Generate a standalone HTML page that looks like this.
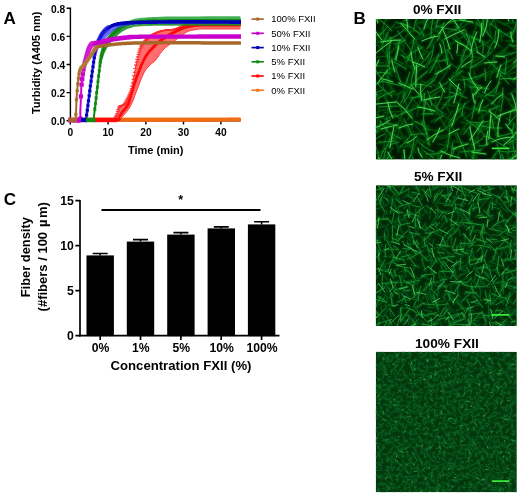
<!DOCTYPE html>
<html><head><meta charset="utf-8"><title>Figure</title>
<style>
html,body{margin:0;padding:0;background:#fff}
svg{display:block}
text{font-family:"Liberation Sans",Arial,Helvetica,sans-serif;fill:#000}
.b{font-weight:bold}
</style></head><body>
<svg width="520" height="496" viewBox="0 0 520 496">
<defs><filter id="bl" x="-5%" y="-5%" width="110%" height="110%"><feGaussianBlur stdDeviation="0.55"/></filter><filter id="bl2" x="-5%" y="-5%" width="110%" height="110%"><feGaussianBlur stdDeviation="1.3"/></filter>
<clipPath id="cA"><rect x="68" y="0" width="173" height="123"/></clipPath></defs>
<rect width="520" height="496" fill="#fff"/>
<path d="M70.4,7.6V121.4" stroke="#000" stroke-width="1.4" fill="none"/>
<path d="M69.6,120.7H240.6" stroke="#000" stroke-width="1.5" fill="none"/>
<path d="M66.6,8.3H70.3M66.6,36.4H70.3M66.6,64.5H70.3M66.6,92.6H70.3M66.6,120.7H70.3" stroke="#000" stroke-width="1.4"/>
<path d="M70.3,120.7V124.6M108.1,120.7V124.6M145.9,120.7V124.6M183.5,120.7V124.6M220.9,120.7V124.6" stroke="#000" stroke-width="1.4"/>
<text x="65.2" y="12.5" text-anchor="end" class="b" font-size="10.2">0.8</text>
<text x="65.2" y="40.6" text-anchor="end" class="b" font-size="10.2">0.6</text>
<text x="65.2" y="68.7" text-anchor="end" class="b" font-size="10.2">0.4</text>
<text x="65.2" y="96.8" text-anchor="end" class="b" font-size="10.2">0.2</text>
<text x="65.2" y="124.9" text-anchor="end" class="b" font-size="10.2">0.0</text>
<text x="70.3" y="135.7" text-anchor="middle" class="b" font-size="10.2">0</text>
<text x="108.1" y="135.7" text-anchor="middle" class="b" font-size="10.2">10</text>
<text x="145.9" y="135.7" text-anchor="middle" class="b" font-size="10.2">20</text>
<text x="183.5" y="135.7" text-anchor="middle" class="b" font-size="10.2">30</text>
<text x="220.9" y="135.7" text-anchor="middle" class="b" font-size="10.2">40</text>
<text x="155.7" y="153.5" text-anchor="middle" class="b" font-size="11">Time (min)</text>
<text transform="translate(39.9,62.8) rotate(-90)" text-anchor="middle" class="b" font-size="11">Turbidity (A405 nm)</text>
<text x="3.4" y="24.2" class="b" font-size="17">A</text>
<g clip-path="url(#cA)">
<path d="M70.2,119.9 L200.0,119.9 L222.0,119.7 L232.0,119.3 L240.2,119.3" fill="none" stroke="#f26c14" stroke-width="2.6"/>
<path d="M70.2,119.9h0M70.8,119.9h0M71.5,119.9h0M72.1,119.9h0M72.7,119.9h0M73.4,119.9h0M74.0,119.9h0M74.6,119.9h0M75.3,119.9h0M75.9,119.9h0M76.5,119.9h0M77.2,119.9h0M77.8,119.9h0M78.4,119.9h0M79.0,119.9h0M79.7,119.9h0M80.3,119.9h0M80.9,119.9h0M81.6,119.9h0M82.2,119.9h0M82.8,119.9h0M83.5,119.9h0M84.1,119.9h0M84.7,119.9h0M85.4,119.9h0M86.0,119.9h0M86.6,119.9h0M87.3,119.9h0M87.9,119.9h0M88.5,119.9h0M89.2,119.9h0M89.8,119.9h0M90.4,119.9h0M91.1,119.9h0M91.7,119.9h0M92.3,119.9h0M93.0,119.9h0M93.6,119.9h0M94.2,119.9h0M94.8,119.9h0M95.5,119.9h0M96.1,119.9h0M96.7,119.9h0M97.4,119.9h0M98.0,119.9h0M98.6,119.9h0M99.3,119.9h0M99.9,119.9h0M100.5,119.9h0M101.2,119.9h0M101.8,119.9h0M102.4,119.9h0M103.1,119.9h0M103.7,119.9h0M104.3,119.9h0M105.0,119.9h0M105.6,119.9h0M106.2,119.9h0M106.9,119.9h0M107.5,119.9h0M108.1,119.9h0M108.8,119.9h0M109.4,119.9h0M110.0,119.9h0M110.6,119.9h0M111.3,119.9h0M111.9,119.9h0M112.5,119.9h0M113.2,119.9h0M113.8,119.9h0M114.4,119.9h0M115.1,119.9h0M115.7,119.9h0M116.3,119.9h0M117.0,119.9h0M117.6,119.9h0M118.2,119.9h0M118.9,119.9h0M119.5,119.9h0M120.1,119.9h0M120.8,119.9h0M121.4,119.9h0M122.0,119.9h0M122.7,119.9h0M123.3,119.9h0M123.9,119.9h0M124.6,119.9h0M125.2,119.9h0M125.8,119.9h0M126.4,119.9h0M127.1,119.9h0M127.7,119.9h0M128.3,119.9h0M129.0,119.9h0M129.6,119.9h0M130.2,119.9h0M130.9,119.9h0M131.5,119.9h0M132.1,119.9h0M132.8,119.9h0M133.4,119.9h0M134.0,119.9h0M134.7,119.9h0M135.3,119.9h0M135.9,119.9h0M136.6,119.9h0M137.2,119.9h0M137.8,119.9h0M138.5,119.9h0M139.1,119.9h0M139.7,119.9h0M140.4,119.9h0M141.0,119.9h0M141.6,119.9h0M142.2,119.9h0M142.9,119.9h0M143.5,119.9h0M144.1,119.9h0M144.8,119.9h0M145.4,119.9h0M146.0,119.9h0M146.7,119.9h0M147.3,119.9h0M147.9,119.9h0M148.6,119.9h0M149.2,119.9h0M149.8,119.9h0M150.5,119.9h0M151.1,119.9h0M151.7,119.9h0M152.4,119.9h0M153.0,119.9h0M153.6,119.9h0M154.3,119.9h0M154.9,119.9h0M155.5,119.9h0M156.2,119.9h0M156.8,119.9h0M157.4,119.9h0M158.0,119.9h0M158.7,119.9h0M159.3,119.9h0M159.9,119.9h0M160.6,119.9h0M161.2,119.9h0M161.8,119.9h0M162.5,119.9h0M163.1,119.9h0M163.7,119.9h0M164.4,119.9h0M165.0,119.9h0M165.6,119.9h0M166.3,119.9h0M166.9,119.9h0M167.5,119.9h0M168.2,119.9h0M168.8,119.9h0M169.4,119.9h0M170.1,119.9h0M170.7,119.9h0M171.3,119.9h0M172.0,119.9h0M172.6,119.9h0M173.2,119.9h0M173.8,119.9h0M174.5,119.9h0M175.1,119.9h0M175.7,119.9h0M176.4,119.9h0M177.0,119.9h0M177.6,119.9h0M178.3,119.9h0M178.9,119.9h0M179.5,119.9h0M180.2,119.9h0M180.8,119.9h0M181.4,119.9h0M182.1,119.9h0M182.7,119.9h0M183.3,119.9h0M184.0,119.9h0M184.6,119.9h0M185.2,119.9h0M185.9,119.9h0M186.5,119.9h0M187.1,119.9h0M187.8,119.9h0M188.4,119.9h0M189.0,119.9h0M189.6,119.9h0M190.3,119.9h0M190.9,119.9h0M191.5,119.9h0M192.2,119.9h0M192.8,119.9h0M193.4,119.9h0M194.1,119.9h0M194.7,119.9h0M195.3,119.9h0M196.0,119.9h0M196.6,119.9h0M197.2,119.9h0M197.9,119.9h0M198.5,119.9h0M199.1,119.9h0M199.8,119.9h0M200.4,119.9h0M201.0,119.9h0M201.7,119.9h0M202.3,119.9h0M202.9,119.9h0M203.6,119.9h0M204.2,119.9h0M204.8,119.9h0M205.4,119.9h0M206.1,119.9h0M206.7,119.9h0M207.3,119.9h0M208.0,119.9h0M208.6,119.9h0M209.2,119.9h0M209.9,119.9h0M210.5,119.9h0M211.1,119.9h0M211.8,119.9h0M212.4,119.9h0M213.0,119.9h0M213.7,119.9h0M214.3,119.9h0M214.9,119.9h0M215.6,119.9h0M216.2,119.9h0M216.8,119.8h0M217.5,119.8h0M218.1,119.8h0M218.7,119.8h0M219.4,119.8h0M220.0,119.8h0M220.6,119.7h0M221.2,119.7h0M221.9,119.7h0M222.5,119.7h0M223.1,119.7h0M223.8,119.7h0M224.4,119.6h0M225.0,119.6h0M225.7,119.6h0M226.3,119.6h0M226.9,119.5h0M227.6,119.5h0M228.2,119.5h0M228.8,119.4h0M229.5,119.4h0M230.1,119.4h0M230.7,119.3h0M231.4,119.3h0M232.0,119.3h0M232.6,119.3h0M233.3,119.3h0M233.9,119.3h0M234.5,119.3h0M235.2,119.3h0M235.8,119.3h0M236.4,119.3h0M237.0,119.3h0M237.7,119.3h0M238.3,119.3h0M238.9,119.3h0M239.6,119.3h0M240.2,119.3h0" fill="none" stroke="#f26c14" stroke-width="3.2" stroke-linecap="round"/>
<path d="M70.2,119.7h0M72.1,119.7h0M74.0,119.7h0M75.9,119.7h0M77.8,119.7h0M79.7,119.7h0M81.6,119.7h0M83.5,119.7h0M85.4,119.7h0M87.3,119.7h0M89.2,119.7h0M91.0,119.7h0M92.9,119.7h0M94.8,119.7h0M96.7,119.7h0M98.6,119.7h0M100.5,119.7h0M102.4,119.7h0M104.3,119.7h0M106.2,119.7h0M108.1,119.7h0M110.0,119.7h0M111.9,119.7h0M113.8,119.7h0M115.7,119.7h0M117.6,119.7h0M119.5,119.7h0M121.4,119.7h0M123.3,119.7h0M125.2,119.7h0M127.1,119.7h0M128.9,119.7h0M130.8,119.7h0M132.7,119.7h0M134.6,119.7h0M136.5,119.7h0M138.4,119.7h0M140.3,119.7h0M142.2,119.7h0M144.1,119.7h0M146.0,119.7h0M147.9,119.7h0M149.8,119.7h0M151.7,119.7h0M153.6,119.7h0M155.5,119.7h0M157.4,119.7h0M159.3,119.7h0M161.2,119.7h0M163.1,119.7h0M164.9,119.7h0M166.8,119.7h0M168.7,119.7h0M170.6,119.7h0M172.5,119.7h0M174.4,119.7h0M176.3,119.7h0M178.2,119.7h0M180.1,119.7h0M182.0,119.7h0M183.9,119.7h0M185.8,119.7h0M187.7,119.7h0M189.6,119.7h0M191.5,119.7h0M193.4,119.7h0M195.3,119.7h0M197.2,119.7h0M199.1,119.7h0M201.0,119.7h0M202.9,119.7h0M204.7,119.7h0M206.6,119.7h0M208.5,119.7h0M210.4,119.7h0M212.3,119.7h0M214.2,119.7h0M216.1,119.7h0M218.0,119.7h0M219.9,119.7h0M221.8,119.7h0M223.7,119.7h0M225.6,119.7h0M227.5,119.7h0M229.4,119.7h0M231.3,119.7h0M233.2,119.7h0M235.1,119.7h0M237.0,119.7h0M238.9,119.7h0" stroke="#f26c14" stroke-width="4.3" stroke-linecap="round" fill="none"/>
<path d="M114.0,120.5 L114.4,119.6 L115.1,118.3 L115.8,116.7 L116.5,115.0 L117.2,113.0 L117.9,110.7 L118.6,108.5 L119.5,106.8 L120.5,105.9 L121.6,105.5 L122.8,105.3 L123.8,104.7 L124.7,103.8 L125.4,102.9 L126.2,101.6 L127.0,100.0 L128.0,97.9 L129.1,95.5 L130.2,92.8 L131.2,89.9 L132.0,86.7 L132.7,83.2 L133.4,79.5 L134.0,76.0 L134.6,72.6 L135.2,69.3 L135.8,65.9 L136.5,62.4 L137.4,58.6 L138.4,54.6 L139.5,50.7 L140.7,47.5 L141.9,45.1 L143.2,43.1 L144.6,41.5 L146.0,40.0 L147.4,38.5 L148.9,37.2 L150.5,36.0 L152.4,34.8 L154.5,33.7 L156.8,32.6 L159.3,31.6 L162.0,30.8 L165.1,30.3 L168.4,30.0 L171.8,29.7 L175.0,29.2 L177.8,28.3 L180.5,27.1 L183.1,25.9 L185.6,25.0 L187.2,24.5 L188.1,24.1 L190.1,23.9 L195.0,23.8 L204.9,23.7 L218.3,23.7 L231.4,23.8 L240.4,23.8 L240.4,29.0 L233.6,29.0 L223.8,29.0 L213.7,29.0 L206.0,29.0 L201.8,29.1 L199.4,29.1 L197.9,29.3 L196.0,29.6 L193.6,30.0 L191.3,30.4 L189.0,31.1 L186.5,32.2 L183.6,34.0 L180.5,36.3 L177.5,38.6 L175.0,40.6 L173.1,42.0 L171.7,43.0 L170.4,44.0 L169.0,45.0 L167.5,46.1 L166.1,47.1 L164.6,48.4 L163.0,50.0 L161.2,52.3 L159.2,55.1 L157.3,57.9 L155.5,60.2 L154.0,61.7 L152.7,62.7 L151.4,63.7 L150.0,65.0 L148.5,66.5 L147.0,68.2 L145.5,70.2 L143.9,72.9 L142.2,76.6 L140.4,81.0 L138.7,85.7 L137.0,90.0 L135.5,93.9 L134.1,97.8 L132.7,101.4 L131.2,104.7 L129.5,107.7 L127.6,110.4 L125.7,112.9 L124.0,115.0 L122.3,116.8 L120.5,118.4 L119.1,119.6 L118.0,120.5Z" fill="#ff4a4a" fill-opacity="0.8"/>
<path d="M113.3,118.2h3.6M113.3,118.2h3.6M113.9,116.9h3.6M113.9,116.9h3.6M114.5,115.4h3.6M114.5,115.4h3.6M115.2,113.7h3.6M115.2,113.7h3.6M115.8,111.6h3.6M115.8,111.6h3.6M116.4,109.6h3.6M116.4,109.6h3.6M117.1,108.0h3.6M117.1,108.0h3.6M117.7,106.8h3.6M117.7,106.8h3.6M118.3,106.1h3.6M118.3,106.1h3.6M119.0,105.8h3.6M119.0,105.8h3.6M119.6,105.6h3.6M119.6,105.6h3.6M120.2,105.4h3.6M120.2,105.4h3.6M120.9,105.3h3.6M120.9,105.3h3.6M121.5,105.0h3.6M121.5,105.0h3.6M122.1,104.6h3.6M122.1,104.6h3.6M122.8,103.9h3.6M122.8,103.9h3.6M123.4,103.2h3.6M123.4,103.2h3.6M124.0,102.2h3.6M124.0,102.2h3.6M124.6,101.1h3.6M124.6,101.1h3.6M125.3,99.8h3.6M125.3,99.8h3.6M125.9,98.6h3.6M125.9,98.6h3.6M126.5,97.2h3.6M126.5,97.2h3.6M127.2,95.9h3.6M127.2,95.9h3.6M127.8,94.4h3.6M127.8,94.4h3.6M128.4,92.8h3.6M128.4,92.8h3.6M129.1,91.0h3.6M129.1,91.0h3.6M129.7,88.8h3.6M129.7,88.8h3.6M130.3,86.1h3.6M130.3,86.1h3.6M131.0,82.8h3.6M131.0,82.8h3.6M131.6,79.3h3.6M131.6,79.3h3.6M132.2,75.8h3.6M132.2,75.8h3.6M132.9,72.3h3.6M132.9,72.3h3.6M133.5,68.5h3.6M133.5,68.5h3.6M134.1,65.0h3.6M134.1,65.0h3.6M134.8,62.1h3.6M134.8,62.1h3.6M135.4,59.5h3.6M135.4,59.5h3.6M136.0,56.9h3.6M136.0,56.9h3.6M136.7,54.5h3.6M136.7,54.5h3.6M137.3,52.2h3.6M137.3,52.2h3.6M137.9,50.2h3.6M137.9,50.2h3.6M138.6,48.4h3.6M138.6,48.4h3.6M139.2,46.9h3.6M139.2,46.9h3.6M139.8,45.6h3.6M139.8,45.6h3.6M140.4,44.5h3.6M140.4,44.5h3.6M141.1,43.6h3.6M141.1,43.6h3.6M141.7,42.8h3.6M141.7,42.8h3.6M142.3,42.0h3.6M142.3,42.0h3.6M143.0,41.3h3.6M143.0,41.3h3.6M143.6,40.6h3.6M143.6,40.6h3.6M144.2,40.0h3.6M144.2,40.0h3.6M144.9,39.3h3.6M144.9,39.3h3.6M145.5,38.7h3.6M145.5,38.7h3.6M146.1,38.0h3.6M146.1,38.0h3.6M146.8,37.5h3.6M146.8,37.5h3.6M147.4,37.0h3.6M147.4,37.0h3.6M148.0,36.5h3.6M148.0,36.5h3.6M148.7,36.0h3.6M148.7,36.0h3.6M149.3,35.6h3.6M149.3,35.6h3.6M149.9,35.2h3.6M149.9,35.2h3.6M150.6,34.8h3.6M150.6,34.8h3.6M151.2,34.5h3.6M151.2,34.5h3.6M151.8,34.1h3.6M151.8,34.1h3.6M152.5,33.8h3.6M152.5,33.8h3.6M153.1,33.5h3.6M153.1,33.5h3.6M153.7,33.2h3.6M153.7,33.2h3.6M154.4,32.9h3.6M154.4,32.9h3.6M155.0,32.6h3.6M155.0,32.6h3.6M155.6,32.3h3.6M155.6,32.3h3.6M156.2,32.1h3.6M156.2,32.1h3.6M156.9,31.8h3.6M156.9,31.8h3.6M157.5,31.6h3.6M157.5,31.6h3.6M158.1,31.4h3.6M158.1,31.4h3.6M158.8,31.2h3.6M158.8,31.2h3.6M159.4,31.0h3.6M159.4,31.0h3.6M160.0,30.8h3.6M160.0,30.8h3.6M160.7,30.7h3.6M160.7,30.7h3.6M161.3,30.6h3.6M161.3,30.6h3.6M161.9,30.5h3.6M161.9,30.5h3.6M162.6,30.4h3.6M162.6,30.4h3.6M163.2,30.3h3.6M163.2,30.3h3.6M163.8,30.2h3.6M163.8,30.2h3.6M164.5,30.2h3.6M164.5,30.2h3.6M165.1,30.1h3.6M165.1,30.1h3.6M165.7,30.1h3.6M165.7,30.1h3.6M166.4,30.0h3.6M166.4,30.0h3.6M167.0,30.0h3.6M167.0,30.0h3.6M167.6,29.9h3.6M167.6,29.9h3.6M168.3,29.9h3.6M168.3,29.9h3.6M168.9,29.8h3.6M168.9,29.8h3.6M169.5,29.8h3.6M169.5,29.8h3.6M170.2,29.7h3.6M170.2,29.7h3.6M170.8,29.6h3.6M170.8,29.6h3.6M171.4,29.5h3.6M171.4,29.5h3.6M172.0,29.4h3.6M172.0,29.4h3.6M172.7,29.3h3.6M172.7,29.3h3.6M173.3,29.2h3.6M173.3,29.2h3.6M173.9,29.0h3.6M173.9,29.0h3.6M174.6,28.8h3.6M174.6,28.8h3.6M175.2,28.6h3.6M175.2,28.6h3.6M175.8,28.3h3.6M175.8,28.3h3.6M176.5,28.1h3.6M176.5,28.1h3.6M177.1,27.8h3.6M177.1,27.8h3.6M177.7,27.5h3.6M177.7,27.5h3.6M178.4,27.2h3.6M178.4,27.2h3.6M179.0,26.9h3.6M179.0,26.9h3.6M179.6,26.6h3.6M179.6,26.6h3.6M180.3,26.4h3.6M180.3,26.4h3.6M180.9,26.1h3.6M180.9,26.1h3.6M181.5,25.8h3.6M181.5,25.8h3.6M182.2,25.5h3.6M182.2,25.5h3.6M182.8,25.3h3.6M182.8,25.3h3.6M183.4,25.1h3.6M183.4,25.1h3.6M184.1,24.9h3.6M184.1,24.9h3.6M184.7,24.7h3.6M184.7,24.7h3.6M185.3,24.5h3.6M185.3,24.5h3.6M186.0,24.2h3.6M186.0,24.2h3.6M186.6,24.1h3.6M186.6,24.1h3.6M187.2,24.0h3.6M187.2,24.0h3.6M187.8,24.0h3.6M187.8,24.0h3.6M188.5,23.9h3.6M188.5,23.9h3.6M189.1,23.9h3.6M189.1,23.9h3.6M189.7,23.9h3.6M189.7,23.9h3.6M190.4,23.9h3.6M190.4,23.9h3.6M191.0,23.9h3.6M191.0,23.9h3.6M191.6,23.8h3.6M191.6,23.8h3.6M192.3,23.8h3.6M192.3,23.8h3.6M192.9,23.8h3.6M192.9,23.8h3.6M193.5,23.8h3.6M193.5,23.8h3.6M194.2,23.8h3.6M194.2,23.8h3.6M194.8,23.8h3.6M194.8,23.8h3.6M195.4,23.8h3.6M195.4,23.8h3.6M196.1,23.8h3.6M196.1,23.8h3.6M196.7,23.8h3.6M196.7,23.8h3.6M197.3,23.7h3.6M197.3,23.7h3.6M198.0,23.7h3.6M198.0,23.7h3.6M198.6,23.7h3.6M198.6,23.7h3.6M199.2,23.7h3.6M199.2,23.7h3.6M199.9,23.7h3.6M199.9,23.7h3.6M200.5,23.7h3.6M200.5,23.7h3.6M201.1,23.7h3.6M201.1,23.7h3.6M201.8,23.7h3.6M201.8,23.7h3.6M202.4,23.7h3.6M202.4,23.7h3.6M203.0,23.7h3.6M203.0,23.7h3.6M203.6,23.7h3.6M203.6,23.7h3.6M204.3,23.7h3.6M204.3,23.7h3.6M204.9,23.7h3.6M204.9,23.7h3.6M205.5,23.7h3.6M205.5,23.7h3.6M206.2,23.7h3.6M206.2,23.7h3.6M206.8,23.7h3.6M206.8,23.7h3.6M207.4,23.7h3.6M207.4,23.7h3.6M208.1,23.7h3.6M208.1,23.7h3.6M208.7,23.7h3.6M208.7,23.7h3.6M209.3,23.7h3.6M209.3,23.7h3.6M210.0,23.7h3.6M210.0,23.7h3.6M210.6,23.7h3.6M210.6,23.7h3.6M211.2,23.7h3.6M211.2,23.7h3.6M211.9,23.7h3.6M211.9,23.7h3.6M212.5,23.7h3.6M212.5,23.7h3.6M213.1,23.7h3.6M213.1,23.7h3.6M213.8,23.7h3.6M213.8,23.7h3.6M214.4,23.7h3.6M214.4,23.7h3.6M215.0,23.7h3.6M215.0,23.7h3.6M215.7,23.7h3.6M215.7,23.7h3.6M216.3,23.7h3.6M216.3,23.7h3.6M216.9,23.7h3.6M216.9,23.7h3.6M217.6,23.7h3.6M217.6,23.7h3.6M218.2,23.7h3.6M218.2,23.7h3.6M218.8,23.7h3.6M218.8,23.7h3.6M219.4,23.7h3.6M219.4,23.7h3.6M220.1,23.7h3.6M220.1,23.7h3.6M220.7,23.7h3.6M220.7,23.7h3.6M221.3,23.7h3.6M221.3,23.7h3.6M222.0,23.7h3.6M222.0,23.7h3.6M222.6,23.7h3.6M222.6,23.7h3.6M223.2,23.7h3.6M223.2,23.7h3.6M223.9,23.7h3.6M223.9,23.7h3.6M224.5,23.8h3.6M224.5,23.8h3.6M225.1,23.8h3.6M225.1,23.8h3.6M225.8,23.8h3.6M225.8,23.8h3.6M226.4,23.8h3.6M226.4,23.8h3.6M227.0,23.8h3.6M227.0,23.8h3.6M227.7,23.8h3.6M227.7,23.8h3.6M228.3,23.8h3.6M228.3,23.8h3.6M228.9,23.8h3.6M228.9,23.8h3.6M229.6,23.8h3.6M229.6,23.8h3.6M230.2,23.8h3.6M230.2,23.8h3.6M230.8,23.8h3.6M230.8,23.8h3.6M231.5,23.8h3.6M231.5,23.8h3.6M232.1,23.8h3.6M232.1,23.8h3.6M232.7,23.8h3.6M232.7,23.8h3.6M233.4,23.8h3.6M233.4,23.8h3.6M234.0,23.8h3.6M234.0,23.8h3.6M234.6,23.8h3.6M234.6,23.8h3.6M235.2,23.8h3.6M235.2,23.8h3.6M235.9,23.8h3.6M235.9,23.8h3.6M236.5,23.8h3.6M236.5,23.8h3.6M237.1,23.8h3.6M237.1,23.8h3.6M237.8,23.8h3.6M237.8,23.8h3.6M238.4,23.8h3.6M238.4,23.8h3.6" fill="none" stroke="#ff2a2a" stroke-width="0.7"/>
<path d="M114.0,120.5 L114.3,119.9 L114.6,119.2 L115.1,118.3 L115.5,117.2 L116.0,116.1 L116.5,115.0 L117.0,113.7 L117.4,112.2 L117.9,110.7 L118.4,109.2 L118.9,107.8 L119.5,106.8 L120.2,106.1 L120.9,105.7 L121.6,105.5 L122.4,105.4 L123.1,105.1 L123.8,104.7 L124.4,104.1 L124.9,103.5 L125.4,102.9 L125.9,102.1 L126.4,101.1 L127.0,100.0 L127.7,98.7 L128.4,97.2 L129.1,95.5 L129.9,93.7 L130.6,91.9 L131.2,89.9 L131.8,87.8 L132.2,85.5 L132.7,83.2 L133.1,80.8 L133.6,78.3 L134.0,76.0 L134.4,73.7 L134.8,71.5 L135.2,69.3 L135.6,67.0 L136.0,64.7 L136.5,62.4 L137.1,59.9 L137.7,57.3 L138.4,54.6 L139.2,52.0 L139.9,49.6 L140.7,47.5 L141.5,45.8 L142.3,44.4 L143.2,43.1 L144.1,42.1 L145.0,41.0 L146.0,40.0 L147.0,39.0 L147.9,38.1 L148.9,37.2 L150.0,36.4 L151.1,35.6 L152.4,34.8 L153.8,34.0 L155.2,33.3 L156.8,32.6 L158.4,31.9 L160.2,31.3 L162.0,30.8 L164.0,30.4 L166.2,30.2 L168.4,30.0 L170.7,29.8 L172.9,29.6 L175.0,29.2 L176.9,28.6 L178.8,27.9 L180.5,27.1 L182.2,26.3 L183.9,25.6 L185.6,25.0 L186.8,24.6 L187.5,24.3 L188.1,24.1 L189.2,24.0 L191.4,23.9 L195.0,23.8 L201.0,23.7 L209.1,23.7 L218.3,23.7 L227.3,23.8 L235.0,23.8 L240.4,23.8" fill="none" stroke="#ff3030" stroke-width="1.0" stroke-linejoin="round"/>
<path d="M118.0,120.5 L118.6,120.0 L119.5,119.3 L120.5,118.4 L121.7,117.4 L122.9,116.3 L124.0,115.0 L125.1,113.6 L126.4,112.1 L127.6,110.4 L128.9,108.6 L130.1,106.7 L131.2,104.7 L132.2,102.5 L133.2,100.2 L134.1,97.8 L135.0,95.2 L136.0,92.6 L137.0,90.0 L138.1,87.2 L139.2,84.1 L140.4,81.0 L141.6,78.0 L142.8,75.2 L143.9,72.9 L145.0,71.0 L146.0,69.5 L147.0,68.2 L148.0,67.1 L149.0,66.0 L150.0,65.0 L150.9,64.1 L151.8,63.4 L152.7,62.7 L153.5,62.1 L154.5,61.3 L155.5,60.2 L156.7,58.8 L157.9,57.0 L159.2,55.1 L160.5,53.2 L161.8,51.5 L163.0,50.0 L164.1,48.9 L165.1,47.9 L166.1,47.1 L167.1,46.4 L168.0,45.7 L169.0,45.0 L169.9,44.3 L170.8,43.6 L171.7,43.0 L172.6,42.3 L173.7,41.6 L175.0,40.6 L176.6,39.4 L178.5,37.9 L180.5,36.3 L182.6,34.7 L184.6,33.3 L186.5,32.2 L188.2,31.4 L189.8,30.8 L191.3,30.4 L192.9,30.1 L194.4,29.9 L196.0,29.6 L197.4,29.4 L198.4,29.2 L199.4,29.1 L200.8,29.1 L202.9,29.0 L206.0,29.0 L210.7,29.0 L216.9,29.0 L223.8,29.0 L230.6,29.0 L236.4,29.0 L240.4,29.0" fill="none" stroke="#ff3030" stroke-width="0.9" stroke-linejoin="round"/>
<path d="M70.2,120.0 L75.5,120.0 L83.3,120.1 L92.4,120.2 L101.4,120.2 L109.4,120.2 L115.0,120.0 L118.0,119.7 L119.4,119.3 L119.5,118.9 L119.2,118.3 L118.8,117.7 L119.0,117.0 L119.7,116.2 L120.3,115.2 L120.9,114.2 L121.6,113.1 L122.3,112.1 L123.0,111.0 L123.8,110.0 L124.6,109.2 L125.5,108.3 L126.4,107.3 L127.2,106.1 L128.0,104.7 L128.7,103.0 L129.4,101.1 L130.0,99.0 L130.6,96.8 L131.3,94.4 L132.0,92.0 L132.8,89.4 L133.6,86.7 L134.5,83.9 L135.4,81.0 L136.4,78.0 L137.5,75.0 L138.7,71.9 L140.0,68.6 L141.4,65.2 L142.9,61.9 L144.4,58.8 L146.0,56.0 L147.6,53.5 L149.4,51.3 L151.2,49.2 L153.0,47.4 L154.8,45.6 L156.5,44.0 L158.1,42.5 L159.7,41.2 L161.2,40.1 L162.8,39.0 L164.3,38.0 L165.8,37.0 L167.3,36.0 L168.9,35.1 L170.4,34.2 L171.9,33.4 L173.4,32.6 L175.0,31.8 L176.6,31.0 L178.2,30.2 L179.8,29.5 L181.4,28.8 L183.0,28.2 L184.6,27.6 L186.2,27.1 L187.9,26.7 L189.5,26.4 L191.1,26.1 L192.7,25.8 L194.2,25.6 L195.2,25.4 L195.8,25.3 L196.3,25.2 L197.2,25.2 L198.9,25.1 L202.0,25.1 L207.1,25.1 L214.0,25.0 L221.7,25.0 L229.3,25.0 L235.9,25.0 L240.4,25.0" fill="none" stroke="#ff0a0a" stroke-width="1.6" stroke-linejoin="round"/>
<path d="M70.2,120.0h0M70.8,120.0h0M71.5,120.0h0M72.1,120.0h0M72.7,120.0h0M73.4,120.0h0M74.0,120.0h0M74.6,120.0h0M75.3,120.0h0M75.9,120.0h0M76.5,120.0h0M77.2,120.1h0M77.8,120.1h0M78.4,120.1h0M79.0,120.1h0M79.7,120.1h0M80.3,120.1h0M80.9,120.1h0M81.6,120.1h0M82.2,120.1h0M82.8,120.1h0M83.5,120.1h0M84.1,120.1h0M84.7,120.1h0M85.4,120.1h0M86.0,120.1h0M86.6,120.1h0M87.3,120.1h0M87.9,120.2h0M88.5,120.2h0M89.2,120.2h0M89.8,120.2h0M90.4,120.2h0M91.1,120.2h0M91.7,120.2h0M92.3,120.2h0M93.0,120.2h0M93.6,120.2h0M94.2,120.2h0M94.8,120.2h0M95.5,120.2h0M96.1,120.2h0M96.7,120.2h0M97.4,120.2h0M98.0,120.2h0M98.6,120.2h0M99.3,120.2h0M99.9,120.2h0M100.5,120.2h0M101.2,120.2h0M101.8,120.2h0M102.4,120.2h0M103.1,120.2h0M103.7,120.2h0M104.3,120.2h0M105.0,120.2h0M105.6,120.2h0M106.2,120.2h0M106.9,120.2h0M107.5,120.2h0M108.1,120.2h0M108.8,120.2h0M109.4,120.2h0M110.0,120.2h0M110.6,120.1h0M111.3,120.1h0M111.9,120.1h0M112.5,120.1h0M113.2,120.1h0M113.8,120.1h0M114.4,120.0h0M115.1,120.0h0M115.7,119.9h0M116.3,119.9h0M117.0,119.8h0M117.6,119.8h0M118.2,119.7h0M118.9,119.5h0M119.5,119.2h0M120.1,115.5h0M120.8,114.5h0M121.4,113.5h0M122.0,112.4h0M122.7,111.5h0M123.3,110.6h0M123.9,109.9h0M124.6,109.2h0M125.2,108.6h0M125.8,107.9h0M126.4,107.2h0M127.1,106.3h0M127.7,105.3h0M128.3,103.9h0M129.0,102.2h0M129.6,100.3h0M130.2,98.1h0M130.9,95.8h0M131.5,93.6h0M132.1,91.6h0M132.8,89.5h0M133.4,87.4h0M134.0,85.3h0M134.7,83.3h0M135.3,81.3h0M135.9,79.3h0M136.6,77.5h0M137.2,75.8h0M137.8,74.2h0M138.5,72.5h0M139.1,70.9h0M139.7,69.3h0M140.4,67.8h0M141.0,66.3h0M141.6,64.8h0M142.2,63.3h0M142.9,61.9h0M143.5,60.6h0M144.1,59.4h0M144.8,58.2h0M145.4,57.0h0M146.0,55.9h0M146.7,55.0h0M147.3,54.0h0M147.9,53.2h0M148.6,52.3h0M149.2,51.5h0M149.8,50.8h0M150.5,50.1h0M151.1,49.4h0M151.7,48.7h0M152.4,48.0h0M153.0,47.4h0M153.6,46.8h0M154.3,46.2h0M154.9,45.5h0M155.5,44.9h0M156.2,44.3h0M156.8,43.7h0M157.4,43.1h0M158.0,42.6h0M158.7,42.1h0M159.3,41.5h0M159.9,41.0h0M160.6,40.6h0M161.2,40.1h0M161.8,39.6h0M162.5,39.2h0M163.1,38.8h0M163.7,38.4h0M164.4,37.9h0M165.0,37.5h0M165.6,37.1h0M166.3,36.7h0M166.9,36.3h0M167.5,35.9h0M168.2,35.5h0M168.8,35.1h0M169.4,34.8h0M170.1,34.4h0M170.7,34.1h0M171.3,33.7h0M172.0,33.4h0M172.6,33.0h0M173.2,32.7h0M173.8,32.4h0M174.5,32.1h0M175.1,31.7h0M175.7,31.4h0M176.4,31.1h0M177.0,30.8h0M177.6,30.5h0M178.3,30.2h0M178.9,29.9h0M179.5,29.6h0M180.2,29.3h0M180.8,29.0h0M181.4,28.8h0M182.1,28.5h0M182.7,28.3h0M183.3,28.0h0M184.0,27.8h0M184.6,27.6h0M185.2,27.4h0M185.9,27.2h0M186.5,27.1h0M187.1,26.9h0M187.8,26.7h0M188.4,26.6h0M189.0,26.5h0M189.6,26.3h0M190.3,26.2h0M190.9,26.1h0M191.5,26.0h0M192.2,25.9h0M192.8,25.8h0M193.4,25.7h0M194.1,25.6h0M194.7,25.5h0M195.3,25.4h0M196.0,25.3h0M196.6,25.2h0M197.2,25.2h0M197.9,25.2h0M198.5,25.2h0M199.1,25.1h0M199.8,25.1h0M200.4,25.1h0M201.0,25.1h0M201.7,25.1h0M202.3,25.1h0M202.9,25.1h0M203.6,25.1h0M204.2,25.1h0M204.8,25.1h0M205.4,25.1h0M206.1,25.1h0M206.7,25.1h0M207.3,25.1h0M208.0,25.1h0M208.6,25.1h0M209.2,25.0h0M209.9,25.0h0M210.5,25.0h0M211.1,25.0h0M211.8,25.0h0M212.4,25.0h0M213.0,25.0h0M213.7,25.0h0M214.3,25.0h0M214.9,25.0h0M215.6,25.0h0M216.2,25.0h0M216.8,25.0h0M217.5,25.0h0M218.1,25.0h0M218.7,25.0h0M219.4,25.0h0M220.0,25.0h0M220.6,25.0h0M221.2,25.0h0M221.9,25.0h0M222.5,25.0h0M223.1,25.0h0M223.8,25.0h0M224.4,25.0h0M225.0,25.0h0M225.7,25.0h0M226.3,25.0h0M226.9,25.0h0M227.6,25.0h0M228.2,25.0h0M228.8,25.0h0M229.5,25.0h0M230.1,25.0h0M230.7,25.0h0M231.4,25.0h0M232.0,25.0h0M232.6,25.0h0M233.3,25.0h0M233.9,25.0h0M234.5,25.0h0M235.2,25.0h0M235.8,25.0h0M236.4,25.0h0M237.0,25.0h0M237.7,25.0h0M238.3,25.0h0M238.9,25.0h0M239.6,25.0h0M240.2,25.0h0" fill="none" stroke="#ff0a0a" stroke-width="3.0" stroke-linecap="round"/>
<path d="M93,120H117" stroke="#ff0a0a" stroke-width="4.4"/>
<path d="M99.8,64.0 L100.2,61.8 L100.7,58.6 L101.3,55.1 L102.0,52.0 L102.8,49.3 L103.6,46.6 L104.5,44.2 L105.5,42.0 L106.5,40.2 L107.7,38.7 L108.8,37.4 L110.0,36.0 L111.2,34.6 L112.5,33.1 L113.7,31.8 L115.0,30.5 L116.2,29.4 L117.3,28.4 L118.5,27.5 L120.0,26.5 L121.8,25.5 L123.9,24.4 L126.0,23.5 L128.0,22.6 L129.7,21.9 L131.3,21.2 L133.0,20.7 L135.0,20.2 L137.4,19.8 L140.1,19.4 L142.9,19.2 L146.0,18.9 L149.3,18.7 L152.8,18.5 L156.4,18.3 L160.0,18.2 L162.5,18.1 L164.3,18.0 L167.7,18.0 L175.0,17.9 L189.3,17.8 L208.6,17.7 L227.5,17.7 L240.4,17.6 L240.4,24.9 L227.9,24.9 L209.8,24.8 L190.7,24.8 L175.0,24.8 L163.7,24.9 L154.6,24.9 L147.1,25.1 L141.0,25.3 L136.7,25.6 L134.2,25.9 L132.4,26.4 L130.4,27.0 L127.9,27.9 L125.5,28.9 L123.2,30.1 L121.0,31.5 L118.8,33.2 L116.7,35.2 L114.8,37.2 L113.0,39.0 L111.5,40.6 L110.3,42.0 L109.1,43.4 L108.0,45.0 L106.8,46.8 L105.7,48.7 L104.6,50.7 L103.6,53.0 L102.6,55.8 L101.6,59.0 L100.8,62.0 L100.2,64.0Z" fill="#3fae4f" fill-opacity="0.7"/>
<path d="M100.2,64.0 L100.6,62.8 L101.0,61.0 L101.6,59.0 L102.3,56.9 L102.9,54.8 L103.6,53.0 L104.3,51.5 L105.0,50.0 L105.7,48.7 L106.5,47.4 L107.2,46.2 L108.0,45.0 L108.8,43.9 L109.5,42.9 L110.3,42.0 L111.1,41.0 L112.0,40.1 L113.0,39.0 L114.1,37.8 L115.4,36.5 L116.7,35.2 L118.1,33.8 L119.6,32.6 L121.0,31.5 L122.5,30.5 L124.0,29.7 L125.5,28.9 L127.1,28.2 L128.7,27.6 L130.4,27.0 L131.8,26.5 L133.0,26.2 L134.2,25.9 L135.7,25.7 L137.9,25.5 L141.0,25.3 L144.9,25.1 L149.4,25.0 L154.6,24.9 L160.5,24.9 L167.2,24.8 L175.0,24.8 L184.8,24.8 L196.9,24.8 L209.8,24.8 L222.3,24.9 L232.9,24.9 L240.4,24.9" fill="none" stroke="#1c8a1c" stroke-width="1.9" stroke-linejoin="round" stroke-opacity="0.8"/>
<path d="M99.8,64.0 L100.0,62.7 L100.3,60.8 L100.7,58.6 L101.1,56.3 L101.5,54.0 L102.0,52.0 L102.5,50.2 L103.0,48.4 L103.6,46.6 L104.2,45.0 L104.8,43.4 L105.5,42.0 L106.2,40.8 L106.9,39.7 L107.7,38.7 L108.4,37.8 L109.2,36.9 L110.0,36.0 L110.8,35.0 L111.6,34.1 L112.5,33.1 L113.3,32.2 L114.2,31.3 L115.0,30.5 L115.8,29.7 L116.6,29.1 L117.3,28.4 L118.1,27.8 L119.0,27.1 L120.0,26.5 L121.2,25.8 L122.5,25.1 L123.9,24.4 L125.3,23.8 L126.7,23.2 L128.0,22.6 L129.2,22.1 L130.3,21.6 L131.3,21.2 L132.4,20.9 L133.6,20.5 L135.0,20.2 L136.6,19.9 L138.3,19.7 L140.1,19.4 L142.0,19.2 L143.9,19.1 L146.0,18.9 L148.1,18.7 L150.4,18.6 L152.8,18.5 L155.1,18.4 L157.6,18.3 L160.0,18.2 L161.9,18.1 L163.1,18.1 L164.3,18.0 L166.2,18.0 L169.6,17.9 L175.0,17.9 L183.7,17.8 L195.5,17.8 L208.6,17.7 L221.6,17.7 L232.7,17.6 L240.4,17.6" fill="none" stroke="#44b055" stroke-width="2.8" stroke-linejoin="round"/>
<path d="M70.2,120.0 L72.9,120.0 L76.9,120.1 L81.5,120.2 L86.2,120.3 L90.2,120.2 L93.0,120.0 L94.4,120.1 L94.8,120.7 L94.5,121.2 L94.1,121.0 L93.8,119.4 L94.0,116.0 L94.8,109.8 L95.8,101.1 L96.9,91.1 L98.1,80.9 L99.1,71.8 L100.0,65.0 L100.6,60.6 L101.1,57.7 L101.4,55.9 L101.7,54.6 L102.1,53.5 L102.5,52.0 L103.0,50.2 L103.6,48.6 L104.2,47.0 L104.8,45.6 L105.4,44.3 L106.0,43.0 L106.6,41.9 L107.3,40.9 L107.9,40.0 L108.6,39.2 L109.3,38.4 L110.0,37.5 L110.8,36.6 L111.6,35.7 L112.4,34.8 L113.3,33.9 L114.2,33.1 L115.0,32.3 L115.8,31.6 L116.6,30.9 L117.3,30.3 L118.1,29.7 L119.0,29.1 L120.0,28.5 L121.2,27.8 L122.5,27.1 L123.9,26.4 L125.3,25.7 L126.7,25.1 L128.0,24.5 L129.2,24.0 L130.3,23.6 L131.3,23.3 L132.4,23.0 L133.6,22.7 L135.0,22.4 L136.6,22.1 L138.3,21.9 L140.1,21.7 L142.0,21.5 L143.9,21.3 L146.0,21.2 L147.4,21.1 L148.0,21.0 L148.7,20.9 L150.3,20.8 L153.8,20.8 L160.0,20.7 L170.5,20.6 L184.9,20.6 L201.1,20.6 L217.1,20.5 L230.9,20.5 L240.4,20.5" fill="none" stroke="#128a12" stroke-width="2.0" stroke-linejoin="round"/>
<path d="M70.2,120.0h0M70.8,120.0h0M71.5,120.0h0M72.1,120.0h0M72.7,120.0h0M73.4,120.1h0M74.0,120.1h0M74.6,120.1h0M75.3,120.1h0M75.9,120.1h0M76.5,120.1h0M77.2,120.2h0M77.8,120.2h0M78.4,120.2h0M79.0,120.2h0M79.7,120.2h0M80.3,120.2h0M80.9,120.2h0M81.6,120.3h0M82.2,120.3h0M82.8,120.3h0M83.5,120.3h0M84.1,120.3h0M84.7,120.3h0M85.4,120.3h0M86.0,120.3h0M86.6,120.3h0M87.3,120.3h0M87.9,120.3h0M88.5,120.3h0M89.2,120.3h0M89.8,120.2h0M90.4,120.2h0M91.1,120.2h0M91.7,120.1h0M92.3,120.1h0M93.0,120.0h0M93.6,120.0h0M94.2,120.1h0M94.8,108.9h0M95.5,103.5h0M96.1,98.0h0M96.7,92.5h0M97.4,87.0h0M98.0,81.5h0M98.6,76.1h0M99.3,70.8h0M99.9,65.7h0M100.5,61.1h0M101.2,57.1h0M101.8,54.4h0M102.4,52.2h0M103.1,50.1h0M103.7,48.2h0M104.3,46.6h0M105.0,45.1h0M105.6,43.8h0M106.2,42.6h0M106.9,41.5h0M107.5,40.6h0M108.1,39.7h0M108.8,39.0h0M109.4,38.2h0M110.0,37.5h0M110.6,36.7h0M111.3,36.0h0M111.9,35.3h0M112.5,34.7h0M113.2,34.0h0M113.8,33.4h0M114.4,32.8h0M115.1,32.2h0M115.7,31.7h0M116.3,31.1h0M117.0,30.6h0M117.6,30.1h0M118.2,29.6h0M118.9,29.2h0M119.5,28.8h0M120.1,28.4h0M120.8,28.1h0M121.4,27.7h0M122.0,27.4h0M122.7,27.0h0M123.3,26.7h0M123.9,26.4h0M124.6,26.1h0M125.2,25.8h0M125.8,25.5h0M126.4,25.2h0M127.1,24.9h0M127.7,24.6h0M128.3,24.4h0M129.0,24.1h0M129.6,23.9h0M130.2,23.6h0M130.9,23.4h0M131.5,23.2h0M132.1,23.0h0M132.8,22.9h0M133.4,22.7h0M134.0,22.6h0M134.7,22.5h0M135.3,22.3h0M135.9,22.2h0M136.6,22.1h0M137.2,22.0h0M137.8,22.0h0M138.5,21.9h0M139.1,21.8h0M139.7,21.7h0M140.4,21.7h0M141.0,21.6h0M141.6,21.5h0M142.2,21.5h0M142.9,21.4h0M143.5,21.4h0M144.1,21.3h0M144.8,21.3h0M145.4,21.2h0M146.0,21.2h0M146.7,21.1h0M147.3,21.1h0M147.9,21.0h0M148.6,20.9h0M149.2,20.9h0M149.8,20.8h0M150.5,20.8h0M151.1,20.8h0M151.7,20.8h0M152.4,20.8h0M153.0,20.8h0M153.6,20.8h0M154.3,20.8h0M154.9,20.7h0M155.5,20.7h0M156.2,20.7h0M156.8,20.7h0M157.4,20.7h0M158.0,20.7h0M158.7,20.7h0M159.3,20.7h0M159.9,20.7h0M160.6,20.7h0M161.2,20.7h0M161.8,20.7h0M162.5,20.7h0M163.1,20.7h0M163.7,20.7h0M164.4,20.7h0M165.0,20.7h0M165.6,20.7h0M166.3,20.7h0M166.9,20.7h0M167.5,20.7h0M168.2,20.7h0M168.8,20.7h0M169.4,20.7h0M170.1,20.6h0M170.7,20.6h0M171.3,20.6h0M172.0,20.6h0M172.6,20.6h0M173.2,20.6h0M173.8,20.6h0M174.5,20.6h0M175.1,20.6h0M175.7,20.6h0M176.4,20.6h0M177.0,20.6h0M177.6,20.6h0M178.3,20.6h0M178.9,20.6h0M179.5,20.6h0M180.2,20.6h0M180.8,20.6h0M181.4,20.6h0M182.1,20.6h0M182.7,20.6h0M183.3,20.6h0M184.0,20.6h0M184.6,20.6h0M185.2,20.6h0M185.9,20.6h0M186.5,20.6h0M187.1,20.6h0M187.8,20.6h0M188.4,20.6h0M189.0,20.6h0M189.6,20.6h0M190.3,20.6h0M190.9,20.6h0M191.5,20.6h0M192.2,20.6h0M192.8,20.6h0M193.4,20.6h0M194.1,20.6h0M194.7,20.6h0M195.3,20.6h0M196.0,20.6h0M196.6,20.6h0M197.2,20.6h0M197.9,20.6h0M198.5,20.6h0M199.1,20.6h0M199.8,20.6h0M200.4,20.6h0M201.0,20.6h0M201.7,20.6h0M202.3,20.6h0M202.9,20.6h0M203.6,20.6h0M204.2,20.6h0M204.8,20.6h0M205.4,20.6h0M206.1,20.6h0M206.7,20.6h0M207.3,20.6h0M208.0,20.6h0M208.6,20.6h0M209.2,20.6h0M209.9,20.6h0M210.5,20.6h0M211.1,20.6h0M211.8,20.5h0M212.4,20.5h0M213.0,20.5h0M213.7,20.5h0M214.3,20.5h0M214.9,20.5h0M215.6,20.5h0M216.2,20.5h0M216.8,20.5h0M217.5,20.5h0M218.1,20.5h0M218.7,20.5h0M219.4,20.5h0M220.0,20.5h0M220.6,20.5h0M221.2,20.5h0M221.9,20.5h0M222.5,20.5h0M223.1,20.5h0M223.8,20.5h0M224.4,20.5h0M225.0,20.5h0M225.7,20.5h0M226.3,20.5h0M226.9,20.5h0M227.6,20.5h0M228.2,20.5h0M228.8,20.5h0M229.5,20.5h0M230.1,20.5h0M230.7,20.5h0M231.4,20.5h0M232.0,20.5h0M232.6,20.5h0M233.3,20.5h0M233.9,20.5h0M234.5,20.5h0M235.2,20.5h0M235.8,20.5h0M236.4,20.5h0M237.0,20.5h0M237.7,20.5h0M238.3,20.5h0M238.9,20.5h0M239.6,20.5h0M240.2,20.5h0" fill="none" stroke="#128a12" stroke-width="3.1" stroke-linecap="round"/>
<path d="M93.1,107.5h3.4M93.1,110.3h3.4M93.8,102.1h3.4M93.8,104.9h3.4M94.4,96.6h3.4M94.4,99.4h3.4M95.0,91.1h3.4M95.0,93.9h3.4M95.7,85.6h3.4M95.7,88.4h3.4M96.3,80.1h3.4M96.3,82.9h3.4M96.9,74.7h3.4M96.9,77.5h3.4M97.6,69.4h3.4M97.6,72.2h3.4M98.2,64.3h3.4M98.2,67.1h3.4M98.8,59.7h3.4M98.8,62.5h3.4M99.5,55.7h3.4M99.5,58.5h3.4M100.1,53.0h3.4M100.1,55.8h3.4M100.7,50.8h3.4M100.7,53.6h3.4M101.4,48.7h3.4M101.4,51.5h3.4M102.0,46.8h3.4M102.0,49.6h3.4M102.6,45.2h3.4M102.6,48.0h3.4M103.3,43.7h3.4M103.3,46.5h3.4M103.9,42.4h3.4M103.9,45.2h3.4M104.5,41.2h3.4M104.5,44.0h3.4M105.2,40.1h3.4M105.2,42.9h3.4M105.8,39.2h3.4M105.8,42.0h3.4M106.4,38.3h3.4M106.4,41.1h3.4M107.1,37.6h3.4M107.1,40.4h3.4M107.7,36.8h3.4M107.7,39.6h3.4M108.3,36.1h3.4M108.3,38.9h3.4M108.9,35.3h3.4M108.9,38.1h3.4M109.6,34.6h3.4M109.6,37.4h3.4M110.2,33.9h3.4M110.2,36.7h3.4M110.8,33.3h3.4M110.8,36.1h3.4M111.5,32.6h3.4M111.5,35.4h3.4M112.1,32.0h3.4M112.1,34.8h3.4M112.7,31.4h3.4M112.7,34.2h3.4M113.4,30.8h3.4M113.4,33.6h3.4M114.0,30.3h3.4M114.0,33.1h3.4M114.6,29.7h3.4M114.6,32.5h3.4M115.3,29.2h3.4M115.3,32.0h3.4M115.9,28.7h3.4M115.9,31.5h3.4M116.5,28.2h3.4M116.5,31.0h3.4M117.2,27.8h3.4M117.2,30.6h3.4M117.8,27.4h3.4M117.8,30.2h3.4" fill="none" stroke="#128a12" stroke-width="0.6"/>
<path d="M90.0,86.0 L90.5,82.1 L91.2,76.6 L91.9,70.5 L92.6,65.0 L93.2,60.3 L93.7,55.9 L94.3,51.7 L95.0,48.0 L95.8,44.7 L96.6,41.8 L97.6,39.3 L98.5,37.0 L99.4,35.2 L100.3,33.7 L101.4,32.4 L102.7,31.0 L104.4,29.4 L106.3,27.7 L108.4,26.2 L110.4,24.9 L112.1,24.0 L113.7,23.3 L115.5,22.8 L118.0,22.3 L120.7,21.9 L123.6,21.7 L127.6,21.5 L133.5,21.3 L141.5,21.2 L151.1,21.0 L162.3,21.0 L175.0,20.9 L191.2,20.9 L210.3,20.8 L228.1,20.8 L240.4,20.8 L240.4,23.6 L227.9,23.5 L209.9,23.5 L190.7,23.4 L175.0,23.4 L163.6,23.5 L154.2,23.6 L146.4,23.8 L140.0,24.0 L135.3,24.3 L132.4,24.6 L130.3,24.9 L128.0,25.4 L125.3,25.9 L122.7,26.4 L120.3,27.1 L118.0,28.0 L115.9,29.1 L114.0,30.4 L112.2,31.8 L110.4,33.4 L108.5,35.1 L106.5,37.0 L104.7,38.9 L103.0,41.0 L101.6,43.0 L100.3,45.0 L99.1,47.3 L98.0,50.0 L96.9,53.2 L95.9,56.8 L95.0,60.7 L94.0,65.0 L92.9,70.3 L91.9,76.4 L90.9,82.1 L90.2,86.0Z" fill="#3b3bff" fill-opacity="0.75"/>
<path d="M70.2,120.0 L72.0,120.0 L74.7,120.1 L77.7,120.2 L80.8,120.3 L83.5,120.2 L85.4,120.0 L86.3,120.1 L86.6,120.7 L86.5,121.2 L86.2,121.0 L86.2,119.4 L86.5,116.0 L87.3,109.8 L88.5,101.2 L89.7,91.3 L91.0,81.2 L92.2,72.1 L93.2,65.0 L93.9,60.1 L94.4,56.5 L94.8,53.9 L95.2,51.9 L95.5,50.0 L96.0,48.0 L96.5,46.0 L97.1,44.2 L97.6,42.6 L98.2,41.2 L98.9,39.9 L99.5,38.5 L100.2,37.2 L100.9,35.9 L101.6,34.7 L102.4,33.6 L103.2,32.5 L104.0,31.5 L104.9,30.6 L105.8,29.7 L106.8,28.9 L107.8,28.1 L108.9,27.4 L110.0,26.8 L111.1,26.2 L112.2,25.7 L113.4,25.2 L114.7,24.8 L116.2,24.4 L118.0,24.0 L119.8,23.7 L121.6,23.4 L123.7,23.2 L126.1,23.0 L129.3,22.8 L133.5,22.6 L138.6,22.4 L144.5,22.3 L151.1,22.2 L158.4,22.0 L166.4,22.0 L175.0,21.9 L185.3,21.9 L197.5,21.9 L210.3,22.0 L222.6,22.0 L233.0,22.1 L240.4,22.1" fill="none" stroke="#0000b8" stroke-width="2.0" stroke-linejoin="round"/>
<path d="M70.2,120.0h0M70.8,120.0h0M71.5,120.0h0M72.1,120.0h0M72.7,120.1h0M73.4,120.1h0M74.0,120.1h0M74.6,120.1h0M75.3,120.2h0M75.9,120.2h0M76.5,120.2h0M77.2,120.2h0M77.8,120.3h0M78.4,120.3h0M79.0,120.3h0M79.7,120.3h0M80.3,120.3h0M80.9,120.3h0M81.6,120.3h0M82.2,120.3h0M82.8,120.3h0M83.5,120.2h0M84.1,120.2h0M84.7,120.1h0M85.4,120.0h0M86.0,120.0h0M86.6,115.0h0M87.3,110.4h0M87.9,105.6h0M88.5,100.7h0M89.2,95.8h0M89.8,90.9h0M90.4,86.0h0M91.1,81.2h0M91.7,76.3h0M92.3,71.5h0M93.0,66.8h0M93.6,62.3h0M94.2,57.8h0M94.8,53.6h0M95.5,50.3h0M96.1,47.5h0M96.7,45.2h0M97.4,43.3h0M98.0,41.7h0M98.6,40.3h0M99.3,39.0h0M99.9,37.7h0M100.5,36.5h0M101.2,35.4h0M101.8,34.4h0M102.4,33.5h0M103.1,32.6h0M103.7,31.8h0M104.3,31.1h0M105.0,30.5h0M105.6,29.9h0M106.2,29.3h0M106.9,28.8h0M107.5,28.4h0M108.1,27.9h0M108.8,27.5h0M109.4,27.1h0M110.0,26.8h0M110.6,26.5h0M111.3,26.1h0M111.9,25.8h0M112.5,25.5h0M113.2,25.3h0M113.8,25.1h0M114.4,24.8h0M115.1,24.7h0M115.7,24.5h0M116.3,24.3h0M117.0,24.2h0M117.6,24.1h0M118.2,24.0h0M118.9,23.8h0M119.5,23.7h0M120.1,23.6h0M120.8,23.5h0M121.4,23.4h0M122.0,23.4h0M122.7,23.3h0M123.3,23.2h0M123.9,23.1h0M124.6,23.1h0M125.2,23.0h0M125.8,23.0h0M126.4,22.9h0M127.1,22.9h0M127.7,22.9h0M128.3,22.8h0M129.0,22.8h0M129.6,22.8h0M130.2,22.7h0M130.9,22.7h0M131.5,22.7h0M132.1,22.7h0M132.8,22.6h0M133.4,22.6h0M134.0,22.6h0M134.7,22.6h0M135.3,22.5h0M135.9,22.5h0M136.6,22.5h0M137.2,22.5h0M137.8,22.5h0M138.5,22.4h0M139.1,22.4h0M139.7,22.4h0M140.4,22.4h0M141.0,22.4h0M141.6,22.4h0M142.2,22.3h0M142.9,22.3h0M143.5,22.3h0M144.1,22.3h0M144.8,22.3h0M145.4,22.3h0M146.0,22.2h0M146.7,22.2h0M147.3,22.2h0M147.9,22.2h0M148.6,22.2h0M149.2,22.2h0M149.8,22.2h0M150.5,22.2h0M151.1,22.2h0M151.7,22.1h0M152.4,22.1h0M153.0,22.1h0M153.6,22.1h0M154.3,22.1h0M154.9,22.1h0M155.5,22.1h0M156.2,22.1h0M156.8,22.1h0M157.4,22.1h0M158.0,22.0h0M158.7,22.0h0M159.3,22.0h0M159.9,22.0h0M160.6,22.0h0M161.2,22.0h0M161.8,22.0h0M162.5,22.0h0M163.1,22.0h0M163.7,22.0h0M164.4,22.0h0M165.0,22.0h0M165.6,22.0h0M166.3,22.0h0M166.9,22.0h0M167.5,21.9h0M168.2,21.9h0M168.8,21.9h0M169.4,21.9h0M170.1,21.9h0M170.7,21.9h0M171.3,21.9h0M172.0,21.9h0M172.6,21.9h0M173.2,21.9h0M173.8,21.9h0M174.5,21.9h0M175.1,21.9h0M175.7,21.9h0M176.4,21.9h0M177.0,21.9h0M177.6,21.9h0M178.3,21.9h0M178.9,21.9h0M179.5,21.9h0M180.2,21.9h0M180.8,21.9h0M181.4,21.9h0M182.1,21.9h0M182.7,21.9h0M183.3,21.9h0M184.0,21.9h0M184.6,21.9h0M185.2,21.9h0M185.9,21.9h0M186.5,21.9h0M187.1,21.9h0M187.8,21.9h0M188.4,21.9h0M189.0,21.9h0M189.6,21.9h0M190.3,21.9h0M190.9,21.9h0M191.5,21.9h0M192.2,21.9h0M192.8,21.9h0M193.4,21.9h0M194.1,21.9h0M194.7,21.9h0M195.3,21.9h0M196.0,21.9h0M196.6,21.9h0M197.2,21.9h0M197.9,21.9h0M198.5,21.9h0M199.1,21.9h0M199.8,21.9h0M200.4,21.9h0M201.0,21.9h0M201.7,21.9h0M202.3,21.9h0M202.9,21.9h0M203.6,21.9h0M204.2,21.9h0M204.8,21.9h0M205.4,21.9h0M206.1,21.9h0M206.7,21.9h0M207.3,21.9h0M208.0,21.9h0M208.6,21.9h0M209.2,22.0h0M209.9,22.0h0M210.5,22.0h0M211.1,22.0h0M211.8,22.0h0M212.4,22.0h0M213.0,22.0h0M213.7,22.0h0M214.3,22.0h0M214.9,22.0h0M215.6,22.0h0M216.2,22.0h0M216.8,22.0h0M217.5,22.0h0M218.1,22.0h0M218.7,22.0h0M219.4,22.0h0M220.0,22.0h0M220.6,22.0h0M221.2,22.0h0M221.9,22.0h0M222.5,22.0h0M223.1,22.0h0M223.8,22.0h0M224.4,22.0h0M225.0,22.0h0M225.7,22.0h0M226.3,22.0h0M226.9,22.0h0M227.6,22.0h0M228.2,22.0h0M228.8,22.0h0M229.5,22.0h0M230.1,22.1h0M230.7,22.1h0M231.4,22.1h0M232.0,22.1h0M232.6,22.1h0M233.3,22.1h0M233.9,22.1h0M234.5,22.1h0M235.2,22.1h0M235.8,22.1h0M236.4,22.1h0M237.0,22.1h0M237.7,22.1h0M238.3,22.1h0M238.9,22.1h0M239.6,22.1h0M240.2,22.1h0" fill="none" stroke="#0000b8" stroke-width="3.6" stroke-linecap="round"/>
<path d="M84.9,113.2h3.4M84.9,116.8h3.4M85.6,108.6h3.4M85.6,112.2h3.4M86.2,103.8h3.4M86.2,107.4h3.4M86.8,98.9h3.4M86.8,102.5h3.4M87.5,94.0h3.4M87.5,97.6h3.4M88.1,89.1h3.4M88.1,92.7h3.4M88.7,84.2h3.4M88.7,87.8h3.4M89.4,79.4h3.4M89.4,83.0h3.4M90.0,74.5h3.4M90.0,78.1h3.4M90.6,69.7h3.4M90.6,73.3h3.4M91.3,65.0h3.4M91.3,68.6h3.4M91.9,60.5h3.4M91.9,64.1h3.4M92.5,56.0h3.4M92.5,59.6h3.4M93.1,51.8h3.4M93.1,55.4h3.4M93.8,48.5h3.4M93.8,52.1h3.4M94.4,45.7h3.4M94.4,49.3h3.4M95.0,43.4h3.4M95.0,47.0h3.4M95.7,41.5h3.4M95.7,45.1h3.4M96.3,39.9h3.4M96.3,43.5h3.4M96.9,38.5h3.4M96.9,42.1h3.4M97.6,37.2h3.4M97.6,40.8h3.4M98.2,35.9h3.4M98.2,39.5h3.4M98.8,34.7h3.4M98.8,38.3h3.4M99.5,33.6h3.4M99.5,37.2h3.4M100.1,32.6h3.4M100.1,36.2h3.4M100.7,31.7h3.4M100.7,35.3h3.4M101.4,30.8h3.4M101.4,34.4h3.4M102.0,30.0h3.4M102.0,33.6h3.4M102.6,29.3h3.4M102.6,32.9h3.4M103.3,28.7h3.4M103.3,32.3h3.4M103.9,28.1h3.4M103.9,31.7h3.4M104.5,27.5h3.4M104.5,31.1h3.4M105.2,27.0h3.4M105.2,30.6h3.4M105.8,26.6h3.4M105.8,30.2h3.4M106.4,26.1h3.4M106.4,29.7h3.4M107.1,25.7h3.4M107.1,29.3h3.4" fill="none" stroke="#2a2ae0" stroke-width="0.6"/>
<path d="M70.2,120.0 L71.3,120.1 L72.9,120.3 L74.8,120.5 L76.7,120.6 L78.3,120.5 L79.5,120.0 L80.1,119.2 L80.4,118.3 L80.4,117.1 L80.4,115.6 L80.3,113.9 L80.3,112.0 L80.4,109.6 L80.5,106.8 L80.7,103.7 L80.8,100.5 L80.9,97.6 L81.0,95.0 L81.1,92.9 L81.2,91.0 L81.2,89.4 L81.3,87.8 L81.4,86.2 L81.6,84.4 L81.8,82.4 L82.0,80.3 L82.3,78.1 L82.6,76.0 L82.9,74.1 L83.1,72.3 L83.3,70.9 L83.4,69.7 L83.6,68.7 L83.7,67.7 L84.0,66.5 L84.3,65.0 L84.8,63.0 L85.4,60.7 L86.1,58.1 L86.8,55.6 L87.4,53.4 L88.0,51.5 L88.5,50.1 L88.9,49.0 L89.3,48.1 L89.7,47.3 L90.1,46.7 L90.5,46.0 L90.9,45.4 L91.3,44.9 L91.7,44.4 L92.1,44.1 L92.6,43.8 L93.0,43.5 L93.5,43.3 L93.9,43.2 L94.4,43.1 L94.9,43.1 L95.4,43.1 L96.0,43.0 L96.5,42.9 L97.0,42.9 L97.5,42.9 L98.1,42.8 L98.9,42.7 L100.0,42.5 L101.4,42.1 L103.2,41.7 L105.1,41.1 L107.1,40.5 L109.0,40.0 L110.8,39.6 L112.4,39.3 L114.0,39.0 L115.6,38.8 L117.1,38.6 L118.6,38.5 L120.0,38.3 L121.3,38.1 L122.4,38.0 L123.5,37.8 L124.7,37.7 L126.2,37.5 L128.0,37.4 L129.4,37.3 L130.1,37.1 L131.0,37.0 L133.2,36.9 L137.5,36.8 L145.0,36.7 L157.5,36.6 L174.5,36.6 L193.8,36.6 L212.8,36.5 L229.1,36.5 L240.4,36.5" fill="none" stroke="#cc00cc" stroke-width="2.0" stroke-linejoin="round"/>
<path d="M70.2,120.0h0M70.8,120.0h0M71.5,120.1h0M72.1,120.2h0M72.7,120.3h0M73.4,120.3h0M74.0,120.4h0M74.6,120.5h0M75.3,120.5h0M75.9,120.6h0M76.5,120.6h0M77.2,120.6h0M77.8,120.5h0M78.4,120.4h0M79.0,120.2h0M79.7,119.8h0M80.3,118.7h0M80.9,96.3h0M81.6,84.7h0M82.2,79.0h0M82.8,74.2h0M83.5,69.4h0M84.1,65.9h0M84.7,63.2h0M85.4,60.8h0M86.0,58.4h0M86.6,56.1h0M87.3,53.9h0M87.9,51.8h0M88.5,50.0h0M89.2,48.4h0M89.8,47.2h0M90.4,46.1h0M91.1,45.2h0M91.7,44.5h0M92.3,43.9h0M93.0,43.5h0M93.6,43.3h0M94.2,43.1h0M94.8,43.1h0M95.5,43.1h0M96.1,43.0h0M96.7,42.9h0M97.4,42.9h0M98.0,42.9h0M98.6,42.8h0M99.3,42.7h0M99.9,42.5h0M100.5,42.4h0M101.2,42.2h0M101.8,42.0h0M102.4,41.9h0M103.1,41.7h0M103.7,41.5h0M104.3,41.3h0M105.0,41.1h0M105.6,41.0h0M106.2,40.8h0M106.9,40.6h0M107.5,40.4h0M108.1,40.3h0M108.8,40.1h0M109.4,39.9h0M110.0,39.8h0M110.6,39.6h0M111.3,39.5h0M111.9,39.4h0M112.5,39.3h0M113.2,39.2h0M113.8,39.1h0M114.4,39.0h0M115.1,38.9h0M115.7,38.8h0M116.3,38.7h0M117.0,38.7h0M117.6,38.6h0M118.2,38.5h0M118.9,38.4h0M119.5,38.4h0M120.1,38.3h0M120.8,38.2h0M121.4,38.1h0M122.0,38.0h0M122.7,37.9h0M123.3,37.8h0M123.9,37.8h0M124.6,37.7h0M125.2,37.6h0M125.8,37.6h0M126.4,37.5h0M127.1,37.5h0M127.7,37.4h0M128.3,37.4h0M129.0,37.3h0M129.6,37.2h0M130.2,37.1h0M130.9,37.0h0M131.5,37.0h0M132.1,36.9h0M132.8,36.9h0M133.4,36.9h0M134.0,36.9h0M134.7,36.8h0M135.3,36.8h0M135.9,36.8h0M136.6,36.8h0M137.2,36.8h0M137.8,36.8h0M138.5,36.8h0M139.1,36.8h0M139.7,36.8h0M140.4,36.7h0M141.0,36.7h0M141.6,36.7h0M142.2,36.7h0M142.9,36.7h0M143.5,36.7h0M144.1,36.7h0M144.8,36.7h0M145.4,36.7h0M146.0,36.7h0M146.7,36.7h0M147.3,36.7h0M147.9,36.7h0M148.6,36.7h0M149.2,36.7h0M149.8,36.7h0M150.5,36.7h0M151.1,36.7h0M151.7,36.7h0M152.4,36.7h0M153.0,36.7h0M153.6,36.7h0M154.3,36.6h0M154.9,36.6h0M155.5,36.6h0M156.2,36.6h0M156.8,36.6h0M157.4,36.6h0M158.0,36.6h0M158.7,36.6h0M159.3,36.6h0M159.9,36.6h0M160.6,36.6h0M161.2,36.6h0M161.8,36.6h0M162.5,36.6h0M163.1,36.6h0M163.7,36.6h0M164.4,36.6h0M165.0,36.6h0M165.6,36.6h0M166.3,36.6h0M166.9,36.6h0M167.5,36.6h0M168.2,36.6h0M168.8,36.6h0M169.4,36.6h0M170.1,36.6h0M170.7,36.6h0M171.3,36.6h0M172.0,36.6h0M172.6,36.6h0M173.2,36.6h0M173.8,36.6h0M174.5,36.6h0M175.1,36.6h0M175.7,36.6h0M176.4,36.6h0M177.0,36.6h0M177.6,36.6h0M178.3,36.6h0M178.9,36.6h0M179.5,36.6h0M180.2,36.6h0M180.8,36.6h0M181.4,36.6h0M182.1,36.6h0M182.7,36.6h0M183.3,36.6h0M184.0,36.6h0M184.6,36.6h0M185.2,36.6h0M185.9,36.6h0M186.5,36.6h0M187.1,36.6h0M187.8,36.6h0M188.4,36.6h0M189.0,36.6h0M189.6,36.6h0M190.3,36.6h0M190.9,36.6h0M191.5,36.6h0M192.2,36.6h0M192.8,36.6h0M193.4,36.6h0M194.1,36.6h0M194.7,36.6h0M195.3,36.6h0M196.0,36.6h0M196.6,36.6h0M197.2,36.6h0M197.9,36.6h0M198.5,36.6h0M199.1,36.5h0M199.8,36.5h0M200.4,36.5h0M201.0,36.5h0M201.7,36.5h0M202.3,36.5h0M202.9,36.5h0M203.6,36.5h0M204.2,36.5h0M204.8,36.5h0M205.4,36.5h0M206.1,36.5h0M206.7,36.5h0M207.3,36.5h0M208.0,36.5h0M208.6,36.5h0M209.2,36.5h0M209.9,36.5h0M210.5,36.5h0M211.1,36.5h0M211.8,36.5h0M212.4,36.5h0M213.0,36.5h0M213.7,36.5h0M214.3,36.5h0M214.9,36.5h0M215.6,36.5h0M216.2,36.5h0M216.8,36.5h0M217.5,36.5h0M218.1,36.5h0M218.7,36.5h0M219.4,36.5h0M220.0,36.5h0M220.6,36.5h0M221.2,36.5h0M221.9,36.5h0M222.5,36.5h0M223.1,36.5h0M223.8,36.5h0M224.4,36.5h0M225.0,36.5h0M225.7,36.5h0M226.3,36.5h0M226.9,36.5h0M227.6,36.5h0M228.2,36.5h0M228.8,36.5h0M229.5,36.5h0M230.1,36.5h0M230.7,36.5h0M231.4,36.5h0M232.0,36.5h0M232.6,36.5h0M233.3,36.5h0M233.9,36.5h0M234.5,36.5h0M235.2,36.5h0M235.8,36.5h0M236.4,36.5h0M237.0,36.5h0M237.7,36.5h0M238.3,36.5h0M238.9,36.5h0M239.6,36.5h0M240.2,36.5h0" fill="none" stroke="#cc00cc" stroke-width="4.3" stroke-linecap="square"/>
<path d="M79.2,94.3h3.4M79.2,98.3h3.4M79.9,82.7h3.4M79.9,86.7h3.4M80.5,77.0h3.4M80.5,81.0h3.4M81.1,72.2h3.4M81.1,76.2h3.4M81.8,67.4h3.4M81.8,71.4h3.4M82.4,63.9h3.4M82.4,67.9h3.4M83.0,61.2h3.4M83.0,65.2h3.4M83.7,58.8h3.4M83.7,62.8h3.4M84.3,56.4h3.4M84.3,60.4h3.4M84.9,54.1h3.4M84.9,58.1h3.4M85.6,51.9h3.4M85.6,55.9h3.4M86.2,49.8h3.4M86.2,53.8h3.4M86.8,48.0h3.4M86.8,52.0h3.4M87.5,46.4h3.4M87.5,50.4h3.4M88.1,45.2h3.4M88.1,49.2h3.4M88.7,44.1h3.4M88.7,48.1h3.4M89.4,43.2h3.4M89.4,47.2h3.4M90.0,42.5h3.4M90.0,46.5h3.4M90.6,41.9h3.4M90.6,45.9h3.4" fill="none" stroke="#d838d8" stroke-width="0.6"/>
<path d="M70.2,120.0 L70.8,120.0 L71.6,120.1 L72.6,120.2 L73.5,120.3 L74.4,120.2 L75.0,120.0 L75.4,119.7 L75.6,119.4 L75.7,119.0 L75.7,118.4 L75.7,117.4 L75.8,116.0 L75.9,114.0 L76.0,111.4 L76.2,108.4 L76.3,105.4 L76.4,102.5 L76.5,100.0 L76.6,97.9 L76.7,96.0 L76.9,94.2 L77.0,92.5 L77.1,90.8 L77.3,89.0 L77.5,87.1 L77.7,85.2 L77.9,83.3 L78.1,81.4 L78.3,79.7 L78.5,78.0 L78.7,76.5 L78.9,75.0 L79.1,73.6 L79.3,72.3 L79.6,71.1 L80.0,70.0 L80.5,69.0 L81.1,68.1 L81.8,67.3 L82.6,66.6 L83.3,65.8 L84.0,65.0 L84.7,64.1 L85.3,63.2 L86.0,62.3 L86.7,61.4 L87.3,60.5 L88.0,59.5 L88.7,58.5 L89.4,57.5 L90.1,56.4 L90.7,55.4 L91.4,54.4 L92.0,53.5 L92.6,52.6 L93.1,51.8 L93.6,51.0 L94.1,50.3 L94.6,49.6 L95.0,49.0 L95.4,48.5 L95.7,48.1 L96.0,47.8 L96.3,47.5 L96.6,47.2 L97.0,47.0 L97.4,46.8 L97.7,46.7 L98.0,46.6 L98.4,46.5 L99.1,46.4 L100.0,46.2 L101.3,46.0 L102.8,45.8 L104.6,45.5 L106.4,45.3 L108.3,45.0 L110.0,44.8 L111.7,44.6 L113.4,44.4 L115.1,44.2 L116.8,44.1 L118.4,43.9 L120.0,43.8 L121.3,43.7 L122.3,43.6 L123.2,43.5 L124.4,43.4 L125.9,43.4 L128.0,43.3 L130.6,43.2 L133.6,43.1 L137.0,43.0 L140.8,42.9 L145.1,42.9 L150.0,42.8 L155.5,42.8 L161.6,42.8 L168.2,42.7 L175.2,42.8 L182.5,42.8 L190.0,42.8 L198.4,42.8 L207.9,42.9 L217.7,42.9 L226.9,43.0 L234.8,43.1 L240.4,43.1" fill="none" stroke="#a8682a" stroke-width="2.0" stroke-linejoin="round"/>
<path d="M70.2,120.0h0M70.8,120.1h0M71.5,120.1h0M72.1,120.2h0M72.7,120.3h0M73.4,120.3h0M74.0,120.3h0M74.6,120.2h0M75.3,119.8h0M75.9,114.6h0M76.5,99.6h0M77.2,90.7h0M77.8,84.0h0M78.4,78.6h0M79.0,73.8h0M79.7,70.9h0M80.3,69.4h0M80.9,68.4h0M81.6,67.6h0M82.2,67.0h0M82.8,66.3h0M83.5,65.6h0M84.1,64.9h0M84.7,64.0h0M85.4,63.2h0M86.0,62.3h0M86.6,61.4h0M87.3,60.5h0M87.9,59.6h0M88.5,58.7h0M89.2,57.8h0M89.8,56.8h0M90.4,55.9h0M91.1,54.9h0M91.7,54.0h0M92.3,53.0h0M93.0,52.0h0M93.6,51.1h0M94.2,50.1h0M94.8,49.2h0M95.5,48.4h0M96.1,47.7h0M96.7,47.2h0M97.4,46.8h0M98.0,46.6h0M98.6,46.4h0M99.3,46.3h0M99.9,46.2h0M100.5,46.1h0M101.2,46.0h0M101.8,45.9h0M102.4,45.8h0M103.1,45.7h0M103.7,45.6h0M104.3,45.5h0M105.0,45.5h0M105.6,45.4h0M106.2,45.3h0M106.9,45.2h0M107.5,45.1h0M108.1,45.0h0M108.8,45.0h0M109.4,44.9h0M110.0,44.8h0M110.6,44.7h0M111.3,44.7h0M111.9,44.6h0M112.5,44.5h0M113.2,44.4h0M113.8,44.4h0M114.4,44.3h0M115.1,44.2h0M115.7,44.2h0M116.3,44.1h0M117.0,44.1h0M117.6,44.0h0M118.2,44.0h0M118.9,43.9h0M119.5,43.8h0M120.1,43.8h0M120.8,43.7h0M121.4,43.7h0M122.0,43.6h0M122.7,43.6h0M123.3,43.5h0M123.9,43.5h0M124.6,43.4h0M125.2,43.4h0M125.8,43.4h0M126.4,43.4h0M127.1,43.3h0M127.7,43.3h0M128.3,43.3h0M129.0,43.3h0M129.6,43.2h0M130.2,43.2h0M130.9,43.2h0M131.5,43.2h0M132.1,43.2h0M132.8,43.1h0M133.4,43.1h0M134.0,43.1h0M134.7,43.1h0M135.3,43.1h0M135.9,43.0h0M136.6,43.0h0M137.2,43.0h0M137.8,43.0h0M138.5,43.0h0M139.1,43.0h0M139.7,43.0h0M140.4,42.9h0M141.0,42.9h0M141.6,42.9h0M142.2,42.9h0M142.9,42.9h0M143.5,42.9h0M144.1,42.9h0M144.8,42.9h0M145.4,42.9h0M146.0,42.8h0M146.7,42.8h0M147.3,42.8h0M147.9,42.8h0M148.6,42.8h0M149.2,42.8h0M149.8,42.8h0M150.5,42.8h0M151.1,42.8h0M151.7,42.8h0M152.4,42.8h0M153.0,42.8h0M153.6,42.8h0M154.3,42.8h0M154.9,42.8h0M155.5,42.8h0M156.2,42.8h0M156.8,42.8h0M157.4,42.8h0M158.0,42.8h0M158.7,42.8h0M159.3,42.8h0M159.9,42.8h0M160.6,42.8h0M161.2,42.8h0M161.8,42.8h0M162.5,42.8h0M163.1,42.8h0M163.7,42.8h0M164.4,42.7h0M165.0,42.7h0M165.6,42.7h0M166.3,42.7h0M166.9,42.7h0M167.5,42.7h0M168.2,42.7h0M168.8,42.8h0M169.4,42.8h0M170.1,42.8h0M170.7,42.8h0M171.3,42.8h0M172.0,42.8h0M172.6,42.8h0M173.2,42.8h0M173.8,42.8h0M174.5,42.8h0M175.1,42.8h0M175.7,42.8h0M176.4,42.8h0M177.0,42.8h0M177.6,42.8h0M178.3,42.8h0M178.9,42.8h0M179.5,42.8h0M180.2,42.8h0M180.8,42.8h0M181.4,42.8h0M182.1,42.8h0M182.7,42.8h0M183.3,42.8h0M184.0,42.8h0M184.6,42.8h0M185.2,42.8h0M185.9,42.8h0M186.5,42.8h0M187.1,42.8h0M187.8,42.8h0M188.4,42.8h0M189.0,42.8h0M189.6,42.8h0M190.3,42.8h0M190.9,42.8h0M191.5,42.8h0M192.2,42.8h0M192.8,42.8h0M193.4,42.8h0M194.1,42.8h0M194.7,42.8h0M195.3,42.8h0M196.0,42.8h0M196.6,42.8h0M197.2,42.8h0M197.9,42.8h0M198.5,42.8h0M199.1,42.8h0M199.8,42.8h0M200.4,42.8h0M201.0,42.9h0M201.7,42.9h0M202.3,42.9h0M202.9,42.9h0M203.6,42.9h0M204.2,42.9h0M204.8,42.9h0M205.4,42.9h0M206.1,42.9h0M206.7,42.9h0M207.3,42.9h0M208.0,42.9h0M208.6,42.9h0M209.2,42.9h0M209.9,42.9h0M210.5,42.9h0M211.1,42.9h0M211.8,42.9h0M212.4,42.9h0M213.0,42.9h0M213.7,42.9h0M214.3,42.9h0M214.9,42.9h0M215.6,42.9h0M216.2,42.9h0M216.8,42.9h0M217.5,42.9h0M218.1,43.0h0M218.7,43.0h0M219.4,43.0h0M220.0,43.0h0M220.6,43.0h0M221.2,43.0h0M221.9,43.0h0M222.5,43.0h0M223.1,43.0h0M223.8,43.0h0M224.4,43.0h0M225.0,43.0h0M225.7,43.0h0M226.3,43.0h0M226.9,43.0h0M227.6,43.0h0M228.2,43.0h0M228.8,43.0h0M229.5,43.0h0M230.1,43.0h0M230.7,43.0h0M231.4,43.0h0M232.0,43.0h0M232.6,43.0h0M233.3,43.1h0M233.9,43.1h0M234.5,43.1h0M235.2,43.1h0M235.8,43.1h0M236.4,43.1h0M237.0,43.1h0M237.7,43.1h0M238.3,43.1h0M238.9,43.1h0M239.6,43.1h0M240.2,43.1h0" fill="none" stroke="#a8682a" stroke-width="3.5" stroke-linecap="round"/>
<path d="M74.2,113.0h3.4M74.2,116.2h3.4M74.8,98.0h3.4M74.8,101.2h3.4M75.5,89.1h3.4M75.5,92.3h3.4M76.1,82.4h3.4M76.1,85.6h3.4M76.7,77.0h3.4M76.7,80.2h3.4M77.3,72.2h3.4M77.3,75.4h3.4M78.0,69.3h3.4M78.0,72.5h3.4M78.6,67.8h3.4M78.6,71.0h3.4M79.2,66.8h3.4M79.2,70.0h3.4M79.9,66.0h3.4M79.9,69.2h3.4M80.5,65.4h3.4M80.5,68.6h3.4M81.1,64.7h3.4M81.1,67.9h3.4M81.8,64.0h3.4M81.8,67.2h3.4M82.4,63.3h3.4M82.4,66.5h3.4M83.0,62.4h3.4M83.0,65.6h3.4M83.7,61.6h3.4M83.7,64.8h3.4M84.3,60.7h3.4M84.3,63.9h3.4M84.9,59.8h3.4M84.9,63.0h3.4M85.6,58.9h3.4M85.6,62.1h3.4M86.2,58.0h3.4M86.2,61.2h3.4M86.8,57.1h3.4M86.8,60.3h3.4M87.5,56.2h3.4M87.5,59.4h3.4M88.1,55.2h3.4M88.1,58.4h3.4M88.7,54.3h3.4M88.7,57.5h3.4M89.4,53.3h3.4M89.4,56.5h3.4M90.0,52.4h3.4M90.0,55.6h3.4M90.6,51.4h3.4M90.6,54.6h3.4M91.3,50.4h3.4M91.3,53.6h3.4M91.9,49.5h3.4M91.9,52.7h3.4M92.5,48.5h3.4M92.5,51.7h3.4M93.1,47.6h3.4M93.1,50.8h3.4M93.8,46.8h3.4M93.8,50.0h3.4M94.4,46.1h3.4M94.4,49.3h3.4M95.0,45.6h3.4M95.0,48.8h3.4" fill="none" stroke="#b88040" stroke-width="0.6"/>
<path d="M85.5,120H93.5" stroke="#128a12" stroke-width="4.4"/>
<path d="M80.5,120H86" stroke="#0000b8" stroke-width="4.4"/>
<path d="M76.5,120H81" stroke="#cc00cc" stroke-width="4.4"/>
<path d="M68.6,120H77" stroke="#a8682a" stroke-width="4.4"/>
</g>
<path d="M251.5,19.1H263.8" stroke="#a8682a" stroke-width="1.7"/>
<rect x="256.2" y="17.6" width="3" height="3" fill="#a8682a"/>
<text x="271.3" y="22.3" font-size="9.5" fill="#1c1c1c">100% FXII</text>
<path d="M251.5,33.3H263.8" stroke="#cc00cc" stroke-width="1.7"/>
<rect x="256.2" y="31.8" width="3" height="3" fill="#cc00cc"/>
<text x="271.3" y="36.5" font-size="9.5" fill="#1c1c1c">50% FXII</text>
<path d="M251.5,47.6H263.8" stroke="#0000b8" stroke-width="1.7"/>
<rect x="256.2" y="46.1" width="3" height="3" fill="#0000b8"/>
<text x="271.3" y="50.8" font-size="9.5" fill="#1c1c1c">10% FXII</text>
<path d="M251.5,61.8H263.8" stroke="#128a12" stroke-width="1.7"/>
<rect x="256.2" y="60.3" width="3" height="3" fill="#128a12"/>
<text x="271.3" y="65.0" font-size="9.5" fill="#1c1c1c">5% FXII</text>
<path d="M251.5,76.0H263.8" stroke="#ff0a0a" stroke-width="1.7"/>
<rect x="256.2" y="74.5" width="3" height="3" fill="#ff0a0a"/>
<text x="271.3" y="79.2" font-size="9.5" fill="#1c1c1c">1% FXII</text>
<path d="M251.5,90.2H263.8" stroke="#f47a20" stroke-width="1.7"/>
<rect x="256.2" y="88.8" width="3" height="3" fill="#f47a20"/>
<text x="271.3" y="93.5" font-size="9.5" fill="#1c1c1c">0% FXII</text>
<path d="M80,200V336.40000000000003" stroke="#000" stroke-width="1.7" fill="none"/>
<path d="M79.2,335.6H279.5" stroke="#000" stroke-width="1.7" fill="none"/>
<path d="M75.4,200.7H80M75.4,245.6H80M75.4,290.6H80M75.4,335.6H80" stroke="#000" stroke-width="1.7"/>
<text x="73.8" y="205.1" text-anchor="end" class="b" font-size="12.2">15</text>
<text x="73.8" y="250.0" text-anchor="end" class="b" font-size="12.2">10</text>
<text x="73.8" y="295.0" text-anchor="end" class="b" font-size="12.2">5</text>
<text x="73.8" y="340.0" text-anchor="end" class="b" font-size="12.2">0</text>
<rect x="86.5" y="255.4" width="27.4" height="80.7" fill="#000"/>
<path d="M100.2,255.4V253.5M92.7,253.5h15" stroke="#000" stroke-width="1.6"/>
<path d="M100.2,335.6v4.4" stroke="#000" stroke-width="1.7"/>
<text x="100.6" y="351.6" text-anchor="middle" class="b" font-size="12.2">0%</text>
<rect x="126.8" y="241.6" width="27.4" height="94.5" fill="#000"/>
<path d="M140.5,241.6V239.6M133.0,239.6h15" stroke="#000" stroke-width="1.6"/>
<path d="M140.5,335.6v4.4" stroke="#000" stroke-width="1.7"/>
<text x="140.9" y="351.6" text-anchor="middle" class="b" font-size="12.2">1%</text>
<rect x="167.2" y="234.6" width="27.4" height="101.5" fill="#000"/>
<path d="M180.9,234.6V232.6M173.4,232.6h15" stroke="#000" stroke-width="1.6"/>
<path d="M180.9,335.6v4.4" stroke="#000" stroke-width="1.7"/>
<text x="181.3" y="351.6" text-anchor="middle" class="b" font-size="12.2">5%</text>
<rect x="207.6" y="228.4" width="27.4" height="107.7" fill="#000"/>
<path d="M221.2,228.4V226.9M213.8,226.9h15" stroke="#000" stroke-width="1.6"/>
<path d="M221.2,335.6v4.4" stroke="#000" stroke-width="1.7"/>
<text x="221.7" y="351.6" text-anchor="middle" class="b" font-size="12.2">10%</text>
<rect x="247.9" y="224.4" width="27.4" height="111.7" fill="#000"/>
<path d="M261.6,224.4V221.8M254.1,221.8h15" stroke="#000" stroke-width="1.6"/>
<path d="M261.6,335.6v4.4" stroke="#000" stroke-width="1.7"/>
<text x="262.0" y="351.6" text-anchor="middle" class="b" font-size="12.2">100%</text>
<path d="M101.5,210H260.5" stroke="#000" stroke-width="1.9"/>
<text x="180.6" y="203.6" text-anchor="middle" class="b" font-size="12.5">*</text>
<text x="181" y="370.3" text-anchor="middle" class="b" font-size="13.15">Concentration FXII (%)</text>
<text transform="translate(29.9,257.2) rotate(-90)" text-anchor="middle" class="b" font-size="12.9">Fiber density</text>
<text transform="translate(46.8,256.8) rotate(-90)" text-anchor="middle" class="b" font-size="13"><tspan>(#fibers / 100 </tspan><tspan dx="1.2">µ</tspan><tspan dx="1.5">m)</tspan></text>
<text x="3.7" y="205" class="b" font-size="17">C</text>
<text x="353.4" y="24.2" class="b" font-size="17">B</text>
<text x="412.9" y="14.2" class="b" font-size="13.6">0% FXII</text>
<text x="413.9" y="181.3" class="b" font-size="13.6">5% FXII</text>
<text x="415" y="348" class="b" font-size="13.7">100% FXII</text>
<svg x="375.8" y="19" width="141" height="140.6" viewBox="0 0 141 140.6" overflow="hidden"><rect width="141" height="140.6" fill="#011603"/><g filter="url(#bl2)"><path d="M47,31q-6,-10,-15,-17M53,108q-7,-4,-15,-5M82,122q-3,-9,-7,-17M101,48q-11,0,-21,-0M48,147q2,-5,2,-10M130,55q8,-6,13,-14M13,57q3,-6,7,-10M59,150q2,-7,3,-14M139,129q-10,-6,-20,-14M94,31q12,-3,21,-10M136,120q7,-4,15,-6M104,147q-2,-7,-6,-13M19,113q4,-10,8,-19M40,47q3,-8,10,-13M42,69q9,-5,16,-11M52,141q6,-6,14,-9M84,8q6,-9,12,-17M119,99q1,-12,8,-23M99,91q10,-2,18,-8M152,128q-12,-4,-23,-9M102,146q-5,-8,-13,-15M148,23q-9,-2,-18,-1M135,81q-5,-2,-9,-5M48,146q-3,-11,-1,-23M85,115q2,-6,6,-10M77,102q-11,-6,-22,-12M102,95q6,-4,11,-9M55,126q-7,-3,-13,-7M21,77q10,-8,20,-15M30,44q-4,-9,-2,-19M20,122q3,-9,6,-18M41,8q1,-13,-3,-25M72,13q12,-2,21,-9M55,43q9,-9,20,-14M54,29q5,-5,10,-11M37,80q6,-4,12,-5M82,55q2,-9,7,-17M30,125q-4,-11,-10,-21M96,34q-9,-8,-17,-18M121,59q8,-10,19,-15M72,27q10,-7,20,-12M10,114q1,-5,3,-9M125,4q9,1,18,-1M67,107q5,-8,10,-16M72,111q-8,-10,-11,-22M51,49q1,-7,2,-14M47,4q8,7,18,10M124,117q-5,-4,-8,-9M57,93q-9,-5,-20,-7M33,96q-2,-13,-8,-24M34,40q-8,-8,-16,-16M95,107q-7,-9,-13,-18M19,85q2,-4,4,-8M12,36q7,-7,15,-14M40,42q0,-13,-3,-26M-5,136q6,-2,13,-4M-11,75q7,-1,12,-5M107,39q-13,-2,-26,-3M23,133q0,-5,-3,-9M101,61q7,-7,17,-10M61,91q-2,-8,-1,-15M119,138q3,-7,9,-11M104,112q8,-2,14,-7M35,128q-5,-1,-10,-0M46,62q10,3,20,7M35,48q6,-7,13,-15M55,120q8,-3,16,-4M124,92q-8,-11,-20,-17M10,1q11,-3,21,-8M107,81q-5,-8,-10,-16M88,100q11,-7,17,-17M27,78q5,-9,13,-15M133,55q9,-2,18,-5M-10,63q10,-5,17,-13M118,31q-10,-5,-18,-12M139,13q-7,-8,-17,-11M51,119q-6,-5,-11,-12M41,97q2,-9,4,-18M85,41q1,-5,3,-10M42,65q-2,-7,-5,-14M15,44q-5,-12,-15,-19M142,107q-6,-4,-12,-8M74,65q5,-6,11,-11M103,100q9,-6,18,-13M115,54q9,-8,20,-13M16,79q-1,-13,-4,-25M13,29q-2,-5,-2,-10M100,71q6,-1,11,-3M60,135q8,-5,14,-11M64,112q-9,-1,-17,-2M107,109q-11,-4,-22,-6M156,9q-10,-7,-22,-13M129,6q-7,-3,-13,-9M113,49q4,-6,5,-13M108,58q10,-6,21,-8M101,61q-2,-4,-3,-9M75,107q6,-8,14,-13M57,11q6,-4,12,-7M136,112q8,-10,17,-18M38,122q1,-5,-1,-10M107,109q1,-7,-1,-14M3,139q8,1,15,-1M41,19q8,-9,16,-18M92,131q5,-4,8,-9M9,100q-5,-2,-9,-5M1,112q1,-13,2,-25M88,53q-11,-5,-19,-15M126,22q0,-6,-2,-12M18,9q8,-1,16,-4M9,51q9,-1,16,-5M49,96q10,-2,21,-1M8,94q11,-2,23,-1M36,136q2,-7,5,-13M73,87q0,-11,2,-21M125,28q-9,-7,-15,-18M75,95q-3,-5,-6,-10M28,84q1,-8,5,-15M98,142q2,-11,-1,-22M129,147q3,-7,4,-15M82,7q-3,-4,-4,-8M-10,117q9,-2,17,-6M96,44q11,-6,21,-12M34,24q12,-5,23,-11M69,18q7,-7,16,-11M54,127q0,-8,-3,-14M116,77q6,-1,10,-4M152,148q-10,-6,-20,-11M96,140q4,-5,8,-10M-2,44q5,-1,10,-0M141,98q-4,-10,-10,-18M82,138q1,-6,3,-11M115,15q-2,-9,-2,-19M98,79q-3,-8,-4,-16M139,64q-5,-8,-13,-12M114,59q5,-8,5,-18M8,130q0,-7,3,-14M103,125q-8,-7,-15,-16M125,18q8,-4,16,-7M10,16q4,-6,9,-11M82,131q-9,-5,-20,-6M133,75q8,-4,14,-12M116,102q10,-8,23,-10M123,15q-3,-7,-5,-15M12,119q7,-1,14,-1M63,120q7,-1,13,-5M152,86q-8,-3,-15,-8M121,36q6,-3,10,-7M3,24q-6,-11,-16,-18M16,88q-6,-6,-10,-14M22,149q5,-9,7,-19M23,22q-6,-2,-12,-5M10,137q4,-3,7,-8M102,123q0,-10,2,-19M117,75q3,-6,7,-12M37,55q8,-4,14,-10M29,147q8,-1,15,-4M12,67q0,-10,0,-21M44,60q6,-8,14,-13M42,54q-5,-4,-10,-8M101,78q10,-1,18,-5M121,35q8,-1,16,-1M-2,24q9,-2,18,-4M55,103q4,-3,9,-4M120,145q4,-3,7,-8M43,3q11,-4,20,-11M50,81q10,-9,22,-12M-5,125q5,-1,10,-1M30,51q0,-8,4,-16M28,65q-5,-4,-9,-9M-1,5q0,-8,2,-15M-6,40q10,-4,20,-2M113,25q-11,-5,-22,-10M53,28q2,-6,5,-12M32,101q2,-7,5,-13M109,9q-3,-7,-2,-15M56,62q4,-7,5,-15M10,114q0,-12,2,-25M84,6q4,-3,7,-7M8,20q-1,-8,0,-16M102,135q5,-8,13,-13M43,87q-4,-4,-7,-9M136,23q2,-12,7,-23M26,97q0,-5,-1,-9M42,5q6,-2,12,-5M29,12q10,-1,20,3M96,47q7,-1,14,-3M109,2q2,-5,4,-11M70,124q3,-5,6,-10M54,79q4,-3,8,-6M35,73q-3,-7,-4,-14M143,133q-6,-3,-13,-4M66,54q-2,-7,-5,-14M16,57q-3,-7,-6,-15M103,92q-13,-2,-23,-9M-11,20q5,-12,14,-21M62,143q1,-4,1,-9M36,110q1,-9,0,-18M102,32q-7,-2,-15,-1M34,116q-5,-12,-15,-21M72,46q-1,-8,0,-15M25,26q4,-8,11,-14M75,63q5,-2,10,-3M58,5q9,-8,21,-12M53,34q-9,-5,-17,-13M62,65q8,-9,12,-20M149,103q-5,-10,-14,-18M-5,71q-1,-6,2,-12M79,96q6,-8,14,-14M27,128q5,-2,11,-2M133,43q6,-5,13,-7M-4,95q6,-10,9,-21M2,152q-5,-12,-9,-24M6,12q3,-12,9,-23M73,71q1,-9,5,-18M118,40q5,-6,11,-10M0,26q-5,-1,-10,-3M78,151q7,-5,14,-10M12,76q10,-1,20,-4M100,64q-7,-5,-15,-7M131,136q4,-7,5,-14M97,134q1,-13,9,-24M101,74q-5,-6,-13,-10M145,88q-2,-10,-1,-21M55,48q5,-6,10,-12M83,85q2,-7,6,-14M-7,96q10,-5,21,-6M94,26q2,-7,4,-14M96,18q5,-8,5,-17M126,36q4,-4,6,-9M104,152q7,-8,16,-13M79,87q-6,-1,-12,-2M18,72q-6,-8,-8,-18M28,45q-8,-4,-16,-8M40,134q-6,-8,-11,-17M67,24q-5,-8,-6,-17M14,87q-6,-11,-7,-24M148,41q-5,-10,-15,-16M104,110q7,-5,16,-7M99,126q-11,-2,-22,-4M105,8q-6,-4,-12,-5" stroke="#0a6a14" stroke-opacity="0.25" stroke-width="3.4" fill="none" stroke-linecap="round"/><path d="M125,140q-1,-8,-4,-15M94,26q-5,-10,-14,-18M85,26q-4,-3,-8,-7M47,153q-7,-7,-11,-16M-8,127q7,-8,17,-12M56,93q-4,-10,-12,-17M107,34q1,-6,0,-12M115,142q2,-4,5,-8M60,9q3,-12,6,-24M55,19q0,-12,3,-23M3,123q8,0,16,-1M3,142q0,-8,-3,-15M115,6q2,-5,5,-10M59,42q7,1,14,-2M105,67q-7,-1,-13,-6M102,33q-2,-8,-5,-15M135,18q4,-7,6,-15M66,90q5,-8,12,-13M132,129q-10,-5,-18,-11M42,78q6,-11,17,-17M-5,86q3,-6,7,-10M54,74q9,-5,18,-11M36,116q-3,-8,-8,-16M62,21q4,-8,6,-17M106,15q3,-10,1,-21M32,42q5,-10,6,-21M112,34q2,-7,6,-12M56,68q-10,-4,-22,-2M23,107q-6,-2,-12,-3M8,146q3,-4,5,-9M86,75q-6,-4,-11,-10M54,54q6,-9,9,-19M85,43q5,-12,9,-24M138,148q-1,-6,-1,-13M14,50q-3,-11,-3,-21M133,65q-4,-4,-8,-9M-1,116q5,-6,6,-14M140,138q-3,-8,-3,-16M6,27q3,-7,6,-13M89,69q0,-5,-1,-10M58,133q-10,-4,-17,-12M19,40q3,-10,5,-19M129,56q1,-8,2,-16M131,152q-1,-9,-5,-17M25,63q-3,-7,-5,-14M16,12q-8,-10,-20,-16M38,11q1,-7,3,-13M12,127q5,-3,11,-4M14,44q-2,-12,1,-25M92,147q-9,-2,-17,-5M16,77q-9,-6,-17,-15M-5,18q6,-1,11,-4M137,49q6,-5,14,-7M72,45q-2,-12,-5,-24M75,138q3,-4,4,-9M51,30q5,-6,8,-14M109,116q-8,-8,-18,-15M25,120q-5,-3,-10,-6M125,92q3,-11,2,-23M144,58q2,-6,4,-13M30,50q-5,-4,-12,-7M35,116q7,-2,15,-1M28,94q5,-8,9,-15M55,64q6,-5,8,-12M81,11q-11,-1,-21,-4M94,103q10,2,21,-1M116,120q-4,-3,-9,-3M134,106q-1,-6,1,-13M91,79q-8,-4,-17,-6M18,121q-6,-10,-14,-19M119,24q0,-6,1,-12M91,138q-4,-12,-10,-24M115,18q-6,-8,-14,-14M31,38q7,-6,16,-10M137,117q-1,-6,1,-12M105,6q-2,-6,-7,-9M37,65q6,-7,14,-12M40,50q9,-8,16,-18M58,139q-5,-4,-10,-7M140,73q5,0,9,-2M95,49q11,-6,20,-15M97,141q0,-5,1,-9M134,26q12,1,23,6M121,118q12,-3,23,-6M126,109q-13,1,-26,-4M-12,72q10,-5,19,-10M53,126q-1,-12,-7,-23M77,40q-1,-5,-5,-9M35,31q-7,-9,-13,-19M34,79q7,-1,14,-2M59,103q3,-4,8,-6M124,60q8,-1,15,-0M72,148q4,-12,5,-24M25,84q3,-4,4,-10M134,93q7,-6,16,-8M0,110q-3,-7,-5,-14M137,3q-1,-6,0,-12M103,127q5,0,10,-2M143,32q0,-8,1,-16M50,135q11,1,20,-3M113,70q-9,-2,-19,-2M56,87q-1,-8,-4,-15M128,55q-9,-6,-16,-14M8,139q1,-10,6,-19M96,100q2,-9,4,-19M7,62q-7,-11,-14,-22M31,147q5,-12,7,-24M118,109q-2,-10,-4,-19M121,132q11,2,21,-0M80,54q5,-11,15,-19M100,76q2,-4,3,-9M120,74q3,-10,5,-20M27,147q5,-4,8,-11M71,131q3,-11,3,-23M69,79q8,-1,16,-5M28,69q4,-8,6,-16M-8,34q5,-3,7,-8M110,77q8,-5,14,-13M102,21q-9,-3,-18,-9M145,61q-8,-1,-16,-2M113,91q6,-2,11,-4M53,45q4,-8,5,-18M47,105q1,-12,3,-23M35,67q0,-10,5,-20M37,43q-6,-4,-12,-7M28,2q11,-4,20,-11M20,25q5,-2,10,-4M48,94q0,-10,1,-20M13,20q9,-3,16,-10M46,95q6,-1,11,0M97,126q5,-3,10,-7M67,94q-8,-5,-14,-14M61,88q5,-8,7,-18M53,111q-6,-5,-14,-9M28,83q5,-5,7,-12M110,62q0,-6,-1,-12M-7,77q6,-4,14,-6M72,4q9,-3,18,-4M88,115q3,-5,7,-8M86,97q0,-7,3,-13M73,104q5,-8,12,-15M74,50q-2,-6,-6,-10M1,80q8,-5,18,-8M97,42q0,-13,-5,-24M45,16q-8,-8,-19,-12M111,92q-8,0,-14,-4M0,145q5,-7,9,-16M123,38q12,-2,23,-7M137,116q-1,-5,-5,-8M51,115q-2,-7,-3,-14M85,133q10,-1,20,-2M27,67q-11,-2,-21,-5M134,18q-10,-6,-19,-13M34,8q-7,-2,-14,-5M92,19q-1,-4,-3,-9M67,112q4,-4,9,-8M10,100q4,-2,9,-4M48,17q-2,-5,-5,-9M94,56q1,-11,3,-22M133,124q7,-4,14,-8M13,47q-9,0,-18,-0M4,88q10,-1,20,-1M74,61q5,-5,12,-9M132,106q4,-5,9,-10M86,61q12,-1,22,-6M14,54q-7,-1,-14,-0M19,98q12,-5,24,-10M118,77q-6,0,-11,-4M3,18q5,-5,9,-11M24,128q7,-5,11,-12" stroke="#0f8a1c" stroke-opacity="0.28" stroke-width="2.8" fill="none" stroke-linecap="round"/><path d="M116,123q10,-5,22,-5M76,107q4,-11,7,-22M14,129q2,-11,4,-21M95,35q1,-12,6,-22M69,73q-3,-4,-5,-9M78,84q3,-10,5,-19M32,10q0,-8,-3,-15M111,126q-1,-7,1,-14M20,41q2,-7,3,-14M74,30q-3,-12,-8,-22M17,99q-4,-8,-5,-16M85,71q-6,-5,-12,-11M83,9q-4,-7,-9,-13M29,140q0,-5,-1,-9M138,44q8,-8,13,-19M122,97q10,-4,20,-7M-10,82q5,-4,11,-7M129,38q-4,-1,-9,-1M5,23q10,-2,20,-2M86,48q4,-3,9,-6M31,124q6,-2,10,-7M2,64q5,-7,10,-13M73,115q5,-3,10,-5M37,70q-7,-3,-14,-6M124,101q-5,-5,-11,-9M109,73q2,-6,6,-11M40,68q0,-11,1,-22M-12,102q10,-3,20,-5M94,121q7,-9,13,-19M96,32q-7,-6,-16,-10M-1,35q8,-7,17,-13M103,93q1,-6,4,-12M48,81q8,-2,16,-3M84,139q-10,-2,-19,-7M49,48q-6,-3,-12,-5M128,144q10,-4,17,-12M19,53q-2,-6,-3,-12M112,148q12,-2,22,-8M113,120q1,-12,2,-24M109,44q6,-1,12,-1M97,77q4,-5,9,-9M2,4q-1,-5,-2,-9M141,93q-1,-9,-5,-18M77,130q7,-3,15,-5M48,10q2,-8,7,-15M116,85q4,-6,11,-10M138,60q4,-2,8,-6M51,121q8,-6,16,-10M57,123q5,-7,7,-14M122,117q-1,-11,3,-22M59,92q-9,-3,-17,-4M39,50q-3,-8,-4,-17M23,109q7,-3,14,-4M6,21q-4,-5,-7,-10M39,20q-7,-8,-14,-16M121,58q2,-6,4,-12M99,84q-2,-4,-2,-9M109,38q-4,-3,-8,-5M133,2q-2,-6,-5,-13M60,55q8,-4,15,-9M5,149q-2,-5,-2,-10M136,112q-4,-3,-6,-7M119,29q4,-8,4,-18M97,3q-6,-1,-13,-2M10,-1q6,-3,13,-4M81,34q1,-4,1,-9M46,138q-3,-4,-4,-9M-4,130q0,-9,0,-18M1,85q9,-1,19,-2M137,23q-2,-5,-2,-10M66,34q0,-5,-2,-9M36,99q-6,-9,-15,-16M104,23q2,-9,2,-19M99,130q-3,-11,-5,-22M24,149q-8,-7,-12,-16M43,75q-4,-4,-7,-8M110,135q-7,-1,-14,-2M-6,110q11,-2,20,-9M107,17q5,-10,5,-20M5,110q8,-2,16,-4M69,20q9,-5,19,-9M63,15q5,-9,14,-15M102,70q-6,-7,-9,-16M47,40q-3,-6,-5,-12M128,126q8,-6,14,-14M56,155q6,-9,10,-19M46,22q8,-4,16,-5M-5,59q4,-9,8,-18M17,63q-5,-2,-10,-3M46,82q-2,-9,-1,-17" stroke="#18a028" stroke-opacity="0.38" stroke-width="2.6" fill="none" stroke-linecap="round"/></g><g filter="url(#bl)"><path d="M47,31q-6,-10,-15,-17M53,108q-7,-4,-15,-5M82,122q-3,-9,-7,-17M101,48q-11,0,-21,-0M48,147q2,-5,2,-10M130,55q8,-6,13,-14M13,57q3,-6,7,-10M59,150q2,-7,3,-14M139,129q-10,-6,-20,-14M94,31q12,-3,21,-10M136,120q7,-4,15,-6M104,147q-2,-7,-6,-13M19,113q4,-10,8,-19M40,47q3,-8,10,-13M42,69q9,-5,16,-11M52,141q6,-6,14,-9M84,8q6,-9,12,-17M119,99q1,-12,8,-23M99,91q10,-2,18,-8M152,128q-12,-4,-23,-9M102,146q-5,-8,-13,-15M148,23q-9,-2,-18,-1M135,81q-5,-2,-9,-5M48,146q-3,-11,-1,-23M85,115q2,-6,6,-10M77,102q-11,-6,-22,-12M102,95q6,-4,11,-9M55,126q-7,-3,-13,-7M21,77q10,-8,20,-15M30,44q-4,-9,-2,-19M20,122q3,-9,6,-18M41,8q1,-13,-3,-25M72,13q12,-2,21,-9M55,43q9,-9,20,-14M54,29q5,-5,10,-11M37,80q6,-4,12,-5M82,55q2,-9,7,-17M30,125q-4,-11,-10,-21M96,34q-9,-8,-17,-18M121,59q8,-10,19,-15M72,27q10,-7,20,-12M10,114q1,-5,3,-9M125,4q9,1,18,-1M67,107q5,-8,10,-16M72,111q-8,-10,-11,-22M51,49q1,-7,2,-14M47,4q8,7,18,10M124,117q-5,-4,-8,-9M57,93q-9,-5,-20,-7M33,96q-2,-13,-8,-24M34,40q-8,-8,-16,-16M95,107q-7,-9,-13,-18M19,85q2,-4,4,-8M12,36q7,-7,15,-14M40,42q0,-13,-3,-26M-5,136q6,-2,13,-4M-11,75q7,-1,12,-5M107,39q-13,-2,-26,-3M23,133q0,-5,-3,-9M101,61q7,-7,17,-10M61,91q-2,-8,-1,-15M119,138q3,-7,9,-11M104,112q8,-2,14,-7M35,128q-5,-1,-10,-0M46,62q10,3,20,7M35,48q6,-7,13,-15M55,120q8,-3,16,-4M124,92q-8,-11,-20,-17M10,1q11,-3,21,-8M107,81q-5,-8,-10,-16M88,100q11,-7,17,-17M27,78q5,-9,13,-15M133,55q9,-2,18,-5M-10,63q10,-5,17,-13M118,31q-10,-5,-18,-12M139,13q-7,-8,-17,-11M51,119q-6,-5,-11,-12M41,97q2,-9,4,-18M85,41q1,-5,3,-10M42,65q-2,-7,-5,-14M15,44q-5,-12,-15,-19M142,107q-6,-4,-12,-8M74,65q5,-6,11,-11M103,100q9,-6,18,-13M115,54q9,-8,20,-13M16,79q-1,-13,-4,-25M13,29q-2,-5,-2,-10M100,71q6,-1,11,-3M60,135q8,-5,14,-11M64,112q-9,-1,-17,-2M107,109q-11,-4,-22,-6M156,9q-10,-7,-22,-13M129,6q-7,-3,-13,-9M113,49q4,-6,5,-13M108,58q10,-6,21,-8M101,61q-2,-4,-3,-9M75,107q6,-8,14,-13M57,11q6,-4,12,-7M136,112q8,-10,17,-18M38,122q1,-5,-1,-10M107,109q1,-7,-1,-14M3,139q8,1,15,-1M41,19q8,-9,16,-18M92,131q5,-4,8,-9M9,100q-5,-2,-9,-5M1,112q1,-13,2,-25M88,53q-11,-5,-19,-15M126,22q0,-6,-2,-12M18,9q8,-1,16,-4M9,51q9,-1,16,-5M49,96q10,-2,21,-1M8,94q11,-2,23,-1M36,136q2,-7,5,-13M73,87q0,-11,2,-21M125,28q-9,-7,-15,-18M75,95q-3,-5,-6,-10M28,84q1,-8,5,-15M98,142q2,-11,-1,-22M129,147q3,-7,4,-15M82,7q-3,-4,-4,-8M-10,117q9,-2,17,-6M96,44q11,-6,21,-12M34,24q12,-5,23,-11M69,18q7,-7,16,-11M54,127q0,-8,-3,-14M116,77q6,-1,10,-4M152,148q-10,-6,-20,-11M96,140q4,-5,8,-10M-2,44q5,-1,10,-0M141,98q-4,-10,-10,-18M82,138q1,-6,3,-11M115,15q-2,-9,-2,-19M98,79q-3,-8,-4,-16M139,64q-5,-8,-13,-12M114,59q5,-8,5,-18M8,130q0,-7,3,-14M103,125q-8,-7,-15,-16M125,18q8,-4,16,-7M10,16q4,-6,9,-11M82,131q-9,-5,-20,-6M133,75q8,-4,14,-12M116,102q10,-8,23,-10M123,15q-3,-7,-5,-15M12,119q7,-1,14,-1M63,120q7,-1,13,-5M152,86q-8,-3,-15,-8M121,36q6,-3,10,-7M3,24q-6,-11,-16,-18M16,88q-6,-6,-10,-14M22,149q5,-9,7,-19M23,22q-6,-2,-12,-5M10,137q4,-3,7,-8M102,123q0,-10,2,-19M117,75q3,-6,7,-12M37,55q8,-4,14,-10M29,147q8,-1,15,-4M12,67q0,-10,0,-21M44,60q6,-8,14,-13M42,54q-5,-4,-10,-8M101,78q10,-1,18,-5M121,35q8,-1,16,-1M-2,24q9,-2,18,-4M55,103q4,-3,9,-4M120,145q4,-3,7,-8M43,3q11,-4,20,-11M50,81q10,-9,22,-12M-5,125q5,-1,10,-1M30,51q0,-8,4,-16M28,65q-5,-4,-9,-9M-1,5q0,-8,2,-15M-6,40q10,-4,20,-2M113,25q-11,-5,-22,-10M53,28q2,-6,5,-12M32,101q2,-7,5,-13M109,9q-3,-7,-2,-15M56,62q4,-7,5,-15M10,114q0,-12,2,-25M84,6q4,-3,7,-7M8,20q-1,-8,0,-16M102,135q5,-8,13,-13M43,87q-4,-4,-7,-9M136,23q2,-12,7,-23M26,97q0,-5,-1,-9M42,5q6,-2,12,-5M29,12q10,-1,20,3M96,47q7,-1,14,-3M109,2q2,-5,4,-11M70,124q3,-5,6,-10M54,79q4,-3,8,-6M35,73q-3,-7,-4,-14M143,133q-6,-3,-13,-4M66,54q-2,-7,-5,-14M16,57q-3,-7,-6,-15M103,92q-13,-2,-23,-9M-11,20q5,-12,14,-21M62,143q1,-4,1,-9M36,110q1,-9,0,-18M102,32q-7,-2,-15,-1M34,116q-5,-12,-15,-21M72,46q-1,-8,0,-15M25,26q4,-8,11,-14M75,63q5,-2,10,-3M58,5q9,-8,21,-12M53,34q-9,-5,-17,-13M62,65q8,-9,12,-20M149,103q-5,-10,-14,-18M-5,71q-1,-6,2,-12M79,96q6,-8,14,-14M27,128q5,-2,11,-2M133,43q6,-5,13,-7M-4,95q6,-10,9,-21M2,152q-5,-12,-9,-24M6,12q3,-12,9,-23M73,71q1,-9,5,-18M118,40q5,-6,11,-10M0,26q-5,-1,-10,-3M78,151q7,-5,14,-10M12,76q10,-1,20,-4M100,64q-7,-5,-15,-7M131,136q4,-7,5,-14M97,134q1,-13,9,-24M101,74q-5,-6,-13,-10M145,88q-2,-10,-1,-21M55,48q5,-6,10,-12M83,85q2,-7,6,-14M-7,96q10,-5,21,-6M94,26q2,-7,4,-14M96,18q5,-8,5,-17M126,36q4,-4,6,-9M104,152q7,-8,16,-13M79,87q-6,-1,-12,-2M18,72q-6,-8,-8,-18M28,45q-8,-4,-16,-8M40,134q-6,-8,-11,-17M67,24q-5,-8,-6,-17M14,87q-6,-11,-7,-24M148,41q-5,-10,-15,-16M104,110q7,-5,16,-7M99,126q-11,-2,-22,-4M105,8q-6,-4,-12,-5" stroke="#0f8a1e" stroke-opacity="0.42" stroke-width="1.1" fill="none" stroke-linecap="round"/><path d="M125,140q-1,-8,-4,-15M94,26q-5,-10,-14,-18M85,26q-4,-3,-8,-7M47,153q-7,-7,-11,-16M-8,127q7,-8,17,-12M56,93q-4,-10,-12,-17M107,34q1,-6,0,-12M115,142q2,-4,5,-8M60,9q3,-12,6,-24M55,19q0,-12,3,-23M3,123q8,0,16,-1M3,142q0,-8,-3,-15M115,6q2,-5,5,-10M59,42q7,1,14,-2M105,67q-7,-1,-13,-6M102,33q-2,-8,-5,-15M135,18q4,-7,6,-15M66,90q5,-8,12,-13M132,129q-10,-5,-18,-11M42,78q6,-11,17,-17M-5,86q3,-6,7,-10M54,74q9,-5,18,-11M36,116q-3,-8,-8,-16M62,21q4,-8,6,-17M106,15q3,-10,1,-21M32,42q5,-10,6,-21M112,34q2,-7,6,-12M56,68q-10,-4,-22,-2M23,107q-6,-2,-12,-3M8,146q3,-4,5,-9M86,75q-6,-4,-11,-10M54,54q6,-9,9,-19M85,43q5,-12,9,-24M138,148q-1,-6,-1,-13M14,50q-3,-11,-3,-21M133,65q-4,-4,-8,-9M-1,116q5,-6,6,-14M140,138q-3,-8,-3,-16M6,27q3,-7,6,-13M89,69q0,-5,-1,-10M58,133q-10,-4,-17,-12M19,40q3,-10,5,-19M129,56q1,-8,2,-16M131,152q-1,-9,-5,-17M25,63q-3,-7,-5,-14M16,12q-8,-10,-20,-16M38,11q1,-7,3,-13M12,127q5,-3,11,-4M14,44q-2,-12,1,-25M92,147q-9,-2,-17,-5M16,77q-9,-6,-17,-15M-5,18q6,-1,11,-4M137,49q6,-5,14,-7M72,45q-2,-12,-5,-24M75,138q3,-4,4,-9M51,30q5,-6,8,-14M109,116q-8,-8,-18,-15M25,120q-5,-3,-10,-6M125,92q3,-11,2,-23M144,58q2,-6,4,-13M30,50q-5,-4,-12,-7M35,116q7,-2,15,-1M28,94q5,-8,9,-15M55,64q6,-5,8,-12M81,11q-11,-1,-21,-4M94,103q10,2,21,-1M116,120q-4,-3,-9,-3M134,106q-1,-6,1,-13M91,79q-8,-4,-17,-6M18,121q-6,-10,-14,-19M119,24q0,-6,1,-12M91,138q-4,-12,-10,-24M115,18q-6,-8,-14,-14M31,38q7,-6,16,-10M137,117q-1,-6,1,-12M105,6q-2,-6,-7,-9M37,65q6,-7,14,-12M40,50q9,-8,16,-18M58,139q-5,-4,-10,-7M140,73q5,0,9,-2M95,49q11,-6,20,-15M97,141q0,-5,1,-9M134,26q12,1,23,6M121,118q12,-3,23,-6M126,109q-13,1,-26,-4M-12,72q10,-5,19,-10M53,126q-1,-12,-7,-23M77,40q-1,-5,-5,-9M35,31q-7,-9,-13,-19M34,79q7,-1,14,-2M59,103q3,-4,8,-6M124,60q8,-1,15,-0M72,148q4,-12,5,-24M25,84q3,-4,4,-10M134,93q7,-6,16,-8M0,110q-3,-7,-5,-14M137,3q-1,-6,0,-12M103,127q5,0,10,-2M143,32q0,-8,1,-16M50,135q11,1,20,-3M113,70q-9,-2,-19,-2M56,87q-1,-8,-4,-15M128,55q-9,-6,-16,-14M8,139q1,-10,6,-19M96,100q2,-9,4,-19M7,62q-7,-11,-14,-22M31,147q5,-12,7,-24M118,109q-2,-10,-4,-19M121,132q11,2,21,-0M80,54q5,-11,15,-19M100,76q2,-4,3,-9M120,74q3,-10,5,-20M27,147q5,-4,8,-11M71,131q3,-11,3,-23M69,79q8,-1,16,-5M28,69q4,-8,6,-16M-8,34q5,-3,7,-8M110,77q8,-5,14,-13M102,21q-9,-3,-18,-9M145,61q-8,-1,-16,-2M113,91q6,-2,11,-4M53,45q4,-8,5,-18M47,105q1,-12,3,-23M35,67q0,-10,5,-20M37,43q-6,-4,-12,-7M28,2q11,-4,20,-11M20,25q5,-2,10,-4M48,94q0,-10,1,-20M13,20q9,-3,16,-10M46,95q6,-1,11,0M97,126q5,-3,10,-7M67,94q-8,-5,-14,-14M61,88q5,-8,7,-18M53,111q-6,-5,-14,-9M28,83q5,-5,7,-12M110,62q0,-6,-1,-12M-7,77q6,-4,14,-6M72,4q9,-3,18,-4M88,115q3,-5,7,-8M86,97q0,-7,3,-13M73,104q5,-8,12,-15M74,50q-2,-6,-6,-10M1,80q8,-5,18,-8M97,42q0,-13,-5,-24M45,16q-8,-8,-19,-12M111,92q-8,0,-14,-4M0,145q5,-7,9,-16M123,38q12,-2,23,-7M137,116q-1,-5,-5,-8M51,115q-2,-7,-3,-14M85,133q10,-1,20,-2M27,67q-11,-2,-21,-5M134,18q-10,-6,-19,-13M34,8q-7,-2,-14,-5M92,19q-1,-4,-3,-9M67,112q4,-4,9,-8M10,100q4,-2,9,-4M48,17q-2,-5,-5,-9M94,56q1,-11,3,-22M133,124q7,-4,14,-8M13,47q-9,0,-18,-0M4,88q10,-1,20,-1M74,61q5,-5,12,-9M132,106q4,-5,9,-10M86,61q12,-1,22,-6M14,54q-7,-1,-14,-0M19,98q12,-5,24,-10M118,77q-6,0,-11,-4M3,18q5,-5,9,-11M24,128q7,-5,11,-12" stroke="#1eb030" stroke-opacity="0.65" stroke-width="1.0" fill="none" stroke-linecap="round"/><path d="M116,123q10,-5,22,-5M76,107q4,-11,7,-22M14,129q2,-11,4,-21M95,35q1,-12,6,-22M69,73q-3,-4,-5,-9M78,84q3,-10,5,-19M32,10q0,-8,-3,-15M111,126q-1,-7,1,-14M20,41q2,-7,3,-14M74,30q-3,-12,-8,-22M17,99q-4,-8,-5,-16M85,71q-6,-5,-12,-11M83,9q-4,-7,-9,-13M29,140q0,-5,-1,-9M138,44q8,-8,13,-19M122,97q10,-4,20,-7M-10,82q5,-4,11,-7M129,38q-4,-1,-9,-1M5,23q10,-2,20,-2M86,48q4,-3,9,-6M31,124q6,-2,10,-7M2,64q5,-7,10,-13M73,115q5,-3,10,-5M37,70q-7,-3,-14,-6M124,101q-5,-5,-11,-9M109,73q2,-6,6,-11M40,68q0,-11,1,-22M-12,102q10,-3,20,-5M94,121q7,-9,13,-19M96,32q-7,-6,-16,-10M-1,35q8,-7,17,-13M103,93q1,-6,4,-12M48,81q8,-2,16,-3M84,139q-10,-2,-19,-7M49,48q-6,-3,-12,-5M128,144q10,-4,17,-12M19,53q-2,-6,-3,-12M112,148q12,-2,22,-8M113,120q1,-12,2,-24M109,44q6,-1,12,-1M97,77q4,-5,9,-9M2,4q-1,-5,-2,-9M141,93q-1,-9,-5,-18M77,130q7,-3,15,-5M48,10q2,-8,7,-15M116,85q4,-6,11,-10M138,60q4,-2,8,-6M51,121q8,-6,16,-10M57,123q5,-7,7,-14M122,117q-1,-11,3,-22M59,92q-9,-3,-17,-4M39,50q-3,-8,-4,-17M23,109q7,-3,14,-4M6,21q-4,-5,-7,-10M39,20q-7,-8,-14,-16M121,58q2,-6,4,-12M99,84q-2,-4,-2,-9M109,38q-4,-3,-8,-5M133,2q-2,-6,-5,-13M60,55q8,-4,15,-9M5,149q-2,-5,-2,-10M136,112q-4,-3,-6,-7M119,29q4,-8,4,-18M97,3q-6,-1,-13,-2M10,-1q6,-3,13,-4M81,34q1,-4,1,-9M46,138q-3,-4,-4,-9M-4,130q0,-9,0,-18M1,85q9,-1,19,-2M137,23q-2,-5,-2,-10M66,34q0,-5,-2,-9M36,99q-6,-9,-15,-16M104,23q2,-9,2,-19M99,130q-3,-11,-5,-22M24,149q-8,-7,-12,-16M43,75q-4,-4,-7,-8M110,135q-7,-1,-14,-2M-6,110q11,-2,20,-9M107,17q5,-10,5,-20M5,110q8,-2,16,-4M69,20q9,-5,19,-9M63,15q5,-9,14,-15M102,70q-6,-7,-9,-16M47,40q-3,-6,-5,-12M128,126q8,-6,14,-14M56,155q6,-9,10,-19M46,22q8,-4,16,-5M-5,59q4,-9,8,-18M17,63q-5,-2,-10,-3M46,82q-2,-9,-1,-17" stroke="#4fe85c" stroke-opacity="0.92" stroke-width="0.95" fill="none" stroke-linecap="round"/></g><path d="M116,129.4H133.6" stroke="#35e83a" stroke-width="1.6"/></svg>
<svg x="375.8" y="185.2" width="141" height="140.8" viewBox="0 0 141 140.8" overflow="hidden"><rect width="141" height="140.8" fill="#022607"/><g filter="url(#bl2)"><path d="M69.2,100.8q-1.6,-5.2,-3.8,-10.1M29.2,89.4q0.2,-3.0,-0.7,-5.8M73.3,68.4q-2.9,-2.2,-5.0,-5.3M50.6,104.8q-1.0,-3.5,-0.9,-7.2M140.9,2.6q-1.8,-4.7,-2.5,-9.7M48.5,5.4q-1.0,-4.3,-0.6,-8.6M117.1,140.5q-2.0,-5.0,-4.6,-9.7M41.4,99.3q1.2,-2.9,2.4,-5.9M114.4,90.1q-4.5,-3.4,-9.5,-5.9M110.6,82.2q0.9,-1.8,1.5,-3.7M28.1,97.3q-3.0,-0.3,-6.0,-0.0M106.3,32.0q5.6,-1.0,11.3,-2.0M32.9,41.7q-1.3,-5.0,-4.0,-9.4M9.1,21.1q4.6,-3.3,7.9,-7.9M98.0,1.7q-3.1,-1.3,-6.4,-2.3M85.6,22.6q2.0,-2.7,4.5,-4.9M78.3,127.0q-3.4,-3.8,-6.3,-8.0M102.5,-1.3q2.0,-1.1,3.7,-2.6M124.4,88.5q-1.9,-0.9,-3.9,-1.5M97.4,113.2q0.2,-3.7,-0.0,-7.4M-3.1,100.2q2.2,-4.3,4.5,-8.6M81.0,91.4q-3.9,-2.9,-7.7,-6.0M56.6,88.3q-1.6,-3.9,-2.2,-8.1M97.6,84.4q0.9,-2.0,2.3,-3.8M63.9,0.3q-2.2,-1.2,-4.4,-2.3M117.7,53.7q-3.7,-3.6,-7.5,-7.0M114.6,12.5q-0.8,-2.8,-1.8,-5.6M41.4,47.3q-1.9,-2.8,-3.3,-5.9M43.7,0.0q-2.9,-3.2,-6.6,-5.3M142.5,118.3q2.2,-0.9,4.0,-2.6M20.1,147.7q-0.1,-3.5,-0.7,-7.0M15.1,-0.5q-3.0,-1.5,-5.3,-3.9M117.7,127.3q-2.8,-2.0,-4.8,-4.7M27.8,146.3q4.3,-4.1,8.8,-7.8M104.3,114.4q-0.1,-3.7,0.6,-7.2M54.2,41.7q3.0,-5.4,6.2,-10.5M39.5,17.1q2.9,-2.0,5.5,-4.4M68.0,115.2q0.5,-4.4,1.4,-8.6M39.8,33.8q-3.7,-1.9,-7.2,-4.2M15.6,42.4q5.1,-2.1,9.8,-4.8M117.0,101.7q2.4,-2.5,5.0,-4.9M0.4,104.2q0.8,-3.2,2.1,-6.1M89.7,68.9q-3.4,-4.9,-8.2,-8.5M39.8,32.0q0.8,-4.3,0.0,-8.6M112.2,0.1q-1.4,-2.2,-2.5,-4.5M17.0,75.4q4.9,-2.5,10.4,-3.1M12.4,52.3q0.2,-4.0,-0.3,-8.0M144.5,125.0q-2.1,-2.9,-4.7,-5.4M70.3,56.4q2.6,-2.3,4.7,-4.9M44.8,117.2q1.8,-3.1,3.4,-6.3M22.8,45.0q-3.0,-1.9,-5.5,-4.4M33.9,9.8q2.8,-0.1,5.5,-0.4M106.1,15.0q-2.3,-1.5,-4.9,-2.6M46.5,42.9q1.6,-2.5,3.4,-4.9M22.1,140.7q-2.3,-2.1,-4.3,-4.4M110.8,57.8q-2.0,-1.3,-4.4,-1.8M147.1,79.1q-1.5,-2.4,-3.2,-4.7M6.5,146.6q-5.0,-1.4,-10.0,-2.9M133.1,21.3q-0.4,-5.6,-1.7,-11.1M95.9,58.2q4.0,-2.8,8.7,-4.2M112.2,31.2q0.8,-3.5,1.3,-7.1M118.2,131.6q-2.1,-2.6,-4.7,-4.7M19.9,121.2q-3.8,-0.8,-7.4,-2.1M62.9,126.4q-1.3,-4.3,-1.0,-8.7M91.6,77.4q2.7,-1.9,4.8,-4.5M41.3,92.3q-2.5,-2.4,-5.1,-4.5M102.8,101.3q-4.8,-3.9,-8.8,-8.7M58.7,122.0q0.0,-2.4,-0.4,-4.8M120.7,16.1q0.4,-3.1,1.5,-6.1M87.3,61.4q-0.7,-3.3,-2.6,-6.1M143.4,107.2q-1.9,-4.2,-5.2,-7.3M25.3,8.1q1.5,-4.9,2.2,-9.9M2.6,75.0q0.6,-3.3,1.4,-6.5M40.5,98.0q-4.8,-0.8,-9.7,-0.2M8.2,131.3q-3.5,-1.0,-6.9,-2.4M50.1,64.6q6.1,-1.8,12.4,-2.3M131.9,7.0q-4.8,-2.7,-8.8,-6.5M87.5,123.3q-2.5,-5.8,-6.6,-10.8M84.7,135.5q-0.7,-3.7,-2.4,-7.2M40.0,69.8q4.2,-2.1,8.0,-4.6M62.0,129.5q-5.1,0.0,-10.0,-1.2M87.9,69.3q2.3,-1.0,4.7,-1.8M125.9,26.3q-1.8,-1.6,-3.8,-2.8M105.8,39.6q-3.1,-0.1,-6.2,-0.5M124.9,64.3q4.9,-1.0,9.4,-3.1M63.1,102.1q-4.5,-2.2,-8.0,-5.7M83.4,74.3q2.4,-2.1,4.3,-4.8M119.6,119.2q-3.7,-0.7,-7.2,-1.8M88.5,109.1q4.9,-2.6,9.2,-6.2M19.8,96.8q-3.2,-0.6,-6.4,-0.8M0.3,20.7q0.2,-6.4,1.2,-12.7M137.8,78.3q-3.0,-3.4,-6.9,-5.6M128.0,108.5q-0.4,-4.3,-0.8,-8.6M23.8,87.0q3.7,-1.0,6.8,-3.3M7.0,34.2q0.5,-3.2,1.7,-6.3M-2.0,53.1q4.7,-0.3,9.3,-1.5M133.7,129.4q2.6,-3.8,5.9,-7.1M62.3,23.3q-1.7,-2.6,-3.4,-5.2M8.7,47.8q1.0,-4.9,3.8,-9.1M95.1,-3.7q-4.7,-0.1,-9.3,-0.9M147.2,85.9q-3.0,-1.1,-6.2,-1.8M125.2,139.9q1.6,-2.1,3.0,-4.3M46.1,30.8q2.6,-2.7,5.1,-5.5M62.1,64.5q4.3,-3.6,7.6,-8.0M131.8,27.0q-3.1,-2.8,-6.5,-5.3M21.6,25.2q-1.4,-2.3,-2.7,-4.7M102.1,118.1q-4.3,-0.7,-8.7,-1.4M139.2,15.1q2.0,-0.8,3.9,-1.9M107.2,76.0q-2.7,-1.2,-5.6,-1.4M43.2,5.1q-3.3,-1.4,-6.5,-2.9M117.4,113.9q1.3,-5.6,4.0,-10.7M60.2,33.2q-0.5,-3.2,-1.0,-6.3M4.8,8.6q0.5,-3.4,2.0,-6.5M61.3,41.0q-0.4,-2.7,-1.2,-5.3M126.1,20.1q-3.3,-2.2,-6.8,-4.0M61.9,31.2q0.5,-4.2,-0.5,-8.3M91.1,26.5q1.7,-2.9,4.4,-4.9M-1.6,1.1q-1.5,-3.2,-3.6,-6.0M72.6,118.4q-3.2,-4.0,-6.3,-8.1M71.2,18.5q-5.2,-0.4,-10.5,-0.8M26.4,97.3q5.6,-0.8,10.9,-2.7M20.2,64.4q-6.4,1.0,-12.8,-0.2M140.0,106.8q-4.8,-2.8,-9.4,-6.0M73.2,129.7q-2.5,-4.4,-3.1,-9.4M99.3,12.4q-4.5,-2.9,-7.7,-7.1M138.9,86.0q-4.7,-0.9,-9.3,-2.2M104.7,81.2q6.0,-0.3,12.0,-0.6M131.9,70.5q-1.3,-2.6,-3.2,-4.8M80.1,90.3q-0.3,-3.6,-1.5,-7.0M78.0,135.5q-3.0,-4.8,-4.3,-10.2M113.3,6.9q1.1,-3.0,2.0,-6.0M0.7,55.3q-3.6,-5.4,-5.5,-11.6M98.7,96.0q1.2,-4.8,1.3,-9.7M76.7,64.6q-1.0,-5.8,-1.2,-11.7M100.0,47.3q-3.2,-1.9,-6.8,-2.8M14.6,3.8q1.4,-5.1,2.2,-10.3M144.1,112.4q0.2,-3.6,1.3,-7.0M56.2,75.7q-4.0,-0.5,-7.7,-2.1M34.1,52.8q3.2,-1.7,6.5,-3.2M28.2,12.4q1.4,-1.9,3.0,-3.5M56.8,144.5q1.0,-2.0,2.4,-3.9M55.9,63.9q0.6,-4.9,2.2,-9.6M79.2,46.8q-1.1,-4.9,-3.6,-9.2M128.6,115.8q2.8,-2.8,5.9,-5.4M7.9,113.1q-3.4,0.0,-6.6,-1.0M43.5,138.9q-0.9,-1.9,-2.4,-3.2M88.5,60.0q0.7,-5.6,1.2,-11.3M7.0,101.7q5.2,-1.9,10.2,-4.2M105.2,95.1q-1.3,-6.2,-4.6,-11.7M90.2,107.7q3.1,-0.2,6.2,-0.6M4.1,109.3q1.0,-2.8,1.0,-5.7M18.7,121.3q-5.2,-0.7,-10.5,-1.2M139.3,31.6q5.8,-0.7,11.6,-1.1M137.0,59.8q1.3,-2.7,2.6,-5.5M122.2,47.3q-2.7,-2.5,-5.5,-4.9M113.7,102.1q-4.2,-2.9,-9.1,-4.0M6.8,133.6q2.5,-6.0,6.5,-11.1M78.6,96.8q2.6,-4.7,6.8,-8.0M97.6,125.8q-4.1,-0.4,-7.9,-2.1M127.5,78.2q2.2,-3.7,4.5,-7.4M73.1,141.4q2.6,-0.0,5.0,-1.1M106.4,68.7q1.1,-3.2,0.9,-6.7M26.0,118.5q1.0,-2.6,1.2,-5.3M5.9,125.9q-0.5,-2.4,-0.5,-4.8M0.1,23.7q3.9,-0.7,7.5,-2.1M27.6,23.6q3.1,-2.4,5.6,-5.4M21.7,27.9q0.5,-3.0,0.9,-6.0M97.4,42.0q-4.1,0.3,-8.0,-0.7M91.2,60.4q5.5,-0.9,11.0,-0.0M28.6,115.2q3.2,-0.8,6.4,-2.1M3.9,129.2q-5.6,-0.9,-10.9,-2.8M85.5,11.4q1.6,-5.7,1.5,-11.6M117.8,13.2q-4.9,-0.9,-9.7,-2.3M141.7,66.2q-4.4,-4.0,-9.8,-6.5M70.4,12.5q1.3,-3.3,3.5,-6.1M17.5,55.0q6.0,-1.6,11.4,-4.5M74.5,9.6q-0.4,-6.3,1.6,-12.2M5.9,33.4q2.9,0.3,5.7,-0.4M21.1,73.2q-3.3,-2.0,-6.6,-4.0M3.3,119.7q4.1,-4.4,6.9,-9.8M113.3,76.7q2.0,-1.0,4.2,-1.4M31.1,122.8q-3.1,0.2,-6.3,-0.1M66.7,79.3q4.7,-3.8,10.3,-6.3M103.0,136.1q-2.5,-0.7,-5.1,-1.1M89.5,136.2q2.4,-0.8,4.8,-0.7M68.8,101.4q5.2,-2.5,10.8,-3.6M90.4,11.1q-0.0,-4.5,-1.8,-8.6M101.2,132.9q4.2,-1.1,8.5,-0.6M126.7,105.8q-0.2,-3.9,-1.2,-7.7M11.0,137.9q-1.5,-2.4,-3.7,-4.3M94.4,134.4q1.6,-2.0,2.8,-4.3M111.2,116.8q2.5,-5.9,3.4,-12.2M82.6,30.5q-0.7,-2.1,-1.6,-4.3M137.8,13.2q-5.8,-2.4,-10.6,-6.7M44.6,67.2q-2.8,-0.5,-5.6,-0.6M110.6,36.8q3.5,-1.3,6.4,-3.5M104.8,89.2q-3.5,-3.2,-7.4,-5.8M53.8,33.1q-0.0,-5.9,2.2,-11.5M138.2,91.0q-3.2,-4.2,-7.1,-7.7M33.3,0.0q0.6,-4.0,2.1,-7.7M77.8,15.9q0.3,-2.6,0.9,-5.1M129.4,43.9q-4.0,-1.1,-8.2,-1.2M39.8,108.1q0.7,-2.5,1.3,-5.0M44.1,144.1q2.2,-3.4,4.4,-6.8M90.7,85.8q-3.8,-1.3,-7.7,-2.0M75.4,21.1q-0.8,-2.8,-2.2,-5.4M1.2,142.8q1.2,-5.8,2.9,-11.5M34.2,49.8q0.0,-3.6,-1.2,-6.9M-7.4,61.0q4.6,-2.4,8.2,-6.0M82.7,25.7q-5.0,-3.8,-10.0,-7.5M44.0,42.1q-0.2,-4.9,-1.9,-9.5M46.9,-2.5q-2.5,-1.1,-4.9,-2.3M8.8,79.5q4.7,-2.6,9.8,-4.0M33.4,64.1q-1.9,-4.1,-2.1,-8.6M110.4,48.0q-5.8,-2.4,-12.0,-3.2M19.0,37.9q5.7,-2.4,10.7,-6.2M66.3,35.0q0.0,-2.1,0.6,-4.2M140.6,4.2q1.2,-2.5,2.9,-4.6M52.6,131.8q-4.3,-2.9,-9.0,-5.1M33.1,9.5q-0.2,-2.8,-0.0,-5.5M23.5,113.3q0.3,-2.8,0.0,-5.5M49.0,8.6q5.1,-2.3,10.1,-4.8M71.2,62.5q0.6,-2.7,0.4,-5.5M131.6,59.0q-1.8,-3.6,-3.1,-7.4M43.2,80.8q-4.2,-0.3,-8.3,-1.0M58.0,108.1q3.6,-4.4,7.1,-9.0M135.0,5.7q4.1,-3.2,8.7,-5.7M140.6,12.5q-6.3,-1.3,-12.6,-0.5M131.5,142.4q-1.8,-1.5,-3.4,-3.1M25.3,126.6q0.9,-2.6,1.5,-5.3M48.3,55.4q-3.4,-5.0,-8.2,-8.5M116.6,19.9q0.2,-2.8,-0.1,-5.6M-2.9,36.7q0.3,-2.3,1.5,-4.3M113.3,146.2q-2.6,-1.6,-5.3,-2.9M107.1,5.2q1.7,-1.9,2.6,-4.3M121.7,69.1q-1.3,-2.2,-2.8,-4.1M127.3,118.9q-0.1,-2.5,0.7,-4.9M26.7,47.7q-1.4,-3.4,-3.3,-6.6M104.5,115.4q6.0,-0.7,12.0,-0.3M138.2,129.6q1.8,-1.3,3.5,-2.7M131.7,48.1q-0.8,-3.7,-2.3,-7.2M123.2,56.3q5.2,-3.1,10.0,-6.8M40.5,125.0q2.7,-2.5,4.6,-5.6M98.5,25.2q-0.6,-5.1,-1.0,-10.1M117.4,58.8q3.0,-1.3,5.3,-3.5M99.0,74.4q-1.6,-4.3,-2.3,-8.8M65.6,82.6q1.0,-3.6,1.3,-7.2M37.1,139.9q2.7,-1.4,5.6,-2.0M123.1,126.2q6.2,-1.6,11.9,-4.5M24.9,143.7q2.3,-2.9,3.6,-6.4M94.7,81.8q-1.4,-6.2,-2.5,-12.5M46.1,62.4q2.2,-0.9,4.3,-2.1M52.2,143.9q-3.3,-4.3,-6.9,-8.3M105.4,16.6q-3.1,-0.9,-5.7,-2.8M82.4,117.4q-5.2,-4.0,-8.9,-9.4M-2.6,91.9q5.1,-2.5,10.7,-3.9M133.8,37.4q-2.4,-1.0,-4.2,-2.8M15.4,59.2q-3.7,-4.8,-7.0,-10.0M84.0,148.7q2.0,-4.3,3.6,-8.7M122.8,-0.1q0.5,-4.0,-0.6,-7.9M128.3,38.3q-1.4,-4.4,-1.7,-8.9M46.0,131.0q-1.5,-1.8,-3.5,-3.0M77.9,114.7q2.0,-0.9,4.1,-1.1M104.9,106.2q-1.3,-4.8,-3.1,-9.5M122.4,85.4q-2.1,-0.7,-4.2,-1.1M22.7,35.4q-0.1,-4.9,1.2,-9.6M126.2,30.5q-1.1,-1.9,-1.6,-4.0M133.4,97.5q2.9,-1.1,5.4,-2.8M63.0,74.1q5.4,-1.1,10.2,-3.8M42.0,33.2q0.8,-5.7,3.0,-11.0M64.3,48.3q2.8,-3.2,6.4,-5.5M-2.2,43.9q5.7,-1.1,11.1,-3.3M11.3,29.4q-0.4,-2.1,-0.6,-4.2M65.5,131.0q-3.4,-0.9,-6.8,-0.8M62.4,27.3q5.5,0.3,10.7,-1.5M36.2,88.9q1.3,-4.2,2.7,-8.4M35.5,137.4q3.8,-5.2,8.3,-9.9M133.3,112.8q1.9,-2.6,4.0,-5.1M55.9,99.2q-3.0,-1.1,-6.3,-1.4M104.4,56.2q1.0,-4.5,0.3,-9.1M136.4,18.7q3.6,-1.9,7.4,-3.3M33.9,146.6q2.0,-4.5,5.5,-7.9M97.5,42.5q-2.7,-4.6,-5.2,-9.2M33.9,31.9q-0.6,-5.6,-0.2,-11.2M108.5,48.5q0.6,-4.3,-0.2,-8.5M87.4,98.9q-1.1,-2.1,-2.7,-3.8M6.3,61.2q-1.1,-3.2,-2.3,-6.3M149.6,40.5q-5.7,-0.6,-10.7,-3.1M138.6,144.4q-3.6,-2.7,-7.3,-5.3M-1.5,23.5q0.7,-2.1,1.7,-4.1M97.8,5.2q4.5,-2.2,8.2,-5.6M71.1,35.3q-1.5,-2.5,-3.6,-4.6M3.9,4.4q-0.8,-5.5,-2.9,-10.6M126.6,80.5q-6.3,-1.0,-12.0,-4.0M22.4,76.3q1.8,-2.8,3.9,-5.4M46.1,61.9q4.0,-4.7,8.5,-8.9M26.6,19.0q-2.8,-5.6,-7.5,-9.7M111.2,135.6q-2.1,-3.2,-5.1,-5.5M21.0,106.4q-1.2,-2.6,-2.0,-5.3M26.5,135.8q-1.4,-6.1,-0.8,-12.4M57.9,147.2q3.5,-2.5,6.7,-5.4M53.6,121.3q-2.0,-5.4,-3.7,-10.9M96.1,11.1q-4.3,-1.5,-8.8,-2.1M73.4,148.4q-0.5,-5.4,-0.4,-10.8M35.9,109.0q2.7,-0.8,5.4,-1.4M89.3,41.9q-1.6,-2.3,-3.1,-4.7M43.4,44.6q-3.2,-4.8,-6.5,-9.5M11.5,94.8q-1.2,-2.0,-2.4,-4.0M125.3,114.2q-0.6,-4.7,-0.9,-9.4M84.0,112.2q-1.1,-4.3,-2.5,-8.4M61.4,142.7q-3.7,-5.2,-7.4,-10.3M90.7,35.8q-4.0,-2.6,-6.9,-6.4M136.2,88.3q-5.2,-3.3,-10.1,-7.0M131.3,129.5q1.2,-2.8,3.2,-5.2M55.9,126.5q-4.1,-1.0,-8.3,-1.9M11.4,16.3q0.1,-3.5,1.5,-6.7M20.2,25.5q-0.2,-4.6,-2.1,-8.9M7.7,145.8q1.8,-2.4,3.0,-5.2M144.2,50.5q-2.3,-1.7,-5.1,-2.5M53.2,-1.4q5.7,-1.3,10.5,-4.7M30.2,106.0q3.8,-1.0,7.7,-2.1M54.4,50.8q0.4,-3.2,-0.4,-6.4M86.4,2.0q-5.5,-1.5,-11.2,-2.4M97.1,108.3q-0.9,-5.3,-1.6,-10.7M44.7,33.8q-0.5,-4.8,-1.4,-9.6M87.8,30.0q-4.2,-2.8,-8.9,-4.5M27.4,133.1q2.6,-2.2,4.2,-5.3M0.2,80.4q-1.3,-3.0,-1.4,-6.3M10.8,118.0q0.8,-2.9,0.5,-5.8M45.4,74.3q4.6,-2.3,9.2,-4.4M0.2,31.0q0.3,-3.0,0.1,-6.0M84.8,82.9q3.6,-1.4,6.7,-3.6M32.6,21.7q3.6,-4.7,5.9,-10.3M84.8,13.6q-3.9,-0.4,-7.3,-2.2M68.6,132.4q0.5,-5.3,1.4,-10.5M93.3,36.8q0.1,-5.4,1.4,-10.6M41.6,124.9q-4.8,-0.2,-9.4,-1.0M63.5,92.4q-0.6,-3.5,0.1,-6.9M118.9,128.2q1.3,-2.8,2.9,-5.5M121.0,145.5q-2.4,-2.9,-4.0,-6.3M55.6,79.1q-0.5,-6.5,-2.9,-12.5M84.8,50.6q-1.0,-2.3,-1.2,-4.8M140.8,52.3q-5.9,-1.9,-11.4,-4.7M19.4,58.6q1.0,-1.9,1.8,-4.0M143.3,100.8q-3.4,-3.5,-6.9,-7.0M21.4,108.4q1.9,-3.3,4.2,-6.5M143.5,92.1q1.0,-4.0,2.6,-7.7M95.1,56.3q-0.5,-6.5,-1.2,-12.9M69.9,110.1q1.2,-5.0,1.1,-10.2M130.7,73.6q3.7,-0.1,7.3,-1.4M14.6,13.5q3.4,-3.0,6.5,-6.3M36.7,91.4q-2.7,-3.9,-5.9,-7.4M3.7,18.8q2.5,-5.3,6.2,-9.7M62.4,103.5q1.2,-3.7,2.5,-7.4M130.6,93.9q1.7,-6.2,1.6,-12.5M126.8,49.8q-5.2,0.9,-10.3,-0.3M90.4,54.3q-1.7,-2.5,-3.2,-5.1M47.2,81.4q0.0,-5.9,-1.3,-11.6M126.5,117.1q-1.4,-1.9,-3.2,-3.4M53.2,114.6q-2.0,-5.8,-5.3,-10.9M112.9,131.5q0.0,-6.1,-0.4,-12.2M29.6,78.5q-1.1,-2.3,-2.7,-4.2M61.4,43.4q-2.7,-2.5,-5.7,-4.7M136.1,118.1q-2.7,-3.9,-5.3,-8.0M144.5,42.6q-3.8,-0.8,-7.6,-1.6M81.9,99.2q4.6,-4.3,10.0,-7.2M33.6,111.4q-3.6,-3.2,-7.6,-6.1M8.5,20.1q-2.1,-5.7,-5.9,-10.4M38.5,58.9q-3.3,-0.7,-6.6,-0.2M5.7,39.5q-3.0,-3.8,-5.1,-8.1M61.2,114.9q0.5,-4.5,1.8,-8.8M98.0,121.1q3.2,-1.5,6.8,-1.7M56.4,117.3q-1.3,-5.5,-4.3,-10.2M115.2,64.6q-1.7,-2.7,-3.3,-5.4M80.2,72.1q-3.8,-3.1,-8.4,-4.8M119.4,138.0q6.3,-0.8,12.7,-1.4M107.6,76.1q-1.2,-4.4,-1.5,-8.9M29.6,70.6q0.2,-2.6,1.3,-5.0M92.9,125.5q-1.8,-1.6,-3.6,-3.1M45.7,56.6q3.6,-3.4,7.6,-6.2M69.7,36.5q1.5,-1.6,2.9,-3.3M121.7,75.8q-2.7,-2.1,-5.1,-4.5M105.4,94.7q2.8,-1.0,5.8,-1.6M1.0,46.2q-3.3,-2.5,-7.1,-4.1M86.5,19.8q-3.2,-0.8,-6.5,-0.6M134.5,31.6q4.2,-2.7,8.9,-4.4M26.4,90.3q-5.3,0.4,-10.5,-0.6M134.4,138.9q4.3,-2.6,7.7,-6.3M34.9,55.4q-1.7,-2.2,-4.1,-3.8M125.0,149.7q-2.9,-3.7,-4.8,-7.9M65.2,86.6q5.0,-2.5,10.5,-3.8M92.7,7.3q0.5,-4.3,1.8,-8.5M1.3,121.2q-3.4,-2.1,-6.9,-4.0M97.0,26.3q1.5,-3.8,3.5,-7.3M119.7,106.6q-2.3,-4.1,-4.3,-8.3M51.7,44.7q-1.0,-3.2,-2.9,-5.9M58.2,78.0q-1.3,-3.5,-2.8,-6.9M106.5,45.0q3.0,-5.0,6.8,-9.4M15.2,131.4q-0.8,-4.0,-0.8,-8.2M8.2,66.5q-2.8,-0.7,-5.6,-1.3M14.9,109.0q3.3,-0.5,6.2,-2.0M14.5,35.3q-2.6,-1.1,-5.4,-1.7M23.3,68.8q4.9,-2.1,9.7,-4.6M42.7,114.6q-2.5,0.2,-5.0,-0.4M80.5,38.3q1.6,-2.9,2.4,-6.2M127.7,-1.9q2.9,-1.8,6.3,-2.5M40.7,108.5q0.9,-2.1,2.3,-3.9M44.7,59.0q-3.2,-1.8,-6.7,-2.8M40.5,113.9q2.9,-4.0,6.1,-7.6M75.6,135.8q6.1,-0.6,12.2,-1.5M16.9,120.7q-0.8,-4.4,-0.9,-8.8M86.6,129.7q1.1,-2.0,2.1,-3.9M21.9,2.1q3.0,-2.0,6.4,-3.0M17.7,72.0q-5.1,-1.0,-10.3,-0.2M80.3,125.7q3.3,-1.9,7.0,-2.9M76.4,53.8q-1.8,-3.9,-3.7,-7.8M44.6,15.2q1.2,-2.3,2.7,-4.5M78.0,80.0q5.3,-0.9,10.2,-3.3M76.2,107.9q-1.4,-4.1,-1.4,-8.4M31.1,135.6q-3.8,-0.6,-7.4,-2.2M66.0,93.6q3.1,-0.7,6.3,-1.1M108.5,96.9q-2.0,-0.4,-3.9,-1.0M78.1,46.2q4.5,-3.9,8.9,-8.0M77.5,31.7q-1.1,-1.8,-1.7,-3.9M9.6,82.2q-3.5,-3.4,-5.5,-7.8M66.7,143.1q-1.3,-5.0,-3.7,-9.5M0.3,8.0q-3.7,-5.2,-5.2,-11.3M66.1,1.6q4.9,-0.0,9.7,-1.4M98.6,138.6q-1.5,-1.4,-3.2,-2.5M88.9,142.2q5.6,-2.1,11.3,-4.0M16.5,76.8q2.8,-1.7,6.0,-2.3M14.5,4.5q-1.7,-2.8,-3.1,-5.8M113.8,85.7q4.5,-0.3,8.6,-2.2M0.5,87.3q-2.9,-1.3,-5.3,-3.3M32.9,139.1q1.0,-4.7,0.2,-9.5M144.3,57.5q-3.7,-2.6,-6.8,-5.9M141.0,0.7q-2.3,-1.7,-4.9,-3.2M44.6,2.1q-2.4,-0.0,-4.8,-0.2M49.9,86.8q-0.9,-6.3,-3.8,-12.1M71.1,17.1q-1.5,-2.1,-2.5,-4.5M59.3,11.6q2.8,-3.7,4.9,-7.7M54.8,10.7q-2.2,-1.0,-4.3,-2.2M39.4,73.8q-2.7,-3.2,-6.5,-5.2M57.5,17.5q1.4,-4.5,1.6,-9.1M68.5,137.5q2.1,-2.4,4.1,-4.9M18.1,37.7q2.9,-3.6,6.2,-6.7M43.5,82.6q-2.0,-1.0,-4.1,-1.8M25.1,69.1q-2.7,-2.2,-4.5,-5.1M53.0,94.3q-3.5,-2.2,-7.1,-4.2M123.1,56.7q-6.3,-0.2,-12.3,-1.8M120.4,97.3q4.4,-1.4,9.0,-1.4M69.6,91.5q-3.3,-5.0,-4.7,-11.0M83.9,68.7q-4.0,-2.8,-7.8,-6.0M11.2,107.5q-0.2,-4.9,-0.4,-9.8M9.8,81.5q-3.1,-1.3,-6.5,-2.0M99.3,31.3q3.9,-1.5,7.9,-2.3M79.9,137.0q-3.5,0.2,-6.9,-0.6M98.8,142.7q2.9,-2.3,6.1,-4.2M104.1,119.0q-3.0,-1.0,-6.0,-2.0M83.0,90.8q4.7,-1.9,9.3,-3.9M128.5,135.0q-3.6,-3.2,-7.5,-6.2M116.0,134.1q-4.9,-2.6,-9.7,-5.4M98.1,145.2q-6.1,-1.8,-11.2,-5.6M24.7,92.8q3.0,-1.1,6.1,-1.9M23.0,58.7q-0.9,-3.5,-0.5,-7.1M110.0,47.8q-3.0,-0.7,-6.1,-0.4M-0.7,99.9q2.3,0.1,4.6,-0.4M27.1,35.7q2.3,-5.2,4.3,-10.5M116.3,31.8q-2.8,-3.2,-4.5,-7.2M125.2,40.9q-3.8,-1.1,-7.7,-0.9M67.4,64.9q-1.2,-2.3,-3.1,-4.1M3.1,128.4q-5.7,-2.2,-11.3,-4.8M87.6,114.3q2.6,-0.2,5.2,-0.1M27.5,19.9q-3.0,-2.9,-6.0,-5.8M20.9,52.9q0.1,-2.2,0.6,-4.3M56.5,116.9q5.4,-0.5,10.9,-0.7M52.1,139.6q1.2,-3.6,2.8,-7.1M41.5,93.8q4.1,-1.6,8.3,-2.9M101.5,31.9q2.2,-4.1,2.9,-8.6M75.4,46.0q3.3,-4.8,4.8,-10.4M18.0,87.6q2.6,-4.2,6.4,-7.5M61.8,16.7q2.7,-4.5,6.9,-7.6M1.1,68.9q0.2,-3.5,-0.4,-6.9M121.7,98.1q6.1,-1.3,12.3,-0.2M114.3,5.8q-1.6,-5.8,-1.3,-11.7M14.6,113.4q-3.9,-1.9,-7.0,-4.8M3.3,149.5q0.5,-6.4,-0.3,-12.8M123.6,23.5q-4.2,-1.5,-8.6,-1.6M144.2,68.3q1.9,-1.3,3.3,-3.0M9.7,64.3q6.0,0.7,11.8,-0.7M-1.8,70.5q-1.4,-2.1,-3.0,-4.1M51.9,28.1q-2.3,-1.9,-3.7,-4.4M134.6,132.2q-1.8,-6.0,-4.4,-11.7M140.3,29.8q-1.1,-2.1,-2.0,-4.3M85.2,69.9q2.3,-5.5,4.3,-11.1M11.5,85.7q-2.8,-1.4,-5.0,-3.8M140.0,23.8q4.0,-1.1,8.2,-1.2M72.5,9.6q-0.4,-3.6,-0.8,-7.3M72.9,2.8q2.9,-3.2,5.9,-6.2M136.4,149.0q4.2,-3.8,7.3,-8.5M130.9,41.0q6.1,-0.5,12.0,-2.0M-0.5,115.6q-2.4,-2.9,-5.4,-5.2M56.9,122.6q-2.5,-0.1,-5.0,-0.6M81.9,111.4q-0.5,-5.7,0.6,-11.3M53.1,5.2q4.4,-1.6,7.8,-4.7M124.1,72.6q1.3,-3.0,2.0,-6.2M105.0,22.1q3.3,-5.6,8.5,-9.5M108.1,70.2q-2.1,-4.9,-3.2,-10.1M56.0,112.2q-2.1,-5.7,-2.9,-11.6M-3.3,140.7q-1.1,-2.2,-2.8,-4.1M97.0,66.4q-3.3,-1.0,-6.8,-1.3M65.6,51.3q-4.3,-2.3,-8.7,-4.3M61.7,47.6q2.7,-5.7,7.0,-10.4M41.4,66.0q-2.5,-0.3,-5.1,-0.4M23.6,10.5q-3.6,-4.7,-7.2,-9.5M125.2,4.4q-0.7,-2.8,-2.4,-5.1M106.2,74.7q-4.9,-0.7,-9.2,-3.1M-10.5,91.5q6.1,-0.8,12.2,-0.3M-2.0,19.3q3.2,-0.6,6.4,-0.5M65.2,71.5q-2.2,-3.1,-3.2,-6.8" stroke="#0c6a1a" stroke-opacity="0.3" stroke-width="2.4" fill="none" stroke-linecap="round"/><path d="M136.4,47.9q-3.1,-1.8,-6.3,-3.2M36.8,13.2q-2.5,-1.4,-5.1,-2.7M125.4,-1.6q3.2,-0.9,6.1,-2.5M65.8,146.3q5.0,-3.7,10.1,-7.2M43.7,6.8q-3.4,-5.5,-6.5,-11.2M109.7,118.5q2.5,-2.9,5.5,-5.3M60.6,118.1q-1.1,-4.7,-3.3,-9.0M61.5,110.3q-2.5,-3.7,-6.2,-6.2M43.8,42.2q0.3,-3.0,-0.1,-6.1M76.9,62.7q2.1,-4.6,3.2,-9.5M119.2,-3.6q-4.9,0.6,-9.8,-0.1M100.8,66.6q2.5,-2.3,4.6,-4.9M18.7,130.9q-1.9,-3.7,-4.6,-6.9M88.8,125.0q-4.1,-3.8,-7.7,-8.0M105.6,39.8q-7.1,-2.1,-14.5,-1.6M123.7,140.5q-3.4,-1.8,-6.9,-3.3M18.7,8.5q-3.5,-2.9,-5.8,-6.8M131.9,94.6q6.1,-2.7,12.8,-3.0M22.0,137.9q1.6,-4.7,4.2,-8.9M130.2,113.0q-7.5,-1.1,-14.3,-4.5M108.9,71.7q0.5,-3.7,2.2,-7.0M105.0,49.0q0.8,-4.9,2.4,-9.6M4.3,144.9q4.3,-3.3,7.0,-7.9M22.3,9.2q6.0,-2.3,11.3,-5.9M9.8,116.2q-3.9,-2.9,-8.0,-5.4M44.6,-1.8q1.8,-2.1,4.3,-3.4M33.1,115.3q6.4,-3.6,11.1,-9.4M97.1,101.9q-5.3,-1.9,-10.7,-3.1M133.2,44.3q6.3,-1.6,11.6,-5.3M87.1,132.5q2.9,-4.8,5.1,-9.9M61.5,104.8q2.3,-2.2,4.8,-4.1M-1.1,103.5q-2.2,-5.0,-5.6,-9.3M23.2,21.6q5.6,-2.9,11.9,-3.5M51.9,75.6q-3.7,-4.6,-8.3,-8.3M110.4,101.9q2.2,-2.0,4.0,-4.3M38.4,112.1q-0.8,-7.4,-0.3,-14.7M-0.3,35.4q5.7,-1.9,11.7,-1.7M104.1,3.9q1.8,-4.8,3.5,-9.5M94.5,141.0q-1.1,-3.4,-2.4,-6.7M92.9,75.6q6.4,-1.5,13.0,-2.3M147.2,92.3q-2.2,-3.6,-5.4,-6.4M138.4,60.3q2.3,-3.4,5.2,-6.3M145.1,77.7q-2.9,-1.6,-5.4,-3.7M46.3,20.8q-2.0,-4.4,-4.5,-8.5M92.8,137.1q-0.0,-7.4,2.2,-14.4M119.5,39.3q4.9,-2.5,10.0,-4.8M144.5,32.3q-4.3,-1.6,-8.1,-4.1M74.5,40.2q4.0,-1.0,7.5,-3.1M39.7,94.8q-3.4,-5.3,-8.2,-9.5M108.0,31.1q-2.6,-0.2,-5.0,-0.8M4.2,16.6q0.8,-4.3,3.1,-8.0M103.8,14.1q4.6,-0.2,9.2,-0.8M25.9,100.7q-0.9,-5.0,-2.2,-9.9M64.1,95.1q3.4,-1.0,6.8,-0.8M22.4,7.7q-3.7,-3.7,-6.4,-8.2M50.9,144.7q3.6,-1.5,7.5,-2.3M12.4,142.3q1.3,-3.8,2.3,-7.6M43.9,21.8q-4.0,-0.3,-7.7,-1.9M117.5,97.0q-2.5,-7.1,-4.2,-14.4M79.6,24.3q0.4,-3.1,-0.2,-6.3M58.6,15.8q3.1,-6.3,8.4,-10.9M113.4,92.6q-2.3,-3.0,-5.2,-5.5M131.0,36.8q2.4,-2.3,4.4,-5.0M38.3,59.0q-0.7,-6.2,-2.8,-12.0M24.8,136.0q4.1,-5.5,8.1,-11.1M3.9,137.7q6.1,-1.4,12.1,-3.5M94.2,121.5q-1.3,-3.2,-2.8,-6.4M137.6,7.7q-2.4,-6.6,-4.7,-13.2M147.6,18.7q-6.5,-2.6,-12.5,-6.2M32.8,82.7q-5.2,-0.6,-10.1,-2.2M119.6,66.3q-2.6,-3.7,-5.9,-7.0M16.1,37.2q1.6,-4.8,2.0,-9.8M123.3,61.8q3.3,-4.1,7.3,-7.4M56.0,103.5q0.3,-3.3,-0.4,-6.5M28.0,48.7q2.3,-1.6,4.4,-3.5M126.2,46.0q-6.6,-0.9,-13.0,-2.6M39.6,122.4q4.4,-2.4,8.8,-4.9M9.9,6.8q2.1,-4.2,3.4,-8.7M63.4,134.0q5.9,-1.6,12.0,-1.6M123.7,141.3q3.3,-3.9,7.0,-7.3M9.1,26.6q-4.6,-6.1,-6.6,-13.5M33.8,63.9q-3.4,-0.7,-6.9,-0.4M25.1,136.9q-1.3,-7.1,-0.4,-14.3M68.4,20.2q2.6,-0.6,5.2,-0.3M65.5,73.2q6.3,-1.8,12.9,-2.1M27.8,30.7q3.6,-1.4,7.4,-1.5M43.9,49.2q-5.2,-0.6,-10.1,-2.2M61.4,77.2q-2.3,-6.8,-7.0,-12.3M138.4,28.6q-3.4,-2.3,-6.8,-4.6M96.6,23.8q2.3,-1.2,5.0,-1.5M49.2,55.0q3.7,-4.6,7.9,-8.8M14.7,28.3q1.3,-7.3,2.2,-14.7M100.7,83.1q5.5,-0.7,11.1,-0.7M5.6,5.3q-2.5,-5.8,-6.8,-10.6M24.2,7.6q4.3,-5.5,6.3,-12.1M73.9,115.5q-0.8,-4.1,-0.7,-8.3M40.3,130.1q3.5,-1.2,7.3,-1.0M123.9,91.1q-1.9,-4.6,-3.3,-9.3M79.1,145.4q-4.8,-5.4,-7.2,-12.2M126.3,31.8q-2.5,-1.7,-4.2,-4.2M94.9,70.7q0.3,-3.9,1.6,-7.6M39.9,80.7q-4.4,-5.4,-8.2,-11.2M65.5,131.4q3.8,-3.5,6.8,-7.7M66.5,10.4q4.3,0.2,8.4,-1.0M128.6,17.2q2.9,-0.4,5.6,-1.5M0.3,50.7q-0.5,-7.0,-1.6,-13.9M144.4,116.2q0.8,-6.0,0.4,-12.0M0.9,4.8q3.6,-0.6,6.6,-2.5M120.6,119.3q3.0,-1.3,5.6,-3.2M93.5,78.4q0.2,-3.7,0.5,-7.3M57.5,2.1q-3.6,-6.6,-6.6,-13.4M28.9,60.7q-0.7,-2.4,-1.9,-4.7M26.4,71.6q3.4,-0.8,6.8,-1.4M112.3,84.4q-2.4,-5.4,-4.1,-11.1M70.4,102.3q-2.7,-1.0,-4.9,-2.8M55.3,48.0q-3.0,-0.3,-6.0,-0.3M40.5,140.3q-3.7,-6.3,-9.4,-11.0M92.1,35.4q-1.7,-3.7,-4.2,-7.0M87.5,66.6q-1.5,-3.6,-3.4,-7.0M108.9,101.5q-6.5,0.2,-13.0,-0.0M142.5,104.0q-5.9,-3.3,-12.6,-4.4M75.0,37.0q0.8,-6.9,3.2,-13.4M129.4,40.0q1.2,-3.3,2.9,-6.2M85.2,69.4q-3.7,-0.5,-7.2,-2.2M31.4,74.2q6.9,-2.5,12.4,-7.5M57.5,139.7q2.4,-1.1,5.0,-1.8M85.3,116.6q4.3,-4.7,9.4,-8.6M45.5,91.8q2.1,-1.3,4.4,-2.5M91.8,101.6q-4.5,-2.3,-7.9,-6.1M134.0,131.5q3.8,-4.2,7.8,-8.2M132.5,117.8q-1.5,-2.7,-2.7,-5.6M53.6,66.9q-1.0,-3.7,-2.4,-7.3M77.5,133.0q4.4,-2.5,8.8,-4.8M22.6,80.0q-2.3,-1.4,-4.8,-2.3M50.4,135.6q-4.9,-4.3,-8.9,-9.5M62.1,33.2q2.6,-2.8,4.8,-5.8M128.4,87.9q6.2,-1.2,12.2,-3.3M16.9,54.8q-0.5,-7.1,-0.1,-14.3M9.6,71.5q-0.8,-6.1,0.3,-12.2M101.0,107.7q-5.9,0.4,-11.6,-1.0M-3.3,18.5q1.4,-2.2,3.1,-4.2M105.7,146.4q-3.5,-4.7,-7.9,-8.6M91.8,97.3q2.3,-2.1,3.8,-4.7M101.5,8.1q-6.7,-2.0,-13.0,-5.0M1.4,132.0q4.4,-5.2,9.2,-10.0M37.9,121.8q0.9,-3.3,2.6,-6.1M81.4,94.5q-2.2,-2.1,-4.0,-4.5M34.9,142.7q3.6,-4.6,7.6,-8.9M54.5,141.0q4.4,-3.0,8.2,-6.8M54.9,12.4q-4.1,-4.9,-9.2,-8.6M115.0,119.6q0.1,-5.1,-1.1,-10.0M-4.4,11.6q0.3,-3.6,0.6,-7.3M72.1,52.5q5.7,-3.8,10.7,-8.5M70.0,60.4q-4.5,-1.1,-9.1,-1.0M93.5,29.9q-0.1,-2.9,0.8,-5.6M93.1,18.8q2.6,-3.3,3.9,-7.3M144.5,146.3q-5.3,-2.2,-11.0,-2.4M58.4,13.9q1.4,-3.0,3.1,-5.7M110.7,56.9q-5.6,-1.4,-10.9,-3.6M110.2,5.9q-4.2,-1.9,-8.7,-3.2M-6.0,57.8q4.9,-0.8,9.4,-2.7M-4.9,110.5q4.2,-1.9,8.3,-4.3M24.5,39.9q4.8,-1.4,9.8,-2.0M94.5,79.6q4.8,-1.0,9.4,-2.6M139.0,73.9q0.4,-6.9,3.3,-13.1M45.9,90.4q5.5,-1.1,11.1,-1.6M143.1,8.2q1.8,-3.5,4.8,-6.1M85.0,20.6q2.1,-3.5,3.8,-7.3M92.3,29.0q1.4,-5.1,4.0,-9.8M25.0,18.8q-2.5,-3.3,-5.9,-5.7M27.8,51.8q-4.0,-1.9,-8.2,-3.2M22.4,56.0q2.2,-3.0,4.7,-5.9M138.1,65.5q3.8,-1.2,7.7,-1.7M30.4,97.8q6.6,-1.4,13.2,-2.6M116.7,118.2q4.0,-4.9,8.7,-9.0M113.8,4.0q-2.8,-6.4,-7.5,-11.7M117.5,148.6q-5.6,-3.8,-9.5,-9.3M48.1,84.4q2.2,-1.8,4.7,-3.0M88.0,27.0q-4.0,-2.1,-7.7,-4.7M17.1,111.0q-2.3,-4.2,-4.1,-8.8M4.4,64.9q-2.3,-5.0,-3.1,-10.3M121.8,150.3q2.7,-5.9,6.6,-11.0M44.8,9.2q-4.3,-1.9,-9.0,-2.3M27.4,27.8q-5.2,-1.4,-10.5,-2.5M1.7,72.1q-3.2,-0.3,-6.2,-1.2M80.6,66.7q0.3,-2.8,0.7,-5.6M94.2,149.6q-1.3,-6.3,-0.7,-12.7M77.6,117.5q-3.0,-4.6,-6.0,-9.3M35.7,99.9q-4.3,-2.7,-8.6,-5.3M103.0,111.7q-4.6,-4.9,-8.7,-10.3M16.3,120.0q-0.1,-5.5,-1.7,-10.8M53.8,48.6q5.0,-2.0,9.9,-4.5M50.1,45.6q-2.7,-2.1,-5.8,-3.4M58.4,119.2q-5.7,0.3,-11.3,-0.7M116.3,42.6q2.4,-2.9,5.3,-5.3M134.0,68.1q-0.1,-6.5,1.5,-12.9M17.9,105.0q6.8,-1.9,13.6,-4.2M-3.3,42.2q3.0,-5.2,7.4,-9.2M120.8,130.4q-6.1,0.2,-12.2,-0.5M-0.9,137.2q0.0,-2.9,0.8,-5.7M134.9,136.9q4.9,-0.6,9.7,-1.9M23.1,64.7q-2.6,-2.3,-5.6,-4.1M55.0,24.3q-2.4,-1.6,-4.0,-4.0M15.7,139.6q-2.3,-5.0,-5.5,-9.4M76.9,138.0q6.5,-2.0,12.8,-4.7M76.1,16.6q-5.6,-3.7,-11.1,-7.6M87.2,37.5q4.8,0.5,9.4,-0.8M12.4,85.7q1.6,-6.9,5.3,-13.1M8.6,-1.5q0.6,-3.3,0.3,-6.7M138.7,137.0q-5.3,-5.0,-10.1,-10.4M135.7,60.4q-5.1,-3.9,-9.5,-8.6M112.6,117.7q-2.5,-5.7,-3.2,-11.9M73.9,61.2q-5.1,-1.0,-10.3,-0.6M41.0,127.9q-4.7,-3.7,-10.2,-6.0M117.2,98.6q1.5,-3.4,4.2,-6.0M66.7,53.9q4.0,-6.2,9.5,-11.1M68.7,68.2q-3.4,-1.0,-7.0,-1.3M15.9,38.4q-2.2,-2.9,-4.5,-5.8M137.6,6.2q1.6,-5.0,4.3,-9.5M109.1,60.0q-1.4,-4.3,-2.5,-8.7M92.8,62.4q2.3,-1.7,4.5,-3.6M70.3,83.1q-5.1,-4.7,-8.4,-10.8M33.8,105.6q-3.3,0.0,-6.3,-1.1M123.6,49.5q2.6,-2.3,5.7,-3.6M19.8,73.6q-2.3,-3.7,-3.7,-7.8M1.5,41.6q-1.5,-7.4,-4.9,-14.1M102.0,18.9q0.1,-6.0,2.4,-11.7M28.3,74.9q-5.6,-1.2,-11.0,-3.0M71.5,28.4q-5.5,-2.7,-11.5,-4.1M110.8,139.0q-2.3,-6.5,-4.6,-13.1M131.6,23.3q-3.9,-6.3,-9.0,-11.7M3.4,77.0q-0.5,-5.8,-0.8,-11.6M76.3,85.5q2.2,-5.3,5.0,-10.4M30.5,117.5q-1.6,-5.1,-4.7,-9.5M107.4,6.2q5.5,-1.5,11.0,-3.3M62.6,96.8q-3.4,0.5,-6.8,-0.0M117.6,64.4q7.4,-1.2,14.6,-3.4M61.3,119.8q5.5,0.1,10.8,-1.2M94.3,88.3q-1.7,-3.2,-3.6,-6.3M49.4,61.3q-0.9,-4.6,-1.0,-9.4M83.9,84.2q1.3,-5.2,1.1,-10.6M79.3,-0.3q1.1,-3.6,3.4,-6.6M121.4,84.7q1.0,-6.8,1.5,-13.6M119.8,125.7q2.6,-0.8,5.3,-0.7M47.2,131.3q6.5,-2.7,13.4,-3.9M11.1,117.1q-5.6,-1.4,-11.1,-2.9M55.2,10.1q-1.4,-4.7,-2.0,-9.6M70.8,79.9q-1.7,-1.8,-3.2,-3.8M47.2,105.7q3.7,-3.5,6.5,-7.7M15.9,87.7q-5.6,-1.2,-11.1,-2.9M96.2,58.4q-6.1,-0.4,-12.2,-0.3M5.9,84.1q-4.2,-0.6,-8.4,-0.3M38.8,29.7q4.7,-4.1,9.5,-8.1M55.2,142.7q0.8,-4.9,0.4,-9.7M98.7,56.9q-3.2,-0.1,-6.3,-1.2M19.2,147.8q1.7,-4.3,3.1,-8.7M24.9,40.9q-1.4,-3.9,-2.5,-7.8M90.4,14.6q-3.0,-6.7,-5.3,-13.7M114.3,62.6q-5.7,-2.2,-11.7,-2.6M9.0,55.0q0.4,-3.4,-0.4,-6.8M13.5,106.8q5.0,-4.9,8.5,-11.0M39.9,68.5q-4.1,-5.2,-8.2,-10.4M20.3,91.2q-1.4,-3.2,-2.1,-6.7M-0.5,107.6q4.9,-2.0,9.3,-4.9M-8.2,142.9q6.3,-2.4,12.6,-4.7M132.6,145.8q4.9,-4.6,10.7,-8.3M125.6,101.4q6.1,-4.4,11.1,-10.1M124.5,12.6q-6.3,-2.6,-12.7,-5.2M63.7,131.1q2.4,-4.1,4.7,-8.3M146.6,25.6q-2.5,-2.2,-5.0,-4.6M69.6,59.2q-1.8,-3.8,-3.3,-7.8M75.8,20.6q3.4,-5.4,7.5,-10.3M-1.1,124.6q2.2,-6.9,5.7,-13.3M30.2,86.6q-0.9,-2.5,-1.6,-5.0M43.0,31.0q-5.5,-1.5,-10.4,-4.5M94.6,50.0q1.7,-5.0,3.3,-10.0M18.1,93.1q-3.1,-4.6,-6.8,-8.7M-0.2,24.4q-2.3,-3.0,-5.3,-5.4M77.9,119.1q0.3,-2.7,0.5,-5.5M45.0,67.6q-3.1,-6.1,-4.3,-12.7M107.2,122.3q-4.4,-5.4,-8.5,-11.2M39.8,41.6q-0.2,-4.2,0.1,-8.3M2.9,85.9q2.8,-5.9,6.4,-11.3M75.6,131.3q3.4,-2.1,7.4,-2.8M120.9,54.3q-3.8,-0.1,-7.6,-0.4M6.0,98.4q7.4,-0.9,14.9,-1.0M77.6,86.5q-6.3,-0.4,-12.6,-0.3M91.3,139.3q-7.0,-0.1,-14.0,-0.2M16.9,64.8q-3.6,-4.2,-5.8,-9.2M21.1,55.1q-2.6,-1.2,-5.2,-2.5M92.2,68.3q-3.9,-1.0,-7.4,-3.0M114.6,32.0q-3.6,-3.4,-6.8,-7.1M127.1,98.1q-0.4,-5.6,0.4,-11.2M111.2,28.1q2.1,-4.5,2.8,-9.4M112.8,96.0q-2.8,-2.9,-6.5,-4.6M120.1,19.5q-2.9,-0.8,-5.6,-2.1M117.3,74.5q2.5,-6.0,3.9,-12.3M58.9,4.0q4.6,-4.0,10.1,-6.7M148.7,130.2q-3.8,-0.8,-7.3,-2.6M127.2,75.0q6.6,-0.2,13.1,-1.2M123.9,13.1q1.6,-2.8,3.8,-5.2M80.5,9.3q1.2,-3.7,2.7,-7.2M116.6,24.3q0.4,-3.2,0.2,-6.3M59.9,40.9q2.0,-1.8,3.9,-3.5M125.1,105.9q1.8,-3.1,4.5,-5.5M77.5,108.9q2.7,-5.4,6.5,-10.1M78.4,0.2q4.0,-1.3,8.3,-1.2M97.0,135.8q3.7,-4.8,8.7,-8.2M57.6,96.4q0.6,-5.4,0.9,-10.9M99.6,102.3q2.9,-5.4,4.3,-11.3M42.3,115.2q0.2,-7.3,2.6,-14.2M83.5,39.2q1.6,-2.6,3.4,-5.1M2.6,130.5q-0.6,-2.5,-1.7,-4.7M106.0,50.8q1.3,-6.1,1.4,-12.4M71.5,37.0q-1.4,-3.8,-3.2,-7.4M136.9,45.3q2.5,-0.3,5.0,-0.5M80.6,97.8q5.4,-1.3,10.9,-0.7M132.1,15.1q-1.6,-4.9,-1.6,-10.1M50.3,43.9q4.4,-3.7,9.6,-5.8M55.1,83.3q2.5,-4.4,5.5,-8.5M21.1,117.3q5.0,-2.1,9.0,-5.6M92.8,129.6q6.6,-1.2,13.2,-2.0M130.5,120.4q2.5,-6.5,3.8,-13.3M74.8,93.5q2.1,-4.4,3.9,-8.8M137.9,103.1q6.7,-2.7,13.6,-4.8M55.2,140.7q-4.6,-1.4,-9.5,-1.8M65.4,-2.0q3.8,-2.7,7.7,-5.3M137.4,118.9q2.2,-3.5,4.2,-7.2M62.1,123.9q-1.8,-6.5,-5.4,-12.2M6.7,102.3q-1.0,-6.5,0.2,-13.0" stroke="#107a20" stroke-opacity="0.32" stroke-width="2.2" fill="none" stroke-linecap="round"/></g><g filter="url(#bl)"><path d="M69.2,100.8q-1.6,-5.2,-3.8,-10.1M29.2,89.4q0.2,-3.0,-0.7,-5.8M73.3,68.4q-2.9,-2.2,-5.0,-5.3M50.6,104.8q-1.0,-3.5,-0.9,-7.2M140.9,2.6q-1.8,-4.7,-2.5,-9.7M48.5,5.4q-1.0,-4.3,-0.6,-8.6M117.1,140.5q-2.0,-5.0,-4.6,-9.7M41.4,99.3q1.2,-2.9,2.4,-5.9M114.4,90.1q-4.5,-3.4,-9.5,-5.9M110.6,82.2q0.9,-1.8,1.5,-3.7M28.1,97.3q-3.0,-0.3,-6.0,-0.0M106.3,32.0q5.6,-1.0,11.3,-2.0M32.9,41.7q-1.3,-5.0,-4.0,-9.4M9.1,21.1q4.6,-3.3,7.9,-7.9M98.0,1.7q-3.1,-1.3,-6.4,-2.3M85.6,22.6q2.0,-2.7,4.5,-4.9M78.3,127.0q-3.4,-3.8,-6.3,-8.0M102.5,-1.3q2.0,-1.1,3.7,-2.6M124.4,88.5q-1.9,-0.9,-3.9,-1.5M97.4,113.2q0.2,-3.7,-0.0,-7.4M-3.1,100.2q2.2,-4.3,4.5,-8.6M81.0,91.4q-3.9,-2.9,-7.7,-6.0M56.6,88.3q-1.6,-3.9,-2.2,-8.1M97.6,84.4q0.9,-2.0,2.3,-3.8M63.9,0.3q-2.2,-1.2,-4.4,-2.3M117.7,53.7q-3.7,-3.6,-7.5,-7.0M114.6,12.5q-0.8,-2.8,-1.8,-5.6M41.4,47.3q-1.9,-2.8,-3.3,-5.9M43.7,0.0q-2.9,-3.2,-6.6,-5.3M142.5,118.3q2.2,-0.9,4.0,-2.6M20.1,147.7q-0.1,-3.5,-0.7,-7.0M15.1,-0.5q-3.0,-1.5,-5.3,-3.9M117.7,127.3q-2.8,-2.0,-4.8,-4.7M27.8,146.3q4.3,-4.1,8.8,-7.8M104.3,114.4q-0.1,-3.7,0.6,-7.2M54.2,41.7q3.0,-5.4,6.2,-10.5M39.5,17.1q2.9,-2.0,5.5,-4.4M68.0,115.2q0.5,-4.4,1.4,-8.6M39.8,33.8q-3.7,-1.9,-7.2,-4.2M15.6,42.4q5.1,-2.1,9.8,-4.8M117.0,101.7q2.4,-2.5,5.0,-4.9M0.4,104.2q0.8,-3.2,2.1,-6.1M89.7,68.9q-3.4,-4.9,-8.2,-8.5M39.8,32.0q0.8,-4.3,0.0,-8.6M112.2,0.1q-1.4,-2.2,-2.5,-4.5M17.0,75.4q4.9,-2.5,10.4,-3.1M12.4,52.3q0.2,-4.0,-0.3,-8.0M144.5,125.0q-2.1,-2.9,-4.7,-5.4M70.3,56.4q2.6,-2.3,4.7,-4.9M44.8,117.2q1.8,-3.1,3.4,-6.3M22.8,45.0q-3.0,-1.9,-5.5,-4.4M33.9,9.8q2.8,-0.1,5.5,-0.4M106.1,15.0q-2.3,-1.5,-4.9,-2.6M46.5,42.9q1.6,-2.5,3.4,-4.9M22.1,140.7q-2.3,-2.1,-4.3,-4.4M110.8,57.8q-2.0,-1.3,-4.4,-1.8M147.1,79.1q-1.5,-2.4,-3.2,-4.7M6.5,146.6q-5.0,-1.4,-10.0,-2.9M133.1,21.3q-0.4,-5.6,-1.7,-11.1M95.9,58.2q4.0,-2.8,8.7,-4.2M112.2,31.2q0.8,-3.5,1.3,-7.1M118.2,131.6q-2.1,-2.6,-4.7,-4.7M19.9,121.2q-3.8,-0.8,-7.4,-2.1M62.9,126.4q-1.3,-4.3,-1.0,-8.7M91.6,77.4q2.7,-1.9,4.8,-4.5M41.3,92.3q-2.5,-2.4,-5.1,-4.5M102.8,101.3q-4.8,-3.9,-8.8,-8.7M58.7,122.0q0.0,-2.4,-0.4,-4.8M120.7,16.1q0.4,-3.1,1.5,-6.1M87.3,61.4q-0.7,-3.3,-2.6,-6.1M143.4,107.2q-1.9,-4.2,-5.2,-7.3M25.3,8.1q1.5,-4.9,2.2,-9.9M2.6,75.0q0.6,-3.3,1.4,-6.5M40.5,98.0q-4.8,-0.8,-9.7,-0.2M8.2,131.3q-3.5,-1.0,-6.9,-2.4M50.1,64.6q6.1,-1.8,12.4,-2.3M131.9,7.0q-4.8,-2.7,-8.8,-6.5M87.5,123.3q-2.5,-5.8,-6.6,-10.8M84.7,135.5q-0.7,-3.7,-2.4,-7.2M40.0,69.8q4.2,-2.1,8.0,-4.6M62.0,129.5q-5.1,0.0,-10.0,-1.2M87.9,69.3q2.3,-1.0,4.7,-1.8M125.9,26.3q-1.8,-1.6,-3.8,-2.8M105.8,39.6q-3.1,-0.1,-6.2,-0.5M124.9,64.3q4.9,-1.0,9.4,-3.1M63.1,102.1q-4.5,-2.2,-8.0,-5.7M83.4,74.3q2.4,-2.1,4.3,-4.8M119.6,119.2q-3.7,-0.7,-7.2,-1.8M88.5,109.1q4.9,-2.6,9.2,-6.2M19.8,96.8q-3.2,-0.6,-6.4,-0.8M0.3,20.7q0.2,-6.4,1.2,-12.7M137.8,78.3q-3.0,-3.4,-6.9,-5.6M128.0,108.5q-0.4,-4.3,-0.8,-8.6M23.8,87.0q3.7,-1.0,6.8,-3.3M7.0,34.2q0.5,-3.2,1.7,-6.3M-2.0,53.1q4.7,-0.3,9.3,-1.5M133.7,129.4q2.6,-3.8,5.9,-7.1M62.3,23.3q-1.7,-2.6,-3.4,-5.2M8.7,47.8q1.0,-4.9,3.8,-9.1M95.1,-3.7q-4.7,-0.1,-9.3,-0.9M147.2,85.9q-3.0,-1.1,-6.2,-1.8M125.2,139.9q1.6,-2.1,3.0,-4.3M46.1,30.8q2.6,-2.7,5.1,-5.5M62.1,64.5q4.3,-3.6,7.6,-8.0M131.8,27.0q-3.1,-2.8,-6.5,-5.3M21.6,25.2q-1.4,-2.3,-2.7,-4.7M102.1,118.1q-4.3,-0.7,-8.7,-1.4M139.2,15.1q2.0,-0.8,3.9,-1.9M107.2,76.0q-2.7,-1.2,-5.6,-1.4M43.2,5.1q-3.3,-1.4,-6.5,-2.9M117.4,113.9q1.3,-5.6,4.0,-10.7M60.2,33.2q-0.5,-3.2,-1.0,-6.3M4.8,8.6q0.5,-3.4,2.0,-6.5M61.3,41.0q-0.4,-2.7,-1.2,-5.3M126.1,20.1q-3.3,-2.2,-6.8,-4.0M61.9,31.2q0.5,-4.2,-0.5,-8.3M91.1,26.5q1.7,-2.9,4.4,-4.9M-1.6,1.1q-1.5,-3.2,-3.6,-6.0M72.6,118.4q-3.2,-4.0,-6.3,-8.1M71.2,18.5q-5.2,-0.4,-10.5,-0.8M26.4,97.3q5.6,-0.8,10.9,-2.7M20.2,64.4q-6.4,1.0,-12.8,-0.2M140.0,106.8q-4.8,-2.8,-9.4,-6.0M73.2,129.7q-2.5,-4.4,-3.1,-9.4M99.3,12.4q-4.5,-2.9,-7.7,-7.1M138.9,86.0q-4.7,-0.9,-9.3,-2.2M104.7,81.2q6.0,-0.3,12.0,-0.6M131.9,70.5q-1.3,-2.6,-3.2,-4.8M80.1,90.3q-0.3,-3.6,-1.5,-7.0M78.0,135.5q-3.0,-4.8,-4.3,-10.2M113.3,6.9q1.1,-3.0,2.0,-6.0M0.7,55.3q-3.6,-5.4,-5.5,-11.6M98.7,96.0q1.2,-4.8,1.3,-9.7M76.7,64.6q-1.0,-5.8,-1.2,-11.7M100.0,47.3q-3.2,-1.9,-6.8,-2.8M14.6,3.8q1.4,-5.1,2.2,-10.3M144.1,112.4q0.2,-3.6,1.3,-7.0M56.2,75.7q-4.0,-0.5,-7.7,-2.1M34.1,52.8q3.2,-1.7,6.5,-3.2M28.2,12.4q1.4,-1.9,3.0,-3.5M56.8,144.5q1.0,-2.0,2.4,-3.9M55.9,63.9q0.6,-4.9,2.2,-9.6M79.2,46.8q-1.1,-4.9,-3.6,-9.2M128.6,115.8q2.8,-2.8,5.9,-5.4M7.9,113.1q-3.4,0.0,-6.6,-1.0M43.5,138.9q-0.9,-1.9,-2.4,-3.2M88.5,60.0q0.7,-5.6,1.2,-11.3M7.0,101.7q5.2,-1.9,10.2,-4.2M105.2,95.1q-1.3,-6.2,-4.6,-11.7M90.2,107.7q3.1,-0.2,6.2,-0.6M4.1,109.3q1.0,-2.8,1.0,-5.7M18.7,121.3q-5.2,-0.7,-10.5,-1.2M139.3,31.6q5.8,-0.7,11.6,-1.1M137.0,59.8q1.3,-2.7,2.6,-5.5M122.2,47.3q-2.7,-2.5,-5.5,-4.9M113.7,102.1q-4.2,-2.9,-9.1,-4.0M6.8,133.6q2.5,-6.0,6.5,-11.1M78.6,96.8q2.6,-4.7,6.8,-8.0M97.6,125.8q-4.1,-0.4,-7.9,-2.1M127.5,78.2q2.2,-3.7,4.5,-7.4M73.1,141.4q2.6,-0.0,5.0,-1.1M106.4,68.7q1.1,-3.2,0.9,-6.7M26.0,118.5q1.0,-2.6,1.2,-5.3M5.9,125.9q-0.5,-2.4,-0.5,-4.8M0.1,23.7q3.9,-0.7,7.5,-2.1M27.6,23.6q3.1,-2.4,5.6,-5.4M21.7,27.9q0.5,-3.0,0.9,-6.0M97.4,42.0q-4.1,0.3,-8.0,-0.7M91.2,60.4q5.5,-0.9,11.0,-0.0M28.6,115.2q3.2,-0.8,6.4,-2.1M3.9,129.2q-5.6,-0.9,-10.9,-2.8M85.5,11.4q1.6,-5.7,1.5,-11.6M117.8,13.2q-4.9,-0.9,-9.7,-2.3M141.7,66.2q-4.4,-4.0,-9.8,-6.5M70.4,12.5q1.3,-3.3,3.5,-6.1M17.5,55.0q6.0,-1.6,11.4,-4.5M74.5,9.6q-0.4,-6.3,1.6,-12.2M5.9,33.4q2.9,0.3,5.7,-0.4M21.1,73.2q-3.3,-2.0,-6.6,-4.0M3.3,119.7q4.1,-4.4,6.9,-9.8M113.3,76.7q2.0,-1.0,4.2,-1.4M31.1,122.8q-3.1,0.2,-6.3,-0.1M66.7,79.3q4.7,-3.8,10.3,-6.3M103.0,136.1q-2.5,-0.7,-5.1,-1.1M89.5,136.2q2.4,-0.8,4.8,-0.7M68.8,101.4q5.2,-2.5,10.8,-3.6M90.4,11.1q-0.0,-4.5,-1.8,-8.6M101.2,132.9q4.2,-1.1,8.5,-0.6M126.7,105.8q-0.2,-3.9,-1.2,-7.7M11.0,137.9q-1.5,-2.4,-3.7,-4.3M94.4,134.4q1.6,-2.0,2.8,-4.3M111.2,116.8q2.5,-5.9,3.4,-12.2M82.6,30.5q-0.7,-2.1,-1.6,-4.3M137.8,13.2q-5.8,-2.4,-10.6,-6.7M44.6,67.2q-2.8,-0.5,-5.6,-0.6M110.6,36.8q3.5,-1.3,6.4,-3.5M104.8,89.2q-3.5,-3.2,-7.4,-5.8M53.8,33.1q-0.0,-5.9,2.2,-11.5M138.2,91.0q-3.2,-4.2,-7.1,-7.7M33.3,0.0q0.6,-4.0,2.1,-7.7M77.8,15.9q0.3,-2.6,0.9,-5.1M129.4,43.9q-4.0,-1.1,-8.2,-1.2M39.8,108.1q0.7,-2.5,1.3,-5.0M44.1,144.1q2.2,-3.4,4.4,-6.8M90.7,85.8q-3.8,-1.3,-7.7,-2.0M75.4,21.1q-0.8,-2.8,-2.2,-5.4M1.2,142.8q1.2,-5.8,2.9,-11.5M34.2,49.8q0.0,-3.6,-1.2,-6.9M-7.4,61.0q4.6,-2.4,8.2,-6.0M82.7,25.7q-5.0,-3.8,-10.0,-7.5M44.0,42.1q-0.2,-4.9,-1.9,-9.5M46.9,-2.5q-2.5,-1.1,-4.9,-2.3M8.8,79.5q4.7,-2.6,9.8,-4.0M33.4,64.1q-1.9,-4.1,-2.1,-8.6M110.4,48.0q-5.8,-2.4,-12.0,-3.2M19.0,37.9q5.7,-2.4,10.7,-6.2M66.3,35.0q0.0,-2.1,0.6,-4.2M140.6,4.2q1.2,-2.5,2.9,-4.6M52.6,131.8q-4.3,-2.9,-9.0,-5.1M33.1,9.5q-0.2,-2.8,-0.0,-5.5M23.5,113.3q0.3,-2.8,0.0,-5.5M49.0,8.6q5.1,-2.3,10.1,-4.8M71.2,62.5q0.6,-2.7,0.4,-5.5M131.6,59.0q-1.8,-3.6,-3.1,-7.4M43.2,80.8q-4.2,-0.3,-8.3,-1.0M58.0,108.1q3.6,-4.4,7.1,-9.0M135.0,5.7q4.1,-3.2,8.7,-5.7M140.6,12.5q-6.3,-1.3,-12.6,-0.5M131.5,142.4q-1.8,-1.5,-3.4,-3.1M25.3,126.6q0.9,-2.6,1.5,-5.3M48.3,55.4q-3.4,-5.0,-8.2,-8.5M116.6,19.9q0.2,-2.8,-0.1,-5.6M-2.9,36.7q0.3,-2.3,1.5,-4.3M113.3,146.2q-2.6,-1.6,-5.3,-2.9M107.1,5.2q1.7,-1.9,2.6,-4.3M121.7,69.1q-1.3,-2.2,-2.8,-4.1M127.3,118.9q-0.1,-2.5,0.7,-4.9M26.7,47.7q-1.4,-3.4,-3.3,-6.6M104.5,115.4q6.0,-0.7,12.0,-0.3M138.2,129.6q1.8,-1.3,3.5,-2.7M131.7,48.1q-0.8,-3.7,-2.3,-7.2M123.2,56.3q5.2,-3.1,10.0,-6.8M40.5,125.0q2.7,-2.5,4.6,-5.6M98.5,25.2q-0.6,-5.1,-1.0,-10.1M117.4,58.8q3.0,-1.3,5.3,-3.5M99.0,74.4q-1.6,-4.3,-2.3,-8.8M65.6,82.6q1.0,-3.6,1.3,-7.2M37.1,139.9q2.7,-1.4,5.6,-2.0M123.1,126.2q6.2,-1.6,11.9,-4.5M24.9,143.7q2.3,-2.9,3.6,-6.4M94.7,81.8q-1.4,-6.2,-2.5,-12.5M46.1,62.4q2.2,-0.9,4.3,-2.1M52.2,143.9q-3.3,-4.3,-6.9,-8.3M105.4,16.6q-3.1,-0.9,-5.7,-2.8M82.4,117.4q-5.2,-4.0,-8.9,-9.4M-2.6,91.9q5.1,-2.5,10.7,-3.9M133.8,37.4q-2.4,-1.0,-4.2,-2.8M15.4,59.2q-3.7,-4.8,-7.0,-10.0M84.0,148.7q2.0,-4.3,3.6,-8.7M122.8,-0.1q0.5,-4.0,-0.6,-7.9M128.3,38.3q-1.4,-4.4,-1.7,-8.9M46.0,131.0q-1.5,-1.8,-3.5,-3.0M77.9,114.7q2.0,-0.9,4.1,-1.1M104.9,106.2q-1.3,-4.8,-3.1,-9.5M122.4,85.4q-2.1,-0.7,-4.2,-1.1M22.7,35.4q-0.1,-4.9,1.2,-9.6M126.2,30.5q-1.1,-1.9,-1.6,-4.0M133.4,97.5q2.9,-1.1,5.4,-2.8M63.0,74.1q5.4,-1.1,10.2,-3.8M42.0,33.2q0.8,-5.7,3.0,-11.0M64.3,48.3q2.8,-3.2,6.4,-5.5M-2.2,43.9q5.7,-1.1,11.1,-3.3M11.3,29.4q-0.4,-2.1,-0.6,-4.2M65.5,131.0q-3.4,-0.9,-6.8,-0.8M62.4,27.3q5.5,0.3,10.7,-1.5M36.2,88.9q1.3,-4.2,2.7,-8.4M35.5,137.4q3.8,-5.2,8.3,-9.9M133.3,112.8q1.9,-2.6,4.0,-5.1M55.9,99.2q-3.0,-1.1,-6.3,-1.4M104.4,56.2q1.0,-4.5,0.3,-9.1M136.4,18.7q3.6,-1.9,7.4,-3.3M33.9,146.6q2.0,-4.5,5.5,-7.9M97.5,42.5q-2.7,-4.6,-5.2,-9.2M33.9,31.9q-0.6,-5.6,-0.2,-11.2M108.5,48.5q0.6,-4.3,-0.2,-8.5M87.4,98.9q-1.1,-2.1,-2.7,-3.8M6.3,61.2q-1.1,-3.2,-2.3,-6.3M149.6,40.5q-5.7,-0.6,-10.7,-3.1M138.6,144.4q-3.6,-2.7,-7.3,-5.3M-1.5,23.5q0.7,-2.1,1.7,-4.1M97.8,5.2q4.5,-2.2,8.2,-5.6M71.1,35.3q-1.5,-2.5,-3.6,-4.6M3.9,4.4q-0.8,-5.5,-2.9,-10.6M126.6,80.5q-6.3,-1.0,-12.0,-4.0M22.4,76.3q1.8,-2.8,3.9,-5.4M46.1,61.9q4.0,-4.7,8.5,-8.9M26.6,19.0q-2.8,-5.6,-7.5,-9.7M111.2,135.6q-2.1,-3.2,-5.1,-5.5M21.0,106.4q-1.2,-2.6,-2.0,-5.3M26.5,135.8q-1.4,-6.1,-0.8,-12.4M57.9,147.2q3.5,-2.5,6.7,-5.4M53.6,121.3q-2.0,-5.4,-3.7,-10.9M96.1,11.1q-4.3,-1.5,-8.8,-2.1M73.4,148.4q-0.5,-5.4,-0.4,-10.8M35.9,109.0q2.7,-0.8,5.4,-1.4M89.3,41.9q-1.6,-2.3,-3.1,-4.7M43.4,44.6q-3.2,-4.8,-6.5,-9.5M11.5,94.8q-1.2,-2.0,-2.4,-4.0M125.3,114.2q-0.6,-4.7,-0.9,-9.4M84.0,112.2q-1.1,-4.3,-2.5,-8.4M61.4,142.7q-3.7,-5.2,-7.4,-10.3M90.7,35.8q-4.0,-2.6,-6.9,-6.4M136.2,88.3q-5.2,-3.3,-10.1,-7.0M131.3,129.5q1.2,-2.8,3.2,-5.2M55.9,126.5q-4.1,-1.0,-8.3,-1.9M11.4,16.3q0.1,-3.5,1.5,-6.7M20.2,25.5q-0.2,-4.6,-2.1,-8.9M7.7,145.8q1.8,-2.4,3.0,-5.2M144.2,50.5q-2.3,-1.7,-5.1,-2.5M53.2,-1.4q5.7,-1.3,10.5,-4.7M30.2,106.0q3.8,-1.0,7.7,-2.1M54.4,50.8q0.4,-3.2,-0.4,-6.4M86.4,2.0q-5.5,-1.5,-11.2,-2.4M97.1,108.3q-0.9,-5.3,-1.6,-10.7M44.7,33.8q-0.5,-4.8,-1.4,-9.6M87.8,30.0q-4.2,-2.8,-8.9,-4.5M27.4,133.1q2.6,-2.2,4.2,-5.3M0.2,80.4q-1.3,-3.0,-1.4,-6.3M10.8,118.0q0.8,-2.9,0.5,-5.8M45.4,74.3q4.6,-2.3,9.2,-4.4M0.2,31.0q0.3,-3.0,0.1,-6.0M84.8,82.9q3.6,-1.4,6.7,-3.6M32.6,21.7q3.6,-4.7,5.9,-10.3M84.8,13.6q-3.9,-0.4,-7.3,-2.2M68.6,132.4q0.5,-5.3,1.4,-10.5M93.3,36.8q0.1,-5.4,1.4,-10.6M41.6,124.9q-4.8,-0.2,-9.4,-1.0M63.5,92.4q-0.6,-3.5,0.1,-6.9M118.9,128.2q1.3,-2.8,2.9,-5.5M121.0,145.5q-2.4,-2.9,-4.0,-6.3M55.6,79.1q-0.5,-6.5,-2.9,-12.5M84.8,50.6q-1.0,-2.3,-1.2,-4.8M140.8,52.3q-5.9,-1.9,-11.4,-4.7M19.4,58.6q1.0,-1.9,1.8,-4.0M143.3,100.8q-3.4,-3.5,-6.9,-7.0M21.4,108.4q1.9,-3.3,4.2,-6.5M143.5,92.1q1.0,-4.0,2.6,-7.7M95.1,56.3q-0.5,-6.5,-1.2,-12.9M69.9,110.1q1.2,-5.0,1.1,-10.2M130.7,73.6q3.7,-0.1,7.3,-1.4M14.6,13.5q3.4,-3.0,6.5,-6.3M36.7,91.4q-2.7,-3.9,-5.9,-7.4M3.7,18.8q2.5,-5.3,6.2,-9.7M62.4,103.5q1.2,-3.7,2.5,-7.4M130.6,93.9q1.7,-6.2,1.6,-12.5M126.8,49.8q-5.2,0.9,-10.3,-0.3M90.4,54.3q-1.7,-2.5,-3.2,-5.1M47.2,81.4q0.0,-5.9,-1.3,-11.6M126.5,117.1q-1.4,-1.9,-3.2,-3.4M53.2,114.6q-2.0,-5.8,-5.3,-10.9M112.9,131.5q0.0,-6.1,-0.4,-12.2M29.6,78.5q-1.1,-2.3,-2.7,-4.2M61.4,43.4q-2.7,-2.5,-5.7,-4.7M136.1,118.1q-2.7,-3.9,-5.3,-8.0M144.5,42.6q-3.8,-0.8,-7.6,-1.6M81.9,99.2q4.6,-4.3,10.0,-7.2M33.6,111.4q-3.6,-3.2,-7.6,-6.1M8.5,20.1q-2.1,-5.7,-5.9,-10.4M38.5,58.9q-3.3,-0.7,-6.6,-0.2M5.7,39.5q-3.0,-3.8,-5.1,-8.1M61.2,114.9q0.5,-4.5,1.8,-8.8M98.0,121.1q3.2,-1.5,6.8,-1.7M56.4,117.3q-1.3,-5.5,-4.3,-10.2M115.2,64.6q-1.7,-2.7,-3.3,-5.4M80.2,72.1q-3.8,-3.1,-8.4,-4.8M119.4,138.0q6.3,-0.8,12.7,-1.4M107.6,76.1q-1.2,-4.4,-1.5,-8.9M29.6,70.6q0.2,-2.6,1.3,-5.0M92.9,125.5q-1.8,-1.6,-3.6,-3.1M45.7,56.6q3.6,-3.4,7.6,-6.2M69.7,36.5q1.5,-1.6,2.9,-3.3M121.7,75.8q-2.7,-2.1,-5.1,-4.5M105.4,94.7q2.8,-1.0,5.8,-1.6M1.0,46.2q-3.3,-2.5,-7.1,-4.1M86.5,19.8q-3.2,-0.8,-6.5,-0.6M134.5,31.6q4.2,-2.7,8.9,-4.4M26.4,90.3q-5.3,0.4,-10.5,-0.6M134.4,138.9q4.3,-2.6,7.7,-6.3M34.9,55.4q-1.7,-2.2,-4.1,-3.8M125.0,149.7q-2.9,-3.7,-4.8,-7.9M65.2,86.6q5.0,-2.5,10.5,-3.8M92.7,7.3q0.5,-4.3,1.8,-8.5M1.3,121.2q-3.4,-2.1,-6.9,-4.0M97.0,26.3q1.5,-3.8,3.5,-7.3M119.7,106.6q-2.3,-4.1,-4.3,-8.3M51.7,44.7q-1.0,-3.2,-2.9,-5.9M58.2,78.0q-1.3,-3.5,-2.8,-6.9M106.5,45.0q3.0,-5.0,6.8,-9.4M15.2,131.4q-0.8,-4.0,-0.8,-8.2M8.2,66.5q-2.8,-0.7,-5.6,-1.3M14.9,109.0q3.3,-0.5,6.2,-2.0M14.5,35.3q-2.6,-1.1,-5.4,-1.7M23.3,68.8q4.9,-2.1,9.7,-4.6M42.7,114.6q-2.5,0.2,-5.0,-0.4M80.5,38.3q1.6,-2.9,2.4,-6.2M127.7,-1.9q2.9,-1.8,6.3,-2.5M40.7,108.5q0.9,-2.1,2.3,-3.9M44.7,59.0q-3.2,-1.8,-6.7,-2.8M40.5,113.9q2.9,-4.0,6.1,-7.6M75.6,135.8q6.1,-0.6,12.2,-1.5M16.9,120.7q-0.8,-4.4,-0.9,-8.8M86.6,129.7q1.1,-2.0,2.1,-3.9M21.9,2.1q3.0,-2.0,6.4,-3.0M17.7,72.0q-5.1,-1.0,-10.3,-0.2M80.3,125.7q3.3,-1.9,7.0,-2.9M76.4,53.8q-1.8,-3.9,-3.7,-7.8M44.6,15.2q1.2,-2.3,2.7,-4.5M78.0,80.0q5.3,-0.9,10.2,-3.3M76.2,107.9q-1.4,-4.1,-1.4,-8.4M31.1,135.6q-3.8,-0.6,-7.4,-2.2M66.0,93.6q3.1,-0.7,6.3,-1.1M108.5,96.9q-2.0,-0.4,-3.9,-1.0M78.1,46.2q4.5,-3.9,8.9,-8.0M77.5,31.7q-1.1,-1.8,-1.7,-3.9M9.6,82.2q-3.5,-3.4,-5.5,-7.8M66.7,143.1q-1.3,-5.0,-3.7,-9.5M0.3,8.0q-3.7,-5.2,-5.2,-11.3M66.1,1.6q4.9,-0.0,9.7,-1.4M98.6,138.6q-1.5,-1.4,-3.2,-2.5M88.9,142.2q5.6,-2.1,11.3,-4.0M16.5,76.8q2.8,-1.7,6.0,-2.3M14.5,4.5q-1.7,-2.8,-3.1,-5.8M113.8,85.7q4.5,-0.3,8.6,-2.2M0.5,87.3q-2.9,-1.3,-5.3,-3.3M32.9,139.1q1.0,-4.7,0.2,-9.5M144.3,57.5q-3.7,-2.6,-6.8,-5.9M141.0,0.7q-2.3,-1.7,-4.9,-3.2M44.6,2.1q-2.4,-0.0,-4.8,-0.2M49.9,86.8q-0.9,-6.3,-3.8,-12.1M71.1,17.1q-1.5,-2.1,-2.5,-4.5M59.3,11.6q2.8,-3.7,4.9,-7.7M54.8,10.7q-2.2,-1.0,-4.3,-2.2M39.4,73.8q-2.7,-3.2,-6.5,-5.2M57.5,17.5q1.4,-4.5,1.6,-9.1M68.5,137.5q2.1,-2.4,4.1,-4.9M18.1,37.7q2.9,-3.6,6.2,-6.7M43.5,82.6q-2.0,-1.0,-4.1,-1.8M25.1,69.1q-2.7,-2.2,-4.5,-5.1M53.0,94.3q-3.5,-2.2,-7.1,-4.2M123.1,56.7q-6.3,-0.2,-12.3,-1.8M120.4,97.3q4.4,-1.4,9.0,-1.4M69.6,91.5q-3.3,-5.0,-4.7,-11.0M83.9,68.7q-4.0,-2.8,-7.8,-6.0M11.2,107.5q-0.2,-4.9,-0.4,-9.8M9.8,81.5q-3.1,-1.3,-6.5,-2.0M99.3,31.3q3.9,-1.5,7.9,-2.3M79.9,137.0q-3.5,0.2,-6.9,-0.6M98.8,142.7q2.9,-2.3,6.1,-4.2M104.1,119.0q-3.0,-1.0,-6.0,-2.0M83.0,90.8q4.7,-1.9,9.3,-3.9M128.5,135.0q-3.6,-3.2,-7.5,-6.2M116.0,134.1q-4.9,-2.6,-9.7,-5.4M98.1,145.2q-6.1,-1.8,-11.2,-5.6M24.7,92.8q3.0,-1.1,6.1,-1.9M23.0,58.7q-0.9,-3.5,-0.5,-7.1M110.0,47.8q-3.0,-0.7,-6.1,-0.4M-0.7,99.9q2.3,0.1,4.6,-0.4M27.1,35.7q2.3,-5.2,4.3,-10.5M116.3,31.8q-2.8,-3.2,-4.5,-7.2M125.2,40.9q-3.8,-1.1,-7.7,-0.9M67.4,64.9q-1.2,-2.3,-3.1,-4.1M3.1,128.4q-5.7,-2.2,-11.3,-4.8M87.6,114.3q2.6,-0.2,5.2,-0.1M27.5,19.9q-3.0,-2.9,-6.0,-5.8M20.9,52.9q0.1,-2.2,0.6,-4.3M56.5,116.9q5.4,-0.5,10.9,-0.7M52.1,139.6q1.2,-3.6,2.8,-7.1M41.5,93.8q4.1,-1.6,8.3,-2.9M101.5,31.9q2.2,-4.1,2.9,-8.6M75.4,46.0q3.3,-4.8,4.8,-10.4M18.0,87.6q2.6,-4.2,6.4,-7.5M61.8,16.7q2.7,-4.5,6.9,-7.6M1.1,68.9q0.2,-3.5,-0.4,-6.9M121.7,98.1q6.1,-1.3,12.3,-0.2M114.3,5.8q-1.6,-5.8,-1.3,-11.7M14.6,113.4q-3.9,-1.9,-7.0,-4.8M3.3,149.5q0.5,-6.4,-0.3,-12.8M123.6,23.5q-4.2,-1.5,-8.6,-1.6M144.2,68.3q1.9,-1.3,3.3,-3.0M9.7,64.3q6.0,0.7,11.8,-0.7M-1.8,70.5q-1.4,-2.1,-3.0,-4.1M51.9,28.1q-2.3,-1.9,-3.7,-4.4M134.6,132.2q-1.8,-6.0,-4.4,-11.7M140.3,29.8q-1.1,-2.1,-2.0,-4.3M85.2,69.9q2.3,-5.5,4.3,-11.1M11.5,85.7q-2.8,-1.4,-5.0,-3.8M140.0,23.8q4.0,-1.1,8.2,-1.2M72.5,9.6q-0.4,-3.6,-0.8,-7.3M72.9,2.8q2.9,-3.2,5.9,-6.2M136.4,149.0q4.2,-3.8,7.3,-8.5M130.9,41.0q6.1,-0.5,12.0,-2.0M-0.5,115.6q-2.4,-2.9,-5.4,-5.2M56.9,122.6q-2.5,-0.1,-5.0,-0.6M81.9,111.4q-0.5,-5.7,0.6,-11.3M53.1,5.2q4.4,-1.6,7.8,-4.7M124.1,72.6q1.3,-3.0,2.0,-6.2M105.0,22.1q3.3,-5.6,8.5,-9.5M108.1,70.2q-2.1,-4.9,-3.2,-10.1M56.0,112.2q-2.1,-5.7,-2.9,-11.6M-3.3,140.7q-1.1,-2.2,-2.8,-4.1M97.0,66.4q-3.3,-1.0,-6.8,-1.3M65.6,51.3q-4.3,-2.3,-8.7,-4.3M61.7,47.6q2.7,-5.7,7.0,-10.4M41.4,66.0q-2.5,-0.3,-5.1,-0.4M23.6,10.5q-3.6,-4.7,-7.2,-9.5M125.2,4.4q-0.7,-2.8,-2.4,-5.1M106.2,74.7q-4.9,-0.7,-9.2,-3.1M-10.5,91.5q6.1,-0.8,12.2,-0.3M-2.0,19.3q3.2,-0.6,6.4,-0.5M65.2,71.5q-2.2,-3.1,-3.2,-6.8" stroke="#148428" stroke-opacity="0.5" stroke-width="0.9" fill="none" stroke-linecap="round"/><path d="M136.4,47.9q-3.1,-1.8,-6.3,-3.2M36.8,13.2q-2.5,-1.4,-5.1,-2.7M125.4,-1.6q3.2,-0.9,6.1,-2.5M65.8,146.3q5.0,-3.7,10.1,-7.2M43.7,6.8q-3.4,-5.5,-6.5,-11.2M109.7,118.5q2.5,-2.9,5.5,-5.3M60.6,118.1q-1.1,-4.7,-3.3,-9.0M61.5,110.3q-2.5,-3.7,-6.2,-6.2M43.8,42.2q0.3,-3.0,-0.1,-6.1M76.9,62.7q2.1,-4.6,3.2,-9.5M119.2,-3.6q-4.9,0.6,-9.8,-0.1M100.8,66.6q2.5,-2.3,4.6,-4.9M18.7,130.9q-1.9,-3.7,-4.6,-6.9M88.8,125.0q-4.1,-3.8,-7.7,-8.0M105.6,39.8q-7.1,-2.1,-14.5,-1.6M123.7,140.5q-3.4,-1.8,-6.9,-3.3M18.7,8.5q-3.5,-2.9,-5.8,-6.8M131.9,94.6q6.1,-2.7,12.8,-3.0M22.0,137.9q1.6,-4.7,4.2,-8.9M130.2,113.0q-7.5,-1.1,-14.3,-4.5M108.9,71.7q0.5,-3.7,2.2,-7.0M105.0,49.0q0.8,-4.9,2.4,-9.6M4.3,144.9q4.3,-3.3,7.0,-7.9M22.3,9.2q6.0,-2.3,11.3,-5.9M9.8,116.2q-3.9,-2.9,-8.0,-5.4M44.6,-1.8q1.8,-2.1,4.3,-3.4M33.1,115.3q6.4,-3.6,11.1,-9.4M97.1,101.9q-5.3,-1.9,-10.7,-3.1M133.2,44.3q6.3,-1.6,11.6,-5.3M87.1,132.5q2.9,-4.8,5.1,-9.9M61.5,104.8q2.3,-2.2,4.8,-4.1M-1.1,103.5q-2.2,-5.0,-5.6,-9.3M23.2,21.6q5.6,-2.9,11.9,-3.5M51.9,75.6q-3.7,-4.6,-8.3,-8.3M110.4,101.9q2.2,-2.0,4.0,-4.3M38.4,112.1q-0.8,-7.4,-0.3,-14.7M-0.3,35.4q5.7,-1.9,11.7,-1.7M104.1,3.9q1.8,-4.8,3.5,-9.5M94.5,141.0q-1.1,-3.4,-2.4,-6.7M92.9,75.6q6.4,-1.5,13.0,-2.3M147.2,92.3q-2.2,-3.6,-5.4,-6.4M138.4,60.3q2.3,-3.4,5.2,-6.3M145.1,77.7q-2.9,-1.6,-5.4,-3.7M46.3,20.8q-2.0,-4.4,-4.5,-8.5M92.8,137.1q-0.0,-7.4,2.2,-14.4M119.5,39.3q4.9,-2.5,10.0,-4.8M144.5,32.3q-4.3,-1.6,-8.1,-4.1M74.5,40.2q4.0,-1.0,7.5,-3.1M39.7,94.8q-3.4,-5.3,-8.2,-9.5M108.0,31.1q-2.6,-0.2,-5.0,-0.8M4.2,16.6q0.8,-4.3,3.1,-8.0M103.8,14.1q4.6,-0.2,9.2,-0.8M25.9,100.7q-0.9,-5.0,-2.2,-9.9M64.1,95.1q3.4,-1.0,6.8,-0.8M22.4,7.7q-3.7,-3.7,-6.4,-8.2M50.9,144.7q3.6,-1.5,7.5,-2.3M12.4,142.3q1.3,-3.8,2.3,-7.6M43.9,21.8q-4.0,-0.3,-7.7,-1.9M117.5,97.0q-2.5,-7.1,-4.2,-14.4M79.6,24.3q0.4,-3.1,-0.2,-6.3M58.6,15.8q3.1,-6.3,8.4,-10.9M113.4,92.6q-2.3,-3.0,-5.2,-5.5M131.0,36.8q2.4,-2.3,4.4,-5.0M38.3,59.0q-0.7,-6.2,-2.8,-12.0M24.8,136.0q4.1,-5.5,8.1,-11.1M3.9,137.7q6.1,-1.4,12.1,-3.5M94.2,121.5q-1.3,-3.2,-2.8,-6.4M137.6,7.7q-2.4,-6.6,-4.7,-13.2M147.6,18.7q-6.5,-2.6,-12.5,-6.2M32.8,82.7q-5.2,-0.6,-10.1,-2.2M119.6,66.3q-2.6,-3.7,-5.9,-7.0M16.1,37.2q1.6,-4.8,2.0,-9.8M123.3,61.8q3.3,-4.1,7.3,-7.4M56.0,103.5q0.3,-3.3,-0.4,-6.5M28.0,48.7q2.3,-1.6,4.4,-3.5M126.2,46.0q-6.6,-0.9,-13.0,-2.6M39.6,122.4q4.4,-2.4,8.8,-4.9M9.9,6.8q2.1,-4.2,3.4,-8.7M63.4,134.0q5.9,-1.6,12.0,-1.6M123.7,141.3q3.3,-3.9,7.0,-7.3M9.1,26.6q-4.6,-6.1,-6.6,-13.5M33.8,63.9q-3.4,-0.7,-6.9,-0.4M25.1,136.9q-1.3,-7.1,-0.4,-14.3M68.4,20.2q2.6,-0.6,5.2,-0.3M65.5,73.2q6.3,-1.8,12.9,-2.1M27.8,30.7q3.6,-1.4,7.4,-1.5M43.9,49.2q-5.2,-0.6,-10.1,-2.2M61.4,77.2q-2.3,-6.8,-7.0,-12.3M138.4,28.6q-3.4,-2.3,-6.8,-4.6M96.6,23.8q2.3,-1.2,5.0,-1.5M49.2,55.0q3.7,-4.6,7.9,-8.8M14.7,28.3q1.3,-7.3,2.2,-14.7M100.7,83.1q5.5,-0.7,11.1,-0.7M5.6,5.3q-2.5,-5.8,-6.8,-10.6M24.2,7.6q4.3,-5.5,6.3,-12.1M73.9,115.5q-0.8,-4.1,-0.7,-8.3M40.3,130.1q3.5,-1.2,7.3,-1.0M123.9,91.1q-1.9,-4.6,-3.3,-9.3M79.1,145.4q-4.8,-5.4,-7.2,-12.2M126.3,31.8q-2.5,-1.7,-4.2,-4.2M94.9,70.7q0.3,-3.9,1.6,-7.6M39.9,80.7q-4.4,-5.4,-8.2,-11.2M65.5,131.4q3.8,-3.5,6.8,-7.7M66.5,10.4q4.3,0.2,8.4,-1.0M128.6,17.2q2.9,-0.4,5.6,-1.5M0.3,50.7q-0.5,-7.0,-1.6,-13.9M144.4,116.2q0.8,-6.0,0.4,-12.0M0.9,4.8q3.6,-0.6,6.6,-2.5M120.6,119.3q3.0,-1.3,5.6,-3.2M93.5,78.4q0.2,-3.7,0.5,-7.3M57.5,2.1q-3.6,-6.6,-6.6,-13.4M28.9,60.7q-0.7,-2.4,-1.9,-4.7M26.4,71.6q3.4,-0.8,6.8,-1.4M112.3,84.4q-2.4,-5.4,-4.1,-11.1M70.4,102.3q-2.7,-1.0,-4.9,-2.8M55.3,48.0q-3.0,-0.3,-6.0,-0.3M40.5,140.3q-3.7,-6.3,-9.4,-11.0M92.1,35.4q-1.7,-3.7,-4.2,-7.0M87.5,66.6q-1.5,-3.6,-3.4,-7.0M108.9,101.5q-6.5,0.2,-13.0,-0.0M142.5,104.0q-5.9,-3.3,-12.6,-4.4M75.0,37.0q0.8,-6.9,3.2,-13.4M129.4,40.0q1.2,-3.3,2.9,-6.2M85.2,69.4q-3.7,-0.5,-7.2,-2.2M31.4,74.2q6.9,-2.5,12.4,-7.5M57.5,139.7q2.4,-1.1,5.0,-1.8M85.3,116.6q4.3,-4.7,9.4,-8.6M45.5,91.8q2.1,-1.3,4.4,-2.5M91.8,101.6q-4.5,-2.3,-7.9,-6.1M134.0,131.5q3.8,-4.2,7.8,-8.2M132.5,117.8q-1.5,-2.7,-2.7,-5.6M53.6,66.9q-1.0,-3.7,-2.4,-7.3M77.5,133.0q4.4,-2.5,8.8,-4.8M22.6,80.0q-2.3,-1.4,-4.8,-2.3M50.4,135.6q-4.9,-4.3,-8.9,-9.5M62.1,33.2q2.6,-2.8,4.8,-5.8M128.4,87.9q6.2,-1.2,12.2,-3.3M16.9,54.8q-0.5,-7.1,-0.1,-14.3M9.6,71.5q-0.8,-6.1,0.3,-12.2M101.0,107.7q-5.9,0.4,-11.6,-1.0M-3.3,18.5q1.4,-2.2,3.1,-4.2M105.7,146.4q-3.5,-4.7,-7.9,-8.6M91.8,97.3q2.3,-2.1,3.8,-4.7M101.5,8.1q-6.7,-2.0,-13.0,-5.0M1.4,132.0q4.4,-5.2,9.2,-10.0M37.9,121.8q0.9,-3.3,2.6,-6.1M81.4,94.5q-2.2,-2.1,-4.0,-4.5M34.9,142.7q3.6,-4.6,7.6,-8.9M54.5,141.0q4.4,-3.0,8.2,-6.8M54.9,12.4q-4.1,-4.9,-9.2,-8.6M115.0,119.6q0.1,-5.1,-1.1,-10.0M-4.4,11.6q0.3,-3.6,0.6,-7.3M72.1,52.5q5.7,-3.8,10.7,-8.5M70.0,60.4q-4.5,-1.1,-9.1,-1.0M93.5,29.9q-0.1,-2.9,0.8,-5.6M93.1,18.8q2.6,-3.3,3.9,-7.3M144.5,146.3q-5.3,-2.2,-11.0,-2.4M58.4,13.9q1.4,-3.0,3.1,-5.7M110.7,56.9q-5.6,-1.4,-10.9,-3.6M110.2,5.9q-4.2,-1.9,-8.7,-3.2M-6.0,57.8q4.9,-0.8,9.4,-2.7M-4.9,110.5q4.2,-1.9,8.3,-4.3M24.5,39.9q4.8,-1.4,9.8,-2.0M94.5,79.6q4.8,-1.0,9.4,-2.6M139.0,73.9q0.4,-6.9,3.3,-13.1M45.9,90.4q5.5,-1.1,11.1,-1.6M143.1,8.2q1.8,-3.5,4.8,-6.1M85.0,20.6q2.1,-3.5,3.8,-7.3M92.3,29.0q1.4,-5.1,4.0,-9.8M25.0,18.8q-2.5,-3.3,-5.9,-5.7M27.8,51.8q-4.0,-1.9,-8.2,-3.2M22.4,56.0q2.2,-3.0,4.7,-5.9M138.1,65.5q3.8,-1.2,7.7,-1.7M30.4,97.8q6.6,-1.4,13.2,-2.6M116.7,118.2q4.0,-4.9,8.7,-9.0M113.8,4.0q-2.8,-6.4,-7.5,-11.7M117.5,148.6q-5.6,-3.8,-9.5,-9.3M48.1,84.4q2.2,-1.8,4.7,-3.0M88.0,27.0q-4.0,-2.1,-7.7,-4.7M17.1,111.0q-2.3,-4.2,-4.1,-8.8M4.4,64.9q-2.3,-5.0,-3.1,-10.3M121.8,150.3q2.7,-5.9,6.6,-11.0M44.8,9.2q-4.3,-1.9,-9.0,-2.3M27.4,27.8q-5.2,-1.4,-10.5,-2.5M1.7,72.1q-3.2,-0.3,-6.2,-1.2M80.6,66.7q0.3,-2.8,0.7,-5.6M94.2,149.6q-1.3,-6.3,-0.7,-12.7M77.6,117.5q-3.0,-4.6,-6.0,-9.3M35.7,99.9q-4.3,-2.7,-8.6,-5.3M103.0,111.7q-4.6,-4.9,-8.7,-10.3M16.3,120.0q-0.1,-5.5,-1.7,-10.8M53.8,48.6q5.0,-2.0,9.9,-4.5M50.1,45.6q-2.7,-2.1,-5.8,-3.4M58.4,119.2q-5.7,0.3,-11.3,-0.7M116.3,42.6q2.4,-2.9,5.3,-5.3M134.0,68.1q-0.1,-6.5,1.5,-12.9M17.9,105.0q6.8,-1.9,13.6,-4.2M-3.3,42.2q3.0,-5.2,7.4,-9.2M120.8,130.4q-6.1,0.2,-12.2,-0.5M-0.9,137.2q0.0,-2.9,0.8,-5.7M134.9,136.9q4.9,-0.6,9.7,-1.9M23.1,64.7q-2.6,-2.3,-5.6,-4.1M55.0,24.3q-2.4,-1.6,-4.0,-4.0M15.7,139.6q-2.3,-5.0,-5.5,-9.4M76.9,138.0q6.5,-2.0,12.8,-4.7M76.1,16.6q-5.6,-3.7,-11.1,-7.6M87.2,37.5q4.8,0.5,9.4,-0.8M12.4,85.7q1.6,-6.9,5.3,-13.1M8.6,-1.5q0.6,-3.3,0.3,-6.7M138.7,137.0q-5.3,-5.0,-10.1,-10.4M135.7,60.4q-5.1,-3.9,-9.5,-8.6M112.6,117.7q-2.5,-5.7,-3.2,-11.9M73.9,61.2q-5.1,-1.0,-10.3,-0.6M41.0,127.9q-4.7,-3.7,-10.2,-6.0M117.2,98.6q1.5,-3.4,4.2,-6.0M66.7,53.9q4.0,-6.2,9.5,-11.1M68.7,68.2q-3.4,-1.0,-7.0,-1.3M15.9,38.4q-2.2,-2.9,-4.5,-5.8M137.6,6.2q1.6,-5.0,4.3,-9.5M109.1,60.0q-1.4,-4.3,-2.5,-8.7M92.8,62.4q2.3,-1.7,4.5,-3.6M70.3,83.1q-5.1,-4.7,-8.4,-10.8M33.8,105.6q-3.3,0.0,-6.3,-1.1M123.6,49.5q2.6,-2.3,5.7,-3.6M19.8,73.6q-2.3,-3.7,-3.7,-7.8M1.5,41.6q-1.5,-7.4,-4.9,-14.1M102.0,18.9q0.1,-6.0,2.4,-11.7M28.3,74.9q-5.6,-1.2,-11.0,-3.0M71.5,28.4q-5.5,-2.7,-11.5,-4.1M110.8,139.0q-2.3,-6.5,-4.6,-13.1M131.6,23.3q-3.9,-6.3,-9.0,-11.7M3.4,77.0q-0.5,-5.8,-0.8,-11.6M76.3,85.5q2.2,-5.3,5.0,-10.4M30.5,117.5q-1.6,-5.1,-4.7,-9.5M107.4,6.2q5.5,-1.5,11.0,-3.3M62.6,96.8q-3.4,0.5,-6.8,-0.0M117.6,64.4q7.4,-1.2,14.6,-3.4M61.3,119.8q5.5,0.1,10.8,-1.2M94.3,88.3q-1.7,-3.2,-3.6,-6.3M49.4,61.3q-0.9,-4.6,-1.0,-9.4M83.9,84.2q1.3,-5.2,1.1,-10.6M79.3,-0.3q1.1,-3.6,3.4,-6.6M121.4,84.7q1.0,-6.8,1.5,-13.6M119.8,125.7q2.6,-0.8,5.3,-0.7M47.2,131.3q6.5,-2.7,13.4,-3.9M11.1,117.1q-5.6,-1.4,-11.1,-2.9M55.2,10.1q-1.4,-4.7,-2.0,-9.6M70.8,79.9q-1.7,-1.8,-3.2,-3.8M47.2,105.7q3.7,-3.5,6.5,-7.7M15.9,87.7q-5.6,-1.2,-11.1,-2.9M96.2,58.4q-6.1,-0.4,-12.2,-0.3M5.9,84.1q-4.2,-0.6,-8.4,-0.3M38.8,29.7q4.7,-4.1,9.5,-8.1M55.2,142.7q0.8,-4.9,0.4,-9.7M98.7,56.9q-3.2,-0.1,-6.3,-1.2M19.2,147.8q1.7,-4.3,3.1,-8.7M24.9,40.9q-1.4,-3.9,-2.5,-7.8M90.4,14.6q-3.0,-6.7,-5.3,-13.7M114.3,62.6q-5.7,-2.2,-11.7,-2.6M9.0,55.0q0.4,-3.4,-0.4,-6.8M13.5,106.8q5.0,-4.9,8.5,-11.0M39.9,68.5q-4.1,-5.2,-8.2,-10.4M20.3,91.2q-1.4,-3.2,-2.1,-6.7M-0.5,107.6q4.9,-2.0,9.3,-4.9M-8.2,142.9q6.3,-2.4,12.6,-4.7M132.6,145.8q4.9,-4.6,10.7,-8.3M125.6,101.4q6.1,-4.4,11.1,-10.1M124.5,12.6q-6.3,-2.6,-12.7,-5.2M63.7,131.1q2.4,-4.1,4.7,-8.3M146.6,25.6q-2.5,-2.2,-5.0,-4.6M69.6,59.2q-1.8,-3.8,-3.3,-7.8M75.8,20.6q3.4,-5.4,7.5,-10.3M-1.1,124.6q2.2,-6.9,5.7,-13.3M30.2,86.6q-0.9,-2.5,-1.6,-5.0M43.0,31.0q-5.5,-1.5,-10.4,-4.5M94.6,50.0q1.7,-5.0,3.3,-10.0M18.1,93.1q-3.1,-4.6,-6.8,-8.7M-0.2,24.4q-2.3,-3.0,-5.3,-5.4M77.9,119.1q0.3,-2.7,0.5,-5.5M45.0,67.6q-3.1,-6.1,-4.3,-12.7M107.2,122.3q-4.4,-5.4,-8.5,-11.2M39.8,41.6q-0.2,-4.2,0.1,-8.3M2.9,85.9q2.8,-5.9,6.4,-11.3M75.6,131.3q3.4,-2.1,7.4,-2.8M120.9,54.3q-3.8,-0.1,-7.6,-0.4M6.0,98.4q7.4,-0.9,14.9,-1.0M77.6,86.5q-6.3,-0.4,-12.6,-0.3M91.3,139.3q-7.0,-0.1,-14.0,-0.2M16.9,64.8q-3.6,-4.2,-5.8,-9.2M21.1,55.1q-2.6,-1.2,-5.2,-2.5M92.2,68.3q-3.9,-1.0,-7.4,-3.0M114.6,32.0q-3.6,-3.4,-6.8,-7.1M127.1,98.1q-0.4,-5.6,0.4,-11.2M111.2,28.1q2.1,-4.5,2.8,-9.4M112.8,96.0q-2.8,-2.9,-6.5,-4.6M120.1,19.5q-2.9,-0.8,-5.6,-2.1M117.3,74.5q2.5,-6.0,3.9,-12.3M58.9,4.0q4.6,-4.0,10.1,-6.7M148.7,130.2q-3.8,-0.8,-7.3,-2.6M127.2,75.0q6.6,-0.2,13.1,-1.2M123.9,13.1q1.6,-2.8,3.8,-5.2M80.5,9.3q1.2,-3.7,2.7,-7.2M116.6,24.3q0.4,-3.2,0.2,-6.3M59.9,40.9q2.0,-1.8,3.9,-3.5M125.1,105.9q1.8,-3.1,4.5,-5.5M77.5,108.9q2.7,-5.4,6.5,-10.1M78.4,0.2q4.0,-1.3,8.3,-1.2M97.0,135.8q3.7,-4.8,8.7,-8.2M57.6,96.4q0.6,-5.4,0.9,-10.9M99.6,102.3q2.9,-5.4,4.3,-11.3M42.3,115.2q0.2,-7.3,2.6,-14.2M83.5,39.2q1.6,-2.6,3.4,-5.1M2.6,130.5q-0.6,-2.5,-1.7,-4.7M106.0,50.8q1.3,-6.1,1.4,-12.4M71.5,37.0q-1.4,-3.8,-3.2,-7.4M136.9,45.3q2.5,-0.3,5.0,-0.5M80.6,97.8q5.4,-1.3,10.9,-0.7M132.1,15.1q-1.6,-4.9,-1.6,-10.1M50.3,43.9q4.4,-3.7,9.6,-5.8M55.1,83.3q2.5,-4.4,5.5,-8.5M21.1,117.3q5.0,-2.1,9.0,-5.6M92.8,129.6q6.6,-1.2,13.2,-2.0M130.5,120.4q2.5,-6.5,3.8,-13.3M74.8,93.5q2.1,-4.4,3.9,-8.8M137.9,103.1q6.7,-2.7,13.6,-4.8M55.2,140.7q-4.6,-1.4,-9.5,-1.8M65.4,-2.0q3.8,-2.7,7.7,-5.3M137.4,118.9q2.2,-3.5,4.2,-7.2M62.1,123.9q-1.8,-6.5,-5.4,-12.2M6.7,102.3q-1.0,-6.5,0.2,-13.0" stroke="#28ac40" stroke-opacity="0.7" stroke-width="0.9" fill="none" stroke-linecap="round"/><path d="M-1.7,110.1q0.0,-3.9,-0.7,-7.8M15.2,1.8q-2.9,-1.4,-6.1,-2.0M77.3,134.5q-2.1,-3.9,-4.9,-7.4M97.1,15.8q2.9,-3.7,5.6,-7.5M95.7,117.2q3.0,-1.0,6.0,-2.1M51.6,-1.0q-3.9,-0.7,-7.8,-1.2M135.1,20.9q-0.3,-4.6,0.8,-9.0M93.8,7.0q2.5,-1.0,4.9,-2.3M106.1,87.8q1.0,-4.3,2.1,-8.6M114.8,142.7q-0.1,-3.1,-1.1,-6.0M110.3,9.0q-4.2,-2.2,-8.6,-3.9M29.1,138.9q2.0,-2.3,3.3,-5.2M53.7,100.0q1.0,-3.5,1.8,-7.1M91.8,123.2q2.9,-0.5,5.6,-1.6M111.3,41.7q0.4,-4.0,0.9,-7.9M94.0,28.5q-4.7,-2.7,-9.7,-4.9M48.9,8.0q1.8,-1.7,3.3,-3.8M105.1,76.6q0.6,-3.0,1.9,-5.7M140.4,130.2q4.2,-3.1,8.9,-5.3M33.1,142.2q3.4,-1.3,6.6,-3.1M143.5,7.7q-3.6,-2.0,-6.9,-4.3M41.2,66.4q-3.2,-1.3,-6.3,-3.0M33.9,113.5q-2.9,-1.5,-5.9,-2.8M2.2,12.2q3.7,-4.0,6.1,-9.0M12.1,15.3q-1.7,-1.3,-3.2,-2.8M46.5,132.4q-0.9,-3.3,-0.8,-6.8M125.8,140.0q-3.1,-1.6,-5.9,-3.6M122.0,36.5q0.9,-4.8,1.7,-9.6M133.4,47.4q-1.0,-4.0,-3.1,-7.6M21.1,50.1q0.9,-4.9,2.1,-9.6M77.2,65.0q5.4,-0.2,10.8,-1.2M125.6,89.6q2.3,-3.5,5.4,-6.2M140.6,31.7q-0.3,-2.2,-0.6,-4.4M76.8,117.4q2.7,-3.7,5.2,-7.6M97.0,55.2q1.2,-2.7,2.7,-5.2M60.9,88.1q-4.8,-2.6,-8.5,-6.6M23.8,59.1q-4.0,-1.9,-8.4,-2.7M33.9,120.7q-2.3,-0.8,-4.6,-1.2M82.7,40.5q-4.1,-3.4,-8.6,-6.4M57.9,71.5q-0.5,-4.3,-1.9,-8.3M1.0,132.3q-3.6,-3.3,-6.5,-7.3M124.2,110.4q-3.4,-4.3,-5.3,-9.4M117.0,133.6q-0.8,-4.7,-2.1,-9.4M36.4,36.8q2.1,-3.2,3.4,-6.8M23.9,103.9q4.2,-1.0,8.4,-2.2M22.2,109.1q-2.2,-1.2,-4.1,-2.9M127.9,80.6q-1.0,-3.7,-2.6,-7.1M17.3,103.1q-0.9,-4.7,-2.8,-9.2M85.5,6.1q-4.2,-3.4,-9.1,-5.6M63.8,60.3q2.1,-3.1,3.2,-6.8M15.6,137.2q3.6,-3.6,7.3,-7.2M62.9,101.5q3.4,-2.4,5.8,-5.7M56.8,116.9q3.9,-1.6,7.5,-3.9M115.4,10.5q-4.5,-1.0,-8.9,-2.1M125.7,55.6q3.6,-0.7,7.1,-2.1M13.3,88.9q1.3,-2.3,2.0,-4.8M108.0,93.3q-4.2,-1.4,-8.0,-3.8M144.4,92.9q-1.8,-5.0,-4.1,-9.8M115.2,96.2q2.7,-2.8,4.5,-6.2M5.0,89.1q-1.0,-3.3,-2.5,-6.3M2.3,70.9q0.9,-1.8,2.0,-3.6M95.0,138.6q0.7,-5.2,0.5,-10.5M138.7,147.0q2.4,-3.4,5.4,-6.3M38.2,42.8q-2.1,-0.9,-4.4,-1.6M50.0,109.3q-4.1,-1.7,-8.6,-2.0M93.9,55.4q-3.2,-3.3,-6.0,-6.8M32.9,18.3q-3.0,-1.3,-5.9,-3.0M17.2,120.6q2.4,-0.5,4.7,-0.9M72.5,28.3q3.0,-0.9,6.0,-2.0M77.2,87.3q-3.0,-4.0,-6.7,-7.4M100.5,77.5q3.3,-3.4,5.9,-7.3M77.3,77.4q-3.9,-1.7,-7.2,-4.4M114.8,115.7q-3.5,-0.7,-6.8,-1.9M85.3,144.2q4.3,-2.8,8.4,-5.7M39.0,109.3q-1.7,-4.5,-2.6,-9.3M45.0,43.0q-2.2,-4.3,-3.3,-8.9M74.8,96.4q5.4,0.6,10.7,-0.1M90.3,91.5q3.0,-3.0,6.4,-5.5M75.7,81.3q4.0,-3.4,8.8,-5.5M59.4,27.9q-1.9,-2.7,-4.2,-5.1M20.6,72.9q1.7,-3.9,4.4,-7.2M132.2,14.0q-1.9,-1.4,-3.5,-3.1M19.1,0.5q4.5,-2.1,9.0,-4.2M58.5,44.4q-1.7,-1.3,-3.6,-2.4M133.1,45.0q-0.8,-1.8,-1.5,-3.7M-6.0,58.4q5.3,-0.5,10.6,-1.1M34.9,63.1q-3.5,-1.3,-6.5,-3.5M9.1,107.0q-3.0,-4.5,-6.4,-8.7M118.9,132.7q3.5,-3.9,7.9,-6.7M76.7,5.5q-1.6,-4.9,-2.3,-10.1M90.5,44.8q1.6,-1.8,3.6,-3.1M69.9,134.7q1.7,-1.6,3.1,-3.5M148.4,94.1q-4.1,-2.1,-7.5,-5.2M58.0,133.7q2.5,-2.1,4.4,-4.6M79.4,108.6q-4.9,-2.4,-10.2,-3.2M103.1,32.7q3.8,-0.6,7.7,-0.6M134.8,72.5q0.6,-4.0,1.0,-8.0M22.6,27.9q-4.0,-2.7,-7.9,-5.6M1.7,42.5q1.4,-5.2,1.4,-10.6M72.2,48.5q-4.0,-1.7,-7.9,-3.8M104.2,27.7q-0.9,-5.0,-2.1,-10.0M20.5,80.2q4.7,-0.7,9.4,-1.1M-4.5,18.2q2.5,-2.0,5.2,-3.7M70.4,16.7q2.2,-4.9,5.4,-9.1M37.7,16.5q2.3,-4.3,5.3,-8.1M33.2,32.4q-1.3,-3.9,-1.8,-8.0M115.9,57.6q-2.3,-2.6,-5.3,-4.3M9.0,64.7q2.2,-0.7,4.3,-1.8M52.4,16.1q-0.8,-3.5,-2.6,-6.5M92.0,15.4q-4.7,-1.1,-9.3,-2.7M57.0,61.2q-1.9,-1.7,-3.7,-3.4M51.9,136.3q2.3,-1.0,4.7,-1.8M38.5,92.0q-1.3,-5.2,-4.1,-9.8M89.4,132.0q-2.0,-2.2,-3.5,-4.7M-3.4,35.6q-1.7,-4.3,-2.6,-8.9M-3.9,136.4q2.9,-2.3,5.5,-5.0M129.5,102.3q0.9,-2.1,1.9,-4.1M142.4,63.4q2.4,-4.0,4.1,-8.3M41.6,62.6q-1.3,-3.6,-3.6,-6.7M129.4,1.9q-1.2,-4.0,-2.0,-8.1" stroke="#58e06c" stroke-opacity="0.85" stroke-width="0.85" fill="none" stroke-linecap="round"/></g><path d="M116,129.7H133.6" stroke="#35e83a" stroke-width="1.6"/></svg>
<svg x="375.8" y="351.8" width="141" height="140.4" viewBox="0 0 141 140.4" overflow="hidden"><rect width="141" height="140.4" fill="#04350f"/><g filter="url(#bl2)"><path d="M103.7,101.3l3.6,-1.7M114.4,116.3l-3.8,-1.4M138.7,130.7l1.9,-3.7M133.6,136.1l0.6,-4.1M139.5,88.9l1.7,-1.1M-3.6,125.2l-1.5,-2.7M6.1,37.1l-3.2,-2.7M95.8,146.2l-1.6,-1.6M33.9,31.4l3.8,-0.3M88.8,19.8l2.1,-2.2M3.1,101.4l1.2,-2.9M16.5,6.2l0.2,-3.0M25.9,123.4l-1.3,-2.0M15.3,61.4l2.0,-1.3M105.6,55.8l-3.5,-2.6M14.7,81.6l-2.1,-0.1M47.1,139.6l3.8,-1.8M67.0,76.4l4.5,-0.3M36.5,125.4l-3.2,-0.8M12.7,121.6l0.4,-4.3M56.8,78.7l4.0,-0.5M41.5,53.8l-3.5,-1.3M123.3,75.1l-0.9,-4.2M74.6,25.3l-1.7,-3.8M143.6,80.7l3.7,-1.7M73.6,112.3l-3.5,-2.2M122.4,101.5l-0.9,-3.2M62.8,-0.3l-2.2,-3.0M22.8,20.3l1.8,-4.0M109.5,29.8l-2.0,-0.8M106.3,107.4l-0.6,-4.1M129.4,100.5l2.8,-2.9M58.8,109.6l-3.5,-1.8M65.1,66.8l-0.5,-2.1M110.4,50.5l1.9,-3.1M15.2,53.7l4.5,-1.6M125.4,42.1l3.4,-0.6M135.9,61.0l0.0,-4.6M54.1,136.9l-0.9,-2.2M11.9,91.3l2.4,-4.2M17.5,102.7l4.3,-2.5M26.9,64.5l-2.3,-1.0M-2.1,114.6l-1.9,-1.0M39.9,9.4l-3.3,-0.6M2.3,13.0l-4.2,-1.7M83.7,137.2l-0.4,-2.7M73.6,86.1l-0.1,-4.0M1.9,18.7l2.0,-0.5M6.1,55.8l-2.7,-1.3M124.9,65.5l2.8,-0.0M76.3,35.9l-1.0,-2.5M34.1,80.9l2.7,-2.0M-4.7,85.8l0.7,-3.0M95.1,88.8l-2.5,-3.5M51.1,113.4l0.2,-2.8M18.1,16.4l2.7,-3.4M84.2,98.6l2.4,-3.7M79.3,55.8l-3.1,-3.4M65.0,90.9l-4.1,-1.0M123.3,132.8l0.6,-3.0M139.5,37.3l-1.1,-1.7M96.9,89.9l-0.7,-4.2M84.6,76.0l0.7,-2.7M2.8,83.3l0.2,-2.9M61.6,137.6l2.5,-0.3M105.3,21.0l1.6,-1.4M69.1,26.3l1.8,-1.8M140.5,142.0l2.9,-3.6M71.1,33.5l-3.5,-1.5M74.3,63.1l0.5,-2.7M-4.8,23.0l2.5,-1.5M79.5,15.4l-0.1,-3.5M80.8,79.5l3.6,-0.7M142.6,108.6l0.3,-2.0M68.0,79.1l-0.7,-2.0M69.1,18.7l-3.9,-0.5M18.2,76.1l1.2,-4.6M131.0,106.3l-2.5,-2.2M71.1,52.8l3.8,-0.7M46.7,113.7l-0.4,-4.1M28.7,138.0l0.4,-4.3M50.2,136.7l0.9,-2.5M17.4,44.5l-1.1,-1.9M59.8,84.5l2.1,-4.2M-0.6,123.8l3.3,-1.6M-5.5,73.9l1.9,-2.9M123.7,101.7l2.7,-2.3M7.2,15.8l0.3,-3.0M10.3,17.8l-1.7,-3.2M105.7,86.3l2.5,-3.3M51.4,28.7l-3.5,-2.2M22.6,123.2l0.9,-2.1M109.3,38.7l2.4,-0.5M116.2,45.4l0.6,-2.0M112.6,40.9l-1.6,-2.5M72.3,59.7l-3.2,-3.8M119.8,53.7l-1.7,-1.2M135.8,8.1l3.0,-2.5M26.7,132.2l1.3,-4.1M68.2,108.8l-1.8,-3.1M116.3,12.0l-0.1,-3.3M39.2,28.9l3.0,-0.8M37.0,103.0l-0.1,-2.2M55.4,7.9l1.0,-2.0M79.8,27.7l0.1,-3.3M38.4,95.8l3.6,-2.7M98.6,126.3l-3.1,-3.8M84.6,70.2l1.8,-3.8M55.0,95.7l3.1,-3.4M44.9,72.1l-4.3,-0.7M111.9,142.5l-1.2,-1.9M77.9,-0.0l-3.5,-3.3M11.1,123.0l-2.1,-1.6M-1.6,125.9l-3.7,-0.0M74.1,45.0l0.5,-4.5M6.0,83.8l0.6,-3.1M57.1,0.3l3.6,-3.0M36.4,134.1l-4.0,-2.1M111.6,81.7l-4.5,-1.4M36.7,26.2l2.3,-0.8M119.6,56.8l1.8,-1.1M70.8,123.0l1.8,-2.4M39.3,97.1l-3.3,-2.3M27.2,111.6l0.1,-3.4M61.7,78.1l1.1,-2.7M33.6,54.2l0.2,-4.2M43.1,13.4l1.0,-1.7M140.6,67.2l2.0,-3.1M11.6,28.7l1.1,-2.2M142.1,143.5l-3.2,-0.7M39.4,66.8l1.9,-2.2M2.9,37.5l0.9,-4.8M95.0,104.4l-0.0,-3.4M133.8,67.9l-0.2,-3.5M20.4,10.4l3.6,-1.1M144.8,45.2l1.7,-2.3M57.9,7.8l4.0,-0.1M131.8,73.2l-2.0,-0.6M111.0,128.4l1.1,-4.5M12.9,88.4l-2.1,-2.1M7.7,38.9l4.6,-1.8M133.9,122.0l3.6,-0.7M-2.9,26.5l1.8,-1.1M27.1,46.5l-2.7,-2.5M25.1,41.0l-0.2,-2.8M50.6,84.4l-0.5,-4.2M99.4,123.2l2.0,-3.5M146.5,123.3l-3.5,-1.2M78.9,12.1l2.4,-1.7M98.4,52.7l-2.5,-2.5M43.6,0.7l1.9,-1.4M104.3,91.2l-2.7,-0.1M108.3,53.1l3.0,-3.4M61.9,14.9l-2.2,-2.8M110.2,93.4l-1.4,-3.3M85.2,52.3l-3.0,-1.3M104.2,38.2l-2.5,-3.1M21.1,73.8l0.3,-2.2M114.3,119.6l2.3,-2.9M75.1,112.9l-1.5,-3.1M116.0,86.0l-1.0,-2.7M94.2,1.1l1.1,-2.3M69.3,115.4l2.5,-1.3M93.0,12.4l2.8,-1.5M52.5,64.8l-0.2,-4.7M89.0,49.9l2.5,-1.0M140.9,145.1l2.6,-2.0M81.9,130.6l0.4,-3.1M57.6,72.0l-2.1,-2.5M33.0,38.4l-2.9,-1.4M101.5,108.4l4.8,-0.5M38.3,139.4l2.9,-0.5M6.6,33.8l4.5,-1.3M75.8,30.1l2.0,-2.8M65.7,144.0l-1.2,-1.6M104.4,119.9l-1.8,-4.0M69.4,62.8l-4.6,-1.2M28.3,79.4l2.7,-3.7M124.1,139.9l3.7,-2.4M121.7,85.3l-4.3,-0.7M14.4,98.2l2.7,-2.6M12.4,118.8l-3.1,-0.2M28.9,38.8l2.3,-0.2M21.0,144.7l-3.0,-0.3M130.1,54.3l1.6,-1.5M53.7,82.5l-2.4,-0.8M16.9,129.1l-2.2,-2.9M34.0,110.1l-1.6,-2.9M52.9,28.1l0.7,-3.7M11.3,35.3l2.5,-0.7M12.9,40.7l0.7,-4.2M21.2,3.7l2.4,-1.6M132.7,134.6l0.2,-3.9M68.2,73.2l-0.1,-4.3M128.9,65.0l-0.6,-2.6M86.1,83.1l-0.1,-2.8M139.6,105.1l1.8,-2.9M26.6,15.1l1.7,-3.9M93.3,134.3l3.1,-0.6M25.6,97.9l4.3,-1.9M19.1,59.4l0.8,-3.1M128.1,45.1l-3.1,-2.8M50.4,21.2l2.4,-2.9M42.3,131.3l2.3,-0.0M89.9,125.6l1.5,-1.5M36.7,36.5l-1.1,-2.5M114.6,65.4l3.9,-1.2M100.4,4.7l3.6,-3.0M74.8,134.0l-2.2,-0.8M-4.6,49.8l3.3,-2.3M139.0,122.1l2.4,-2.8M29.7,9.7l-0.3,-2.3M62.9,134.9l-1.8,-4.0M133.0,42.0l-4.0,-1.3M108.7,99.8l-1.5,-3.7M138.6,46.3l1.9,-2.8M87.7,110.9l-2.8,-0.3M112.7,86.0l-4.1,-0.8M114.3,26.5l1.8,-2.1M57.9,78.9l4.0,-1.2M94.5,108.8l2.9,-0.0M48.4,35.5l4.9,-0.8M135.0,28.6l-1.7,-2.8M96.9,70.3l3.9,-2.4M-1.7,111.9l4.8,-1.0M95.1,46.8l-0.3,-3.0M68.4,131.5l-2.2,-1.8M69.3,9.3l-2.0,-1.4M61.3,66.2l-1.0,-3.1M147.3,22.2l-3.9,-1.6M109.7,17.2l-2.7,-2.6M138.1,119.9l-4.0,-0.8M19.6,11.0l1.3,-2.8M85.5,30.2l1.3,-3.5M107.7,23.6l-4.5,-0.4M131.4,96.6l0.0,-3.0M1.6,-0.1l-2.9,-3.2M128.4,117.6l-1.9,-2.7M42.0,82.1l-3.2,-0.0M59.8,27.4l3.3,-0.9M86.3,89.0l-1.6,-3.1M17.9,91.0l-2.5,-0.9M118.0,80.0l-2.6,-0.6M15.2,77.9l0.5,-2.4M10.0,47.9l4.1,-0.3M112.0,60.9l0.9,-2.7M58.3,125.1l-3.1,-1.3M66.3,57.8l3.3,-3.5M103.2,98.0l-4.2,-1.5M61.4,33.6l3.4,-2.7M90.8,116.4l2.2,-3.8M13.5,134.4l1.9,-3.4M29.3,137.3l1.8,-1.2M59.4,64.6l1.7,-1.1M59.2,68.8l-4.4,-1.8M19.3,54.6l4.1,-2.7M133.7,132.0l0.2,-4.2M-4.1,19.6l0.7,-2.0M10.1,5.4l-1.7,-4.0M-0.1,88.6l2.0,-4.2M72.4,7.0l4.0,-1.6M107.9,119.6l0.0,-2.2M29.9,118.6l0.3,-3.0M70.9,96.9l3.4,-2.2M48.0,106.1l3.8,-2.2M142.2,137.0l-2.8,-0.4M98.5,78.6l-1.8,-3.2M-3.5,146.3l-2.3,-2.6M45.0,7.4l1.9,-4.4M115.9,18.1l-4.2,-1.3M100.9,136.2l-2.1,-3.3M125.0,28.0l-3.4,-1.2M140.2,-2.9l-1.4,-2.5M55.9,44.4l-2.2,-3.7M47.9,62.0l3.0,-2.6M36.2,12.2l-0.6,-2.7M76.5,71.8l2.2,-0.6M29.1,98.0l1.9,-3.5M86.7,125.2l0.4,-3.5M50.4,55.4l-1.5,-2.6M71.8,-1.6l-2.6,-2.9M113.8,25.8l1.3,-4.0M120.4,72.0l-2.6,-2.3M19.7,20.0l-1.1,-3.7M131.5,88.1l1.4,-2.5M100.4,85.2l3.5,-0.3M27.7,33.8l-2.7,-1.9M145.3,18.7l0.9,-3.6M65.1,126.7l-0.9,-3.9M76.3,23.2l3.2,-1.1M10.2,138.9l2.4,-1.5M57.7,139.4l2.4,-4.0M119.8,95.1l-1.1,-2.0M143.6,86.8l-2.6,-1.6M107.1,57.1l-4.9,-0.8M92.2,12.2l3.0,-1.2M121.2,40.5l2.6,-4.0M144.1,77.3l-3.5,-1.7M71.4,4.6l1.9,-2.1M127.9,71.0l-0.9,-2.7M22.8,49.7l-4.1,-0.3M8.2,1.5l-2.0,-0.5M26.4,7.5l-1.8,-2.0M96.2,27.9l-3.8,-0.0M85.8,66.6l1.3,-4.6M0.2,62.9l-3.0,-1.4M122.5,129.0l4.2,-0.1M80.7,42.7l-3.6,-1.2M59.0,52.7l1.7,-1.2M-4.8,6.0l3.1,-1.4M117.8,114.0l-1.1,-1.8M58.9,24.9l-0.5,-3.6M140.1,80.3l-2.9,-0.6M81.0,22.7l1.1,-3.8M83.6,45.0l-0.6,-3.1M121.1,80.9l3.4,-3.0M23.3,0.9l0.1,-3.3M27.1,49.8l-1.8,-2.8M94.1,45.8l-2.3,-1.4M106.2,-1.7l-1.4,-2.0M140.0,13.7l0.3,-4.4M89.5,2.9l-3.5,-2.4M72.0,40.5l4.1,-1.0M124.8,108.3l-0.7,-3.7M46.4,124.9l1.1,-2.0M24.3,111.8l-4.5,-1.2M107.0,76.0l-2.3,-3.9M56.8,15.6l-4.6,-0.7M80.8,129.5l-4.0,-0.7M90.8,18.4l1.2,-4.5M123.7,13.6l-1.8,-2.8M100.8,94.6l-2.8,-3.4M27.1,73.2l1.0,-2.4M50.8,-3.2l4.4,-0.4M32.9,94.3l2.5,-3.4M49.9,48.6l-1.1,-3.0M74.3,95.5l3.5,-0.8M7.4,62.8l-3.4,-3.4M36.6,117.0l2.9,-0.4M45.8,61.6l-4.3,-0.7M119.4,128.5l-3.0,-2.9M81.2,142.1l2.8,-1.7M-5.3,40.8l2.6,-3.4M113.6,21.0l4.5,-1.3M132.0,93.8l2.0,-1.5M8.7,132.6l-4.3,-1.7M36.3,16.4l-2.5,-4.3M19.7,42.3l-2.3,-2.3M117.0,138.1l-3.4,-0.3M125.8,17.5l-1.8,-2.2M95.6,78.2l2.8,-2.2M39.6,51.4l-1.0,-3.0M128.8,74.8l-3.5,-0.8M77.0,107.9l-3.2,-1.7M98.3,7.6l3.4,-3.3M127.9,120.5l2.3,-2.8M52.7,58.5l0.4,-2.2M124.6,96.4l-4.2,-2.0M-4.3,30.8l-1.4,-1.8M2.9,107.3l1.7,-4.2M139.2,4.8l1.8,-2.7M95.1,7.3l1.6,-2.9M95.1,36.7l-1.7,-4.3M-0.6,133.3l-1.8,-2.9M40.6,93.8l2.8,-0.4M19.7,14.5l2.7,-1.3M21.1,32.7l-1.8,-2.3M88.1,60.4l2.8,-3.6M67.2,5.7l4.5,-0.6M112.5,52.9l4.3,-1.6M124.2,72.7l-1.7,-2.4M107.9,145.9l3.6,-0.1M89.0,116.3l-2.9,-0.7M5.2,69.6l1.7,-1.7M125.4,127.4l-4.2,-1.2M15.3,3.7l-2.5,-1.2M56.9,47.0l-3.0,-0.9M113.5,87.7l0.2,-2.3M42.8,59.3l2.6,-0.8M26.5,81.5l2.9,-1.5M32.7,51.1l-1.7,-2.1M52.3,10.3l-2.0,-2.0M94.0,123.8l-4.2,-2.2M21.2,88.3l-3.0,-0.0M125.2,121.1l4.4,-0.4M112.4,96.5l3.4,-0.2M107.8,46.3l-3.5,-2.0M10.9,47.7l-1.5,-4.0M138.7,144.3l-3.0,-2.4M88.2,64.3l3.1,-2.3M33.3,129.1l-3.2,-3.8M-0.3,81.6l1.1,-2.7M106.9,4.9l2.8,-0.5M41.3,115.8l1.5,-3.0M66.7,118.5l0.5,-2.1M77.4,5.0l3.1,-3.2M140.2,57.7l2.4,-2.1M47.3,57.6l0.1,-2.7M21.4,136.9l3.0,-3.9M67.2,51.4l0.5,-4.9M26.0,29.0l-4.0,-1.1M20.2,141.4l-3.3,-1.1M6.5,21.7l4.7,-1.1M109.6,124.9l0.9,-2.8M119.8,124.8l-2.9,-1.5M95.3,98.3l1.5,-4.7M95.4,132.0l-3.0,-0.8M71.8,32.1l3.5,-3.4M130.9,3.0l2.6,-0.6M105.4,30.9l-2.3,-2.3M60.3,46.7l1.3,-3.3M73.0,82.2l2.4,-2.5M94.5,105.3l-0.4,-4.1M54.3,97.6l2.6,-4.2M76.8,50.0l-2.8,-1.3M16.0,132.7l3.5,-0.4M103.7,101.3l-4.6,-0.3M81.8,31.1l3.3,-1.1M127.8,33.3l1.3,-3.0M64.1,101.8l-1.7,-2.7M136.8,64.6l2.7,-1.5M85.1,12.3l-2.2,-0.9M52.5,54.5l2.1,-0.1M47.3,25.1l1.7,-3.9M25.7,62.7l-1.8,-2.5M11.3,10.1l-1.3,-3.5M72.7,133.0l-3.2,-0.9M41.3,125.6l3.0,-0.9M121.2,84.8l1.9,-0.6M63.2,135.4l3.0,-1.6M87.7,15.7l-3.0,-1.0M-1.5,16.7l1.4,-1.9M139.3,114.1l4.1,-2.1M34.9,71.4l-3.1,-0.8M67.0,48.0l-1.3,-3.1M24.9,54.9l4.1,-1.9M19.4,23.0l-1.4,-1.6M10.7,109.1l2.3,-0.9M97.3,112.7l4.6,-1.6M46.7,23.1l-4.7,-0.1M31.9,104.9l1.2,-2.1M86.2,127.7l-3.2,-0.3M79.5,69.7l1.8,-4.4M38.8,106.0l-0.8,-4.5M40.4,32.3l-2.1,-0.1M58.7,38.9l-2.3,-0.7M79.5,92.4l-0.4,-2.1M12.4,53.8l2.5,-3.7M78.1,57.7l-2.4,-2.8M86.1,115.5l-3.7,-2.8M142.5,9.0l-2.1,-3.7M111.0,30.5l-2.0,-1.3M-4.8,136.3l2.7,-4.1M81.1,105.5l-1.1,-2.7M26.2,113.3l-2.9,-0.7M32.3,24.4l-4.5,-0.9M140.7,141.0l-2.6,-0.9M80.9,39.2l3.2,-3.1M116.2,16.4l-4.4,-2.4M75.2,118.3l0.6,-4.9M33.7,87.0l3.4,-0.0M114.1,135.2l1.8,-2.2M83.4,146.1l-1.3,-1.6M127.4,37.5l-1.9,-3.3M100.2,69.1l-0.6,-3.1M38.0,56.4l-0.3,-2.9M59.0,22.6l0.4,-4.2M47.5,89.1l2.9,-1.8M143.0,43.0l-2.9,-1.7M63.5,107.8l0.4,-2.2M22.6,23.2l-1.1,-3.1M101.2,88.2l-2.7,-0.0M141.3,33.6l-1.4,-2.0M96.3,139.5l-2.1,-0.3M1.4,48.6l3.9,-3.0M85.3,48.7l-3.0,-0.2M78.2,114.5l0.4,-3.2M49.8,144.3l-1.1,-2.5M78.5,33.1l-0.6,-4.2M99.5,28.8l-1.4,-1.7M87.4,97.3l3.8,-0.3M23.6,93.7l4.7,-1.2M144.7,1.4l1.6,-2.6M125.1,22.1l2.5,-1.6M141.3,37.8l0.8,-3.5M16.0,80.1l1.9,-1.1M73.0,19.5l0.6,-3.2M14.3,9.7l3.2,-3.7M35.4,117.8l-0.5,-4.4M10.8,115.3l2.3,-0.2M93.0,72.7l2.2,-2.8M124.0,46.9l-2.7,-1.0M-0.6,36.6l-1.9,-0.9M15.1,-1.8l3.5,-1.6M127.5,27.6l-2.9,-0.7M60.0,117.4l-2.5,-0.0M89.4,102.7l-3.4,-2.0M44.0,107.9l-2.1,-4.2M35.5,82.7l-3.9,-2.4M101.3,43.0l-1.4,-2.9M89.5,101.6l0.9,-1.9M66.5,123.8l-2.8,-0.9M128.4,64.8l3.5,-1.9M136.7,49.3l-1.8,-2.7M136.1,75.9l-0.7,-3.2M128.8,36.3l2.0,-0.3M139.8,50.5l1.5,-2.3M139.4,92.0l0.3,-2.6M10.1,92.3l-1.0,-4.3M111.9,114.0l-2.5,-1.6M142.9,120.0l-2.8,-2.8M57.0,103.4l1.6,-2.4M-3.6,0.1l4.2,-1.0M40.5,81.6l-1.3,-4.5M15.7,55.8l-2.2,-0.8M116.2,11.9l-1.6,-3.9M120.1,146.0l-3.6,-2.2M133.9,70.5l4.3,-1.7M127.8,8.4l0.7,-4.9M56.0,114.4l4.9,-0.7M126.2,136.1l-2.0,-0.4M27.9,76.3l3.1,-2.9M77.4,111.7l-3.8,-0.3M121.7,116.2l1.1,-3.0M67.8,43.7l-0.8,-4.4M136.8,53.2l1.3,-1.8M69.3,104.4l-2.2,-2.7M68.6,89.4l0.2,-2.7M8.7,43.4l3.2,-3.3M14.8,34.8l1.8,-3.9M53.9,40.1l1.4,-1.8M72.9,17.0l4.0,-1.5M15.2,46.8l-1.3,-1.7M24.7,73.2l-1.5,-4.3M111.5,133.1l4.9,-1.1M118.2,15.6l-1.7,-1.1M43.0,35.7l-4.3,-2.0M101.2,138.6l-1.8,-0.9M-0.6,102.6l-3.6,-2.9M138.6,30.5l2.2,-3.5M25.0,91.9l-3.0,-0.6M54.1,111.7l-1.1,-2.2M132.4,146.1l-4.5,-1.4M103.9,71.7l3.3,-2.6M75.1,102.6l-2.5,-1.2M100.1,47.0l-1.6,-2.7M134.6,127.7l-3.3,-1.9M41.7,119.1l-0.8,-4.0M9.6,83.7l1.5,-3.4M108.1,36.6l1.4,-4.6M82.2,37.9l-4.9,-0.2M44.5,-0.9l-1.8,-3.3M33.3,62.2l2.3,-2.4M139.3,107.7l2.0,-1.1M86.6,0.3l-3.2,-1.3M2.2,126.4l2.5,-3.0M70.1,117.0l-2.3,-0.3M2.1,48.6l4.0,-2.3M54.1,6.0l0.8,-4.7M13.2,65.1l-3.9,-3.0M106.7,6.4l-2.1,-2.4M12.6,71.9l1.7,-1.4M16.4,118.2l3.1,-2.9M-1.3,139.5l-2.0,-4.0M108.1,130.0l-0.6,-4.0M125.4,-1.6l4.8,-1.1M59.7,41.1l1.3,-1.9M101.4,104.9l-1.4,-3.3M85.2,61.8l-1.3,-2.4M90.1,5.3l1.9,-4.3M75.7,94.3l1.8,-3.9M21.7,50.9l3.4,-1.5M101.6,53.9l1.1,-2.4M63.2,-1.8l1.9,-0.9M90.6,85.3l2.0,-0.9M4.1,44.3l-1.9,-1.8M58.1,34.6l1.4,-2.0M20.9,45.2l2.9,-0.1M131.4,26.7l2.2,-1.7M103.1,32.3l-3.7,-1.2M23.6,58.1l4.7,-0.7M16.0,67.7l-2.1,-0.5M10.3,68.2l-2.2,-0.8M7.6,102.6l4.0,-0.1M108.8,68.8l-0.5,-5.0M38.5,132.0l0.4,-2.4M76.0,134.5l3.3,-0.3M16.6,109.3l-1.5,-1.8M85.5,84.9l-3.6,-3.4M118.9,131.6l1.4,-3.7M6.3,13.8l0.1,-3.4M13.5,145.1l0.5,-3.5M33.2,122.7l-2.0,-3.6M44.5,32.0l0.1,-3.8M75.2,146.9l-3.2,-2.1M56.5,123.6l0.2,-4.4M137.1,24.5l-0.1,-2.9M117.6,112.2l-1.3,-3.1M98.3,93.8l0.1,-3.6M122.8,95.7l0.9,-3.2M107.5,0.9l1.4,-1.7M0.9,35.1l-0.7,-3.4M46.8,94.6l-4.6,-0.2M43.0,86.6l1.3,-2.1M-6.3,109.0l3.0,-1.3M7.1,145.9l-1.9,-1.8M72.5,61.8l0.0,-2.9M147.0,65.3l-2.6,-3.0M5.3,2.1l-4.0,-1.4M100.5,37.4l-2.2,-1.6M29.2,-2.0l1.1,-2.0M134.7,63.4l0.0,-2.4M10.5,107.5l1.3,-3.4M24.5,103.8l-4.2,-1.7M115.7,38.2l2.9,-1.0M135.1,139.2l-1.1,-2.2M105.4,132.9l-1.8,-2.2M79.6,123.0l-1.1,-2.1M72.2,92.3l-3.5,-0.8M103.4,78.9l1.6,-2.9M12.3,91.3l2.8,-0.4M120.8,-4.0l2.1,-1.3M54.3,32.9l-2.1,-1.5M4.6,81.0l3.2,-1.6M145.2,101.6l-3.9,-1.3M135.1,15.0l-1.6,-2.5M126.1,125.9l0.2,-2.3M131.9,102.0l2.7,-1.9M2.0,66.9l-3.7,-1.0M58.8,106.6l-1.0,-1.9M123.2,9.0l1.4,-2.6M124.1,35.1l-3.9,-0.4M-3.5,119.6l-2.4,-3.8M67.0,27.0l-1.1,-4.4M61.2,47.1l4.8,-0.5M95.1,13.4l2.3,-0.3M81.3,18.2l-2.3,-0.6M77.1,76.8l-4.2,-2.5M69.5,25.8l0.7,-3.4M91.4,76.1l-1.9,-4.4M95.2,118.6l2.5,-0.9M9.0,46.9l-2.2,-1.7M102.1,82.1l0.5,-2.0M89.5,56.7l2.3,-2.7M71.9,52.0l-0.5,-4.4M63.6,73.1l0.2,-2.6M87.2,72.8l2.0,-0.2M147.1,-0.9l-2.3,-1.8M144.1,107.8l-4.0,-3.0M0.3,66.4l-4.9,-0.1M2.2,29.7l1.2,-3.2M62.9,113.9l1.9,-1.3M86.7,24.5l4.4,-1.5M49.5,15.2l1.3,-1.8M48.4,97.8l3.4,-1.3M21.5,127.9l-2.0,-0.1M37.8,146.7l2.4,-1.8M39.1,0.1l4.6,-1.1M52.9,94.7l1.8,-4.4M97.6,128.3l1.4,-1.5M38.6,62.2l0.0,-2.9M144.6,119.3l-2.0,-4.1M120.7,117.8l-3.1,-1.7M40.6,102.4l-0.9,-4.6M50.3,98.6l3.9,-1.9M32.1,60.9l-4.7,-1.3M15.1,101.3l-0.0,-3.9M50.9,52.5l0.8,-2.9M107.5,46.8l2.4,-1.5M99.6,18.2l-1.5,-2.3M124.2,79.9l1.0,-4.8M85.8,55.4l2.7,-3.6M33.7,27.4l-2.2,-0.5M10.2,7.4l2.2,-1.5M134.7,18.7l-0.5,-2.4M94.4,33.9l1.0,-4.0M107.8,59.2l0.7,-2.5M-3.5,76.9l4.3,-0.8M67.7,91.6l0.9,-4.3M22.2,36.8l2.0,-1.0M28.9,2.3l-2.8,-3.5M68.1,55.4l-4.1,-2.9M78.9,68.1l-4.7,-1.7M-2.8,56.8l-2.9,-1.6M24.0,99.9l2.5,-0.4M17.1,123.5l-4.1,-0.8M75.3,141.6l-2.3,-3.9M111.8,7.9l3.0,-1.0M104.0,69.3l-1.7,-2.0M61.7,37.1l-0.8,-1.9M104.3,144.8l2.5,-1.0M52.3,117.0l-1.8,-2.0M138.2,97.2l2.5,-2.6M129.7,66.3l1.2,-3.0M28.4,19.8l-4.1,-2.5M35.9,74.0l2.8,-1.6M5.8,141.0l3.9,-0.6M32.5,58.7l1.6,-2.9M44.3,78.6l-1.1,-2.0M13.8,29.1l2.8,-0.9M119.4,91.6l-1.2,-3.9M95.7,39.6l-3.1,-1.1M41.6,7.8l-2.8,-1.4M2.2,5.6l1.5,-1.9M147.6,72.8l-3.4,-1.9M88.2,30.7l3.4,-1.5M146.8,96.7l-2.0,-2.6M65.0,1.1l-3.5,-0.4M15.4,114.8l-0.1,-2.7M120.6,135.8l-4.4,-0.3M119.5,74.1l0.5,-2.1M83.0,125.1l-3.0,-2.4M139.4,126.3l-3.4,-1.8M44.7,101.3l1.5,-3.2M82.4,69.5l-2.2,-1.0M0.5,75.9l2.2,-0.4M107.7,108.8l1.1,-2.1M31.1,104.3l0.6,-3.2M130.3,86.8l-4.6,-1.6M52.0,10.4l-2.0,-3.8M39.3,124.2l-2.0,-0.1M8.6,18.6l-3.5,-1.7M132.9,17.2l0.2,-2.8M88.0,125.6l0.4,-2.2M65.9,85.8l1.0,-1.9M40.4,23.0l-2.0,-0.5M5.3,73.2l-3.5,-1.3M-1.9,80.1l-0.6,-2.7M5.9,127.8l-3.3,-2.7M2.3,133.3l2.5,-0.5M90.7,30.2l1.4,-3.8M32.9,67.9l-1.9,-3.4M72.9,81.7l-1.0,-1.8M73.3,88.1l3.6,-1.8M7.8,9.3l-0.7,-4.6M10.1,136.0l1.0,-2.4M39.7,18.3l-2.1,-3.7M58.1,75.2l-1.9,-1.6M67.4,40.6l3.8,-0.4M51.9,70.9l3.4,-1.9M4.6,112.7l2.2,-2.2M107.0,1.6l-4.0,-2.5M22.3,6.0l-0.4,-4.1M11.8,106.9l4.6,-0.3M113.7,143.7l0.7,-2.0M57.5,15.1l3.3,-0.9M102.9,49.1l3.9,-1.0M86.5,4.8l0.3,-2.3M130.9,141.8l-2.7,-1.1M77.4,58.1l2.6,-0.7M40.1,129.7l-0.7,-2.8M58.5,90.4l0.7,-3.0M-1.1,53.4l-2.5,-1.3M34.0,120.7l2.3,-0.6M111.6,131.7l-1.4,-3.6M21.4,123.9l-3.8,-1.0M56.7,37.3l-0.5,-2.7M93.5,80.4l-4.4,-2.0M39.9,59.3l3.6,-3.5M89.2,110.8l3.5,-2.8M79.1,143.3l2.4,-4.0M11.3,132.9l-3.2,-1.3M57.2,146.4l-2.7,-1.3M50.9,69.3l0.6,-2.2M141.1,100.8l-3.9,-1.5M15.5,35.9l3.1,-2.0M98.7,146.4l0.7,-2.8M140.1,17.6l-4.4,-1.1M115.2,103.8l3.0,-1.7M88.8,94.2l1.9,-1.8M86.9,-1.6l-1.0,-3.3M89.4,9.7l-2.7,-1.7M63.4,88.5l-0.7,-3.7M55.7,129.0l-1.9,-2.3M95.9,62.0l1.7,-1.4M87.0,16.5l-4.0,-1.8M13.8,50.2l2.2,-0.8M132.0,86.1l-2.6,-1.9M126.0,56.3l3.9,-0.5M72.8,131.3l0.6,-2.3M7.2,26.7l0.4,-3.7M88.1,133.8l2.1,-1.6M116.8,1.3l-1.2,-3.2M79.0,111.5l1.1,-2.8M69.5,104.9l-1.4,-2.7M36.7,40.3l-3.8,-1.0M116.7,39.1l2.8,-0.3M107.5,107.5l-0.5,-3.3M121.9,49.5l-1.2,-2.3M105.4,116.5l-1.8,-3.9M134.1,30.8l-1.2,-2.3M61.9,136.9l2.0,-3.8M16.0,9.9l-2.4,-1.9M132.2,69.2l-1.5,-1.4M19.1,27.8l1.2,-3.0M114.1,110.9l-1.2,-2.3M73.3,8.9l-4.9,-0.2M71.6,45.9l-2.4,-1.0M58.0,135.9l-4.9,-0.0M65.2,14.9l-1.2,-4.1M137.0,99.0l-4.2,-2.0M131.7,108.9l-2.1,-2.4M133.9,105.3l1.1,-3.0M116.4,62.2l3.6,-1.9M82.9,23.2l-0.0,-2.2M12.3,75.5l-1.9,-2.6M135.7,36.4l-2.1,-0.6M94.1,93.1l-1.3,-1.9M0.4,106.3l-1.1,-3.3M113.4,36.5l-0.2,-2.4M123.1,52.1l-3.4,-1.5M37.1,23.0l-0.5,-3.7M105.5,124.1l-2.1,-1.0M71.9,84.7l-2.7,-3.8M30.2,65.4l-4.0,-0.1M111.3,33.6l2.4,-1.3M13.6,79.2l3.4,-2.2M61.2,9.4l-3.3,-2.3M49.0,112.9l1.9,-3.6M123.8,124.6l-2.1,-2.2M14.9,24.9l-2.4,-0.1M130.6,80.4l0.8,-2.0M54.1,140.2l0.9,-2.3M125.9,56.1l0.1,-2.0M61.9,123.7l3.5,-3.5M95.1,59.9l4.0,-2.8M37.8,111.7l-4.4,-1.8M6.3,110.8l0.2,-3.9M129.4,120.8l2.3,-1.0M4.6,41.8l-1.3,-1.8M18.2,111.0l-3.2,-1.2M121.0,106.0l0.4,-3.3M107.3,87.7l-2.3,-3.1M92.8,117.2l-1.6,-1.9M77.7,64.2l2.4,-2.5M27.0,113.5l-2.6,-0.7M33.9,6.3l1.6,-4.5M143.1,132.4l0.5,-4.5M82.9,106.8l3.3,-0.5M133.2,-3.7l-2.2,-0.2M88.9,4.5l3.4,-1.5M10.7,59.9l1.0,-4.1M11.4,139.0l1.8,-2.1M93.4,114.8l3.8,-2.2M27.5,90.1l3.4,-1.4M22.6,90.1l0.1,-4.5M130.4,143.4l-3.3,-1.5M144.0,56.9l1.4,-3.6M5.3,-0.4l1.7,-2.2M40.7,-2.3l-2.1,-1.1M146.0,4.8l-2.1,-0.3M78.8,84.2l-2.0,-3.6M102.6,-1.9l-0.1,-2.8M112.1,71.7l-2.7,-0.3M70.2,74.1l1.0,-3.3M110.7,52.2l2.1,-3.1M100.7,59.3l0.6,-4.7M107.4,137.1l4.0,-0.2M93.3,97.9l-1.1,-4.1M129.1,8.5l-3.4,-0.5M36.2,143.4l-0.4,-4.0M37.0,144.4l-3.9,-2.6M30.9,2.6l-1.6,-1.6M23.0,99.8l3.5,-1.3M53.2,103.9l-2.0,-3.0M44.6,18.1l-1.9,-2.2M77.6,128.2l-2.1,-0.4M7.5,97.2l1.7,-2.1M19.9,107.6l-2.3,-1.5M86.6,111.1l-2.3,-1.1M118.9,139.7l-2.0,-3.7M145.8,68.5l-1.3,-2.2M14.9,-1.3l1.2,-1.8M-1.6,91.0l2.6,-1.7M126.9,20.9l4.5,-1.5M4.8,99.4l2.9,-3.7M91.8,141.8l2.3,-3.7M26.7,73.7l-1.3,-1.8M135.1,13.4l-0.2,-2.5M112.2,80.8l2.5,-2.1M52.4,77.5l-3.0,-3.6M37.9,45.3l-0.4,-4.8M61.3,13.9l-1.5,-4.6M88.7,87.9l-1.7,-3.3M97.6,-0.6l-2.5,-2.3M142.1,76.5l-2.6,-0.4M95.3,133.0l-1.0,-3.7M124.4,62.2l-1.8,-1.4M133.2,46.5l4.0,-2.8M85.7,148.3l-0.1,-4.6M50.9,25.4l4.6,-1.4M132.1,59.4l-4.2,-1.4M146.1,16.4l-1.9,-3.1M1.6,14.5l-0.8,-1.9M51.8,1.2l2.7,-3.4M102.0,75.8l-2.9,-2.7M102.7,129.7l3.7,-1.9M113.3,65.0l2.6,-2.3M-0.2,101.6l2.2,-0.9M20.5,60.6l1.7,-4.0M49.4,32.1l-0.1,-4.1M16.7,136.5l4.0,-0.5M133.8,12.8l-4.1,-1.3M74.7,12.9l2.2,-3.8M37.2,59.7l-4.1,-1.8M123.6,21.0l2.3,-4.1M44.0,64.6l3.0,-0.0M68.1,94.6l-1.7,-4.4M134.4,125.8l4.2,-2.4M41.1,70.5l-1.2,-2.4M104.1,17.0l4.1,-2.0M55.8,90.3l-2.5,-1.5M8.0,87.7l-2.8,-2.6M15.4,136.0l2.3,-0.9M22.5,127.8l-1.0,-3.1M34.2,139.0l-0.1,-3.8M81.2,-2.2l-0.3,-4.9M89.0,38.7l-0.6,-3.9M100.8,25.3l2.6,-0.5M78.8,129.0l1.2,-2.6M-5.4,13.5l1.2,-3.6M81.8,10.1l0.3,-4.7M139.3,83.3l-4.2,-1.6M52.6,146.2l-2.1,-0.8M128.8,112.6l-1.6,-4.1M121.2,139.2l1.4,-4.1M27.1,142.7l-1.6,-2.8M48.9,125.7l3.6,-0.7M53.9,123.1l2.3,-2.6M133.4,24.0l-3.6,-0.0M59.2,64.3l-0.7,-4.8M-5.3,95.2l3.8,-1.8M4.8,34.9l0.1,-2.3M113.8,3.3l-4.0,-0.2M63.9,144.2l-1.1,-2.2M46.8,132.7l3.0,-2.1M104.4,31.3l-1.3,-3.7M127.1,50.1l-2.2,-2.7M121.0,110.7l0.3,-3.6M42.5,140.1l3.6,-0.8M0.0,40.3l1.4,-2.3M138.3,113.8l-2.3,-1.0M35.4,18.0l3.4,-0.9M117.3,-3.2l2.5,-0.4M3.9,52.2l-2.4,-0.5M89.9,58.3l4.9,-0.6M14.5,15.7l-2.6,-2.9M47.3,71.3l3.0,-1.3M91.9,32.7l0.0,-3.8M60.9,55.2l-3.0,-2.7M86.0,44.7l2.3,-0.2M29.0,38.3l-1.1,-3.8M34.6,83.9l0.2,-3.7M0.0,117.4l1.0,-2.6M69.3,4.8l-3.2,-0.5M94.8,42.0l0.7,-3.3M10.9,18.5l-2.6,-3.0M122.9,23.9l2.8,-1.0M36.3,69.0l-0.8,-3.9M120.7,1.1l2.6,-1.0M81.1,-3.2l0.8,-2.1M145.7,30.4l-1.0,-4.6M101.6,117.0l-3.4,-0.8M114.5,102.7l-4.8,-1.3M29.6,-0.9l-3.1,-1.1M85.1,93.9l-0.7,-3.7M26.1,10.7l1.4,-4.0M64.0,101.5l1.8,-1.2M102.0,10.4l-1.8,-4.3M-0.4,60.6l1.3,-4.2M50.0,-2.5l-1.1,-4.4M92.1,62.6l-2.6,-0.2M25.4,67.2l-1.0,-2.1M107.1,134.1l-1.8,-1.7M120.7,90.2l2.4,-2.6M21.0,34.8l0.0,-2.4M76.3,117.7l2.3,-2.1M45.9,90.3l-2.6,-0.6M142.7,74.3l-2.0,-4.2M96.6,19.8l-3.4,-0.2M33.9,2.1l0.1,-3.1M28.9,86.3l-1.7,-2.7M104.4,12.1l-2.2,-4.1M130.1,116.2l-0.3,-2.0M62.4,23.5l-2.2,-3.6M55.3,106.9l-1.7,-1.9M77.9,100.2l3.1,-0.7M31.6,140.7l3.1,-1.6M112.1,75.3l-0.5,-2.0M141.7,11.6l4.1,-1.7M62.9,128.5l-2.6,-0.1M106.4,75.9l3.8,-2.3M39.6,137.4l-0.6,-2.8M-4.2,90.4l3.5,-2.7M20.0,71.0l-3.8,-2.0M83.4,103.0l-0.7,-4.5M67.3,115.2l0.6,-4.1M133.7,42.3l-0.7,-3.4M5.6,118.7l-0.7,-2.7M129.8,91.9l-3.5,-0.8M35.4,50.4l2.4,-2.5M125.2,144.7l-1.9,-1.5M62.1,120.1l0.1,-4.6M140.4,23.8l-1.4,-2.0M103.2,112.3l-1.6,-3.2M15.3,22.2l1.2,-4.4M71.1,101.4l-3.5,-1.1M135.9,54.0l1.0,-4.4M24.5,118.2l-3.0,-0.9M119.6,48.7l-2.1,-0.9M93.3,104.7l1.5,-2.0M111.5,20.6l-3.2,-2.8M44.9,120.8l3.2,-3.7M31.3,144.4l2.2,-0.5M68.5,138.4l-1.8,-1.5M27.6,22.1l2.3,-0.7M112.1,104.0l-1.5,-4.3M138.2,78.9l-2.9,-1.8M29.2,115.3l0.7,-4.3M31.9,46.0l2.6,-2.0M92.0,20.4l0.1,-3.9M142.9,87.7l0.3,-4.8M45.5,11.8l2.0,-0.8M68.9,28.9l-1.8,-1.1M-5.7,-3.0l3.6,-0.9M0.3,46.2l-2.5,-2.1M114.6,106.4l2.1,-1.6M124.8,119.3l-2.1,-1.7M36.6,-2.4l0.8,-2.3M117.7,36.1l0.8,-4.6M6.9,142.9l3.2,-0.4M2.8,144.5l-3.7,-1.1M98.6,64.5l4.2,-1.3M39.3,88.9l1.5,-1.8M66.0,32.7l-0.8,-2.2M108.0,64.5l1.8,-2.3M122.2,33.0l-0.4,-2.2M118.4,6.6l-4.9,-0.3M56.6,84.8l-1.0,-3.1M10.8,126.4l-3.9,-0.9M49.3,91.7l2.2,-2.1M145.2,116.5l-1.2,-2.4M87.7,80.7l-2.5,-3.1M72.5,52.8l-1.3,-1.6M79.9,28.8l3.6,-2.4M76.1,121.8l1.3,-2.6M46.9,78.4l1.9,-1.5M60.4,4.2l-2.3,-3.1M143.7,31.9l1.3,-3.4M90.4,66.1l1.7,-1.4M104.0,141.9l-1.9,-1.2M3.9,139.8l-2.5,-3.6M98.5,64.8l-3.0,-1.2M50.2,46.9l-0.3,-3.6M90.4,39.7l-2.4,-1.1M101.8,63.0l3.5,-2.2M133.8,88.3l3.4,-0.7M62.3,19.9l3.5,-1.1M64.0,1.2l3.8,-1.2M113.0,93.4l1.4,-2.6M144.0,91.9l3.4,-3.3M133.2,-2.0l1.3,-3.3M63.7,110.6l-3.6,-1.0M58.9,26.9l-2.7,-0.8M67.5,139.4l2.7,-0.7M102.0,133.0l-1.5,-2.2M143.3,60.4l-1.2,-4.8M70.9,145.7l-1.0,-1.8M93.4,36.1l-2.9,-0.4M57.3,48.6l-2.1,-2.0M142.2,125.2l4.2,-1.0M141.0,85.1l1.3,-3.7M101.6,125.9l1.1,-1.8M24.4,142.8l1.6,-4.4M5.8,65.7l-3.7,-2.6M33.7,107.6l2.1,-2.7M90.1,25.4l1.9,-2.4M69.9,13.4l-1.9,-1.9M43.0,28.8l3.3,-2.8M84.2,43.7l-3.3,-3.4M126.3,83.2l-0.3,-3.5M27.7,27.8l3.3,-3.6M89.3,106.1l0.8,-2.4M25.2,118.8l3.0,-1.3M79.8,8.0l-1.0,-2.3M112.4,46.6l3.0,-0.5M73.9,2.3l4.3,-1.4M113.9,-0.9l0.3,-2.9M45.7,56.4l-2.7,-4.0M130.2,34.3l-0.7,-4.0M53.0,35.9l2.5,-1.5M95.6,71.6l3.8,-1.9M119.7,67.3l2.8,-1.7M130.1,95.8l-4.1,-2.3M128.3,2.1l-2.8,-2.8M135.1,92.9l-2.4,-1.0M42.1,109.6l-1.8,-1.4M68.8,66.5l1.5,-3.1M47.4,41.1l-2.6,-0.1M46.2,5.1l2.7,-1.0M6.6,137.1l2.0,-0.5M28.0,39.7l1.0,-1.8M27.1,106.0l-0.6,-2.5M5.1,93.6l-1.6,-1.5M38.0,43.7l3.1,-3.7M112.5,10.2l-3.5,-1.2M66.1,77.4l0.0,-3.1M87.3,141.6l2.0,-1.4M22.6,97.3l-3.7,-2.8M-4.6,91.1l-0.5,-2.2M52.9,133.9l-1.6,-4.6M83.6,57.1l-0.2,-3.3M113.9,70.4l-1.2,-4.0M117.5,96.9l-0.1,-2.5M58.4,131.7l-1.1,-4.7M1.6,60.0l-3.7,-0.2M124.6,15.1l-0.6,-3.3M33.4,6.2l-2.3,-0.3M118.3,58.3l1.0,-3.0M23.4,79.8l-3.1,-3.8M2.6,28.7l3.2,-1.5M117.1,100.9l3.0,-3.4M87.1,116.2l1.4,-1.5M67.3,37.1l-1.8,-3.4M123.8,140.7l-0.2,-4.6M126.8,19.1l-4.9,-0.8M7.4,53.0l3.0,-0.6M115.5,124.4l-3.6,-2.6M30.2,132.6l1.6,-4.4M37.0,70.4l-4.9,-0.2M78.3,90.2l-0.6,-3.1M45.4,111.0l-0.8,-3.6M42.8,50.1l2.0,-2.1M23.1,145.7l3.6,-0.5M18.8,116.2l-1.6,-1.4M62.2,96.3l2.5,-2.0M140.4,51.7l3.0,-1.8M4.3,125.2l2.5,-1.9M146.3,42.9l-2.7,-1.2M107.9,-3.4l4.5,-0.6M79.7,75.8l2.6,-1.0M42.3,123.7l0.4,-2.7M112.3,88.1l-1.8,-1.5M23.6,97.6l3.0,-1.7M43.3,76.7l1.5,-3.5M71.4,127.1l1.6,-3.4M63.5,100.2l1.4,-3.4M93.8,51.0l3.1,-1.2M139.9,13.3l-3.8,-1.9M88.9,136.2l-2.9,-1.8M3.7,97.0l-3.2,-3.5M46.5,38.4l-2.6,-1.3M41.9,17.9l-0.4,-2.0M22.7,66.0l-4.6,-0.5M72.3,35.0l-3.5,-0.1M131.0,136.3l-2.3,-1.0M135.2,109.9l-3.0,-2.9M41.0,46.9l-1.8,-4.1M71.6,137.2l1.4,-3.2M18.4,86.0l-2.0,-2.0M47.7,68.9l2.8,-3.3M75.6,70.5l-3.2,-2.3M117.2,25.1l0.7,-3.5M96.6,25.3l-2.0,-3.0M78.6,80.9l4.2,-0.8M69.5,19.9l0.2,-3.0M78.6,97.3l-0.1,-3.4M61.2,59.9l-0.8,-2.0M5.1,59.5l0.3,-3.8M119.1,28.2l-3.4,-2.9M46.3,118.4l2.4,-1.8M79.4,50.9l-0.9,-4.8M41.7,46.6l2.2,-2.7M90.4,73.1l-4.4,-1.5M103.7,41.9l0.8,-2.5M49.6,19.4l-4.2,-0.8M48.1,115.9l3.2,-0.3M105.8,99.1l2.3,-2.8M128.7,4.2l4.6,-0.0M20.1,4.7l-0.7,-4.0M3.0,114.2l0.4,-3.3M89.5,-1.3l3.5,-1.9M30.3,91.6l1.0,-2.2M44.5,138.2l-1.9,-1.8M27.9,125.7l-2.6,-1.2M83.1,117.7l-2.4,-0.7M39.3,74.3l0.7,-2.4M9.2,-3.7l2.9,-1.6M12.7,70.8l-2.9,-3.5M134.5,2.1l-1.7,-1.1M100.6,52.4l0.3,-3.4M46.5,101.4l2.7,-0.2M50.0,42.0l2.0,-1.2M53.9,58.9l4.2,-1.4M89.1,51.4l1.1,-4.4M93.6,137.7l-0.9,-2.0M81.3,44.9l-0.2,-2.9M50.2,3.0l0.4,-3.2M46.0,89.4l-2.6,-4.1M76.8,146.2l0.7,-3.9" stroke="#0e6a20" stroke-opacity="0.45" stroke-width="1.8" fill="none" stroke-linecap="round"/></g><g filter="url(#bl)"><path d="M103.7,101.3l3.6,-1.7M114.4,116.3l-3.8,-1.4M138.7,130.7l1.9,-3.7M133.6,136.1l0.6,-4.1M139.5,88.9l1.7,-1.1M-3.6,125.2l-1.5,-2.7M6.1,37.1l-3.2,-2.7M95.8,146.2l-1.6,-1.6M33.9,31.4l3.8,-0.3M88.8,19.8l2.1,-2.2M3.1,101.4l1.2,-2.9M16.5,6.2l0.2,-3.0M25.9,123.4l-1.3,-2.0M15.3,61.4l2.0,-1.3M105.6,55.8l-3.5,-2.6M14.7,81.6l-2.1,-0.1M47.1,139.6l3.8,-1.8M67.0,76.4l4.5,-0.3M36.5,125.4l-3.2,-0.8M12.7,121.6l0.4,-4.3M56.8,78.7l4.0,-0.5M41.5,53.8l-3.5,-1.3M123.3,75.1l-0.9,-4.2M74.6,25.3l-1.7,-3.8M143.6,80.7l3.7,-1.7M73.6,112.3l-3.5,-2.2M122.4,101.5l-0.9,-3.2M62.8,-0.3l-2.2,-3.0M22.8,20.3l1.8,-4.0M109.5,29.8l-2.0,-0.8M106.3,107.4l-0.6,-4.1M129.4,100.5l2.8,-2.9M58.8,109.6l-3.5,-1.8M65.1,66.8l-0.5,-2.1M110.4,50.5l1.9,-3.1M15.2,53.7l4.5,-1.6M125.4,42.1l3.4,-0.6M135.9,61.0l0.0,-4.6M54.1,136.9l-0.9,-2.2M11.9,91.3l2.4,-4.2M17.5,102.7l4.3,-2.5M26.9,64.5l-2.3,-1.0M-2.1,114.6l-1.9,-1.0M39.9,9.4l-3.3,-0.6M2.3,13.0l-4.2,-1.7M83.7,137.2l-0.4,-2.7M73.6,86.1l-0.1,-4.0M1.9,18.7l2.0,-0.5M6.1,55.8l-2.7,-1.3M124.9,65.5l2.8,-0.0M76.3,35.9l-1.0,-2.5M34.1,80.9l2.7,-2.0M-4.7,85.8l0.7,-3.0M95.1,88.8l-2.5,-3.5M51.1,113.4l0.2,-2.8M18.1,16.4l2.7,-3.4M84.2,98.6l2.4,-3.7M79.3,55.8l-3.1,-3.4M65.0,90.9l-4.1,-1.0M123.3,132.8l0.6,-3.0M139.5,37.3l-1.1,-1.7M96.9,89.9l-0.7,-4.2M84.6,76.0l0.7,-2.7M2.8,83.3l0.2,-2.9M61.6,137.6l2.5,-0.3M105.3,21.0l1.6,-1.4M69.1,26.3l1.8,-1.8M140.5,142.0l2.9,-3.6M71.1,33.5l-3.5,-1.5M74.3,63.1l0.5,-2.7M-4.8,23.0l2.5,-1.5M79.5,15.4l-0.1,-3.5M80.8,79.5l3.6,-0.7M142.6,108.6l0.3,-2.0M68.0,79.1l-0.7,-2.0M69.1,18.7l-3.9,-0.5M18.2,76.1l1.2,-4.6M131.0,106.3l-2.5,-2.2M71.1,52.8l3.8,-0.7M46.7,113.7l-0.4,-4.1M28.7,138.0l0.4,-4.3M50.2,136.7l0.9,-2.5M17.4,44.5l-1.1,-1.9M59.8,84.5l2.1,-4.2M-0.6,123.8l3.3,-1.6M-5.5,73.9l1.9,-2.9M123.7,101.7l2.7,-2.3M7.2,15.8l0.3,-3.0M10.3,17.8l-1.7,-3.2M105.7,86.3l2.5,-3.3M51.4,28.7l-3.5,-2.2M22.6,123.2l0.9,-2.1M109.3,38.7l2.4,-0.5M116.2,45.4l0.6,-2.0M112.6,40.9l-1.6,-2.5M72.3,59.7l-3.2,-3.8M119.8,53.7l-1.7,-1.2M135.8,8.1l3.0,-2.5M26.7,132.2l1.3,-4.1M68.2,108.8l-1.8,-3.1M116.3,12.0l-0.1,-3.3M39.2,28.9l3.0,-0.8M37.0,103.0l-0.1,-2.2M55.4,7.9l1.0,-2.0M79.8,27.7l0.1,-3.3M38.4,95.8l3.6,-2.7M98.6,126.3l-3.1,-3.8M84.6,70.2l1.8,-3.8M55.0,95.7l3.1,-3.4M44.9,72.1l-4.3,-0.7M111.9,142.5l-1.2,-1.9M77.9,-0.0l-3.5,-3.3M11.1,123.0l-2.1,-1.6M-1.6,125.9l-3.7,-0.0M74.1,45.0l0.5,-4.5M6.0,83.8l0.6,-3.1M57.1,0.3l3.6,-3.0M36.4,134.1l-4.0,-2.1M111.6,81.7l-4.5,-1.4M36.7,26.2l2.3,-0.8M119.6,56.8l1.8,-1.1M70.8,123.0l1.8,-2.4M39.3,97.1l-3.3,-2.3M27.2,111.6l0.1,-3.4M61.7,78.1l1.1,-2.7M33.6,54.2l0.2,-4.2M43.1,13.4l1.0,-1.7M140.6,67.2l2.0,-3.1M11.6,28.7l1.1,-2.2M142.1,143.5l-3.2,-0.7M39.4,66.8l1.9,-2.2M2.9,37.5l0.9,-4.8M95.0,104.4l-0.0,-3.4M133.8,67.9l-0.2,-3.5M20.4,10.4l3.6,-1.1M144.8,45.2l1.7,-2.3M57.9,7.8l4.0,-0.1M131.8,73.2l-2.0,-0.6M111.0,128.4l1.1,-4.5M12.9,88.4l-2.1,-2.1M7.7,38.9l4.6,-1.8M133.9,122.0l3.6,-0.7M-2.9,26.5l1.8,-1.1M27.1,46.5l-2.7,-2.5M25.1,41.0l-0.2,-2.8M50.6,84.4l-0.5,-4.2M99.4,123.2l2.0,-3.5M146.5,123.3l-3.5,-1.2M78.9,12.1l2.4,-1.7M98.4,52.7l-2.5,-2.5M43.6,0.7l1.9,-1.4M104.3,91.2l-2.7,-0.1M108.3,53.1l3.0,-3.4M61.9,14.9l-2.2,-2.8M110.2,93.4l-1.4,-3.3M85.2,52.3l-3.0,-1.3M104.2,38.2l-2.5,-3.1M21.1,73.8l0.3,-2.2M114.3,119.6l2.3,-2.9M75.1,112.9l-1.5,-3.1M116.0,86.0l-1.0,-2.7M94.2,1.1l1.1,-2.3M69.3,115.4l2.5,-1.3M93.0,12.4l2.8,-1.5M52.5,64.8l-0.2,-4.7M89.0,49.9l2.5,-1.0M140.9,145.1l2.6,-2.0M81.9,130.6l0.4,-3.1M57.6,72.0l-2.1,-2.5M33.0,38.4l-2.9,-1.4M101.5,108.4l4.8,-0.5M38.3,139.4l2.9,-0.5M6.6,33.8l4.5,-1.3M75.8,30.1l2.0,-2.8M65.7,144.0l-1.2,-1.6M104.4,119.9l-1.8,-4.0M69.4,62.8l-4.6,-1.2M28.3,79.4l2.7,-3.7M124.1,139.9l3.7,-2.4M121.7,85.3l-4.3,-0.7M14.4,98.2l2.7,-2.6M12.4,118.8l-3.1,-0.2M28.9,38.8l2.3,-0.2M21.0,144.7l-3.0,-0.3M130.1,54.3l1.6,-1.5M53.7,82.5l-2.4,-0.8M16.9,129.1l-2.2,-2.9M34.0,110.1l-1.6,-2.9M52.9,28.1l0.7,-3.7M11.3,35.3l2.5,-0.7M12.9,40.7l0.7,-4.2M21.2,3.7l2.4,-1.6M132.7,134.6l0.2,-3.9M68.2,73.2l-0.1,-4.3M128.9,65.0l-0.6,-2.6M86.1,83.1l-0.1,-2.8M139.6,105.1l1.8,-2.9M26.6,15.1l1.7,-3.9M93.3,134.3l3.1,-0.6M25.6,97.9l4.3,-1.9M19.1,59.4l0.8,-3.1M128.1,45.1l-3.1,-2.8M50.4,21.2l2.4,-2.9M42.3,131.3l2.3,-0.0M89.9,125.6l1.5,-1.5M36.7,36.5l-1.1,-2.5M114.6,65.4l3.9,-1.2M100.4,4.7l3.6,-3.0M74.8,134.0l-2.2,-0.8M-4.6,49.8l3.3,-2.3M139.0,122.1l2.4,-2.8M29.7,9.7l-0.3,-2.3M62.9,134.9l-1.8,-4.0M133.0,42.0l-4.0,-1.3M108.7,99.8l-1.5,-3.7M138.6,46.3l1.9,-2.8M87.7,110.9l-2.8,-0.3M112.7,86.0l-4.1,-0.8M114.3,26.5l1.8,-2.1M57.9,78.9l4.0,-1.2M94.5,108.8l2.9,-0.0M48.4,35.5l4.9,-0.8M135.0,28.6l-1.7,-2.8M96.9,70.3l3.9,-2.4M-1.7,111.9l4.8,-1.0M95.1,46.8l-0.3,-3.0M68.4,131.5l-2.2,-1.8M69.3,9.3l-2.0,-1.4M61.3,66.2l-1.0,-3.1M147.3,22.2l-3.9,-1.6M109.7,17.2l-2.7,-2.6M138.1,119.9l-4.0,-0.8M19.6,11.0l1.3,-2.8M85.5,30.2l1.3,-3.5M107.7,23.6l-4.5,-0.4M131.4,96.6l0.0,-3.0M1.6,-0.1l-2.9,-3.2M128.4,117.6l-1.9,-2.7M42.0,82.1l-3.2,-0.0M59.8,27.4l3.3,-0.9M86.3,89.0l-1.6,-3.1M17.9,91.0l-2.5,-0.9M118.0,80.0l-2.6,-0.6M15.2,77.9l0.5,-2.4M10.0,47.9l4.1,-0.3M112.0,60.9l0.9,-2.7M58.3,125.1l-3.1,-1.3M66.3,57.8l3.3,-3.5M103.2,98.0l-4.2,-1.5M61.4,33.6l3.4,-2.7M90.8,116.4l2.2,-3.8M13.5,134.4l1.9,-3.4M29.3,137.3l1.8,-1.2M59.4,64.6l1.7,-1.1M59.2,68.8l-4.4,-1.8M19.3,54.6l4.1,-2.7M133.7,132.0l0.2,-4.2M-4.1,19.6l0.7,-2.0M10.1,5.4l-1.7,-4.0M-0.1,88.6l2.0,-4.2M72.4,7.0l4.0,-1.6M107.9,119.6l0.0,-2.2M29.9,118.6l0.3,-3.0M70.9,96.9l3.4,-2.2M48.0,106.1l3.8,-2.2M142.2,137.0l-2.8,-0.4M98.5,78.6l-1.8,-3.2M-3.5,146.3l-2.3,-2.6M45.0,7.4l1.9,-4.4M115.9,18.1l-4.2,-1.3M100.9,136.2l-2.1,-3.3M125.0,28.0l-3.4,-1.2M140.2,-2.9l-1.4,-2.5M55.9,44.4l-2.2,-3.7M47.9,62.0l3.0,-2.6M36.2,12.2l-0.6,-2.7M76.5,71.8l2.2,-0.6M29.1,98.0l1.9,-3.5M86.7,125.2l0.4,-3.5M50.4,55.4l-1.5,-2.6M71.8,-1.6l-2.6,-2.9M113.8,25.8l1.3,-4.0M120.4,72.0l-2.6,-2.3M19.7,20.0l-1.1,-3.7M131.5,88.1l1.4,-2.5M100.4,85.2l3.5,-0.3M27.7,33.8l-2.7,-1.9M145.3,18.7l0.9,-3.6M65.1,126.7l-0.9,-3.9M76.3,23.2l3.2,-1.1M10.2,138.9l2.4,-1.5M57.7,139.4l2.4,-4.0M119.8,95.1l-1.1,-2.0M143.6,86.8l-2.6,-1.6M107.1,57.1l-4.9,-0.8M92.2,12.2l3.0,-1.2M121.2,40.5l2.6,-4.0M144.1,77.3l-3.5,-1.7M71.4,4.6l1.9,-2.1M127.9,71.0l-0.9,-2.7M22.8,49.7l-4.1,-0.3M8.2,1.5l-2.0,-0.5M26.4,7.5l-1.8,-2.0M96.2,27.9l-3.8,-0.0M85.8,66.6l1.3,-4.6M0.2,62.9l-3.0,-1.4M122.5,129.0l4.2,-0.1M80.7,42.7l-3.6,-1.2M59.0,52.7l1.7,-1.2M-4.8,6.0l3.1,-1.4M117.8,114.0l-1.1,-1.8M58.9,24.9l-0.5,-3.6M140.1,80.3l-2.9,-0.6M81.0,22.7l1.1,-3.8M83.6,45.0l-0.6,-3.1M121.1,80.9l3.4,-3.0M23.3,0.9l0.1,-3.3M27.1,49.8l-1.8,-2.8M94.1,45.8l-2.3,-1.4M106.2,-1.7l-1.4,-2.0M140.0,13.7l0.3,-4.4M89.5,2.9l-3.5,-2.4M72.0,40.5l4.1,-1.0M124.8,108.3l-0.7,-3.7M46.4,124.9l1.1,-2.0M24.3,111.8l-4.5,-1.2M107.0,76.0l-2.3,-3.9M56.8,15.6l-4.6,-0.7M80.8,129.5l-4.0,-0.7M90.8,18.4l1.2,-4.5M123.7,13.6l-1.8,-2.8M100.8,94.6l-2.8,-3.4M27.1,73.2l1.0,-2.4M50.8,-3.2l4.4,-0.4M32.9,94.3l2.5,-3.4M49.9,48.6l-1.1,-3.0M74.3,95.5l3.5,-0.8M7.4,62.8l-3.4,-3.4M36.6,117.0l2.9,-0.4M45.8,61.6l-4.3,-0.7M119.4,128.5l-3.0,-2.9M81.2,142.1l2.8,-1.7M-5.3,40.8l2.6,-3.4M113.6,21.0l4.5,-1.3M132.0,93.8l2.0,-1.5M8.7,132.6l-4.3,-1.7M36.3,16.4l-2.5,-4.3M19.7,42.3l-2.3,-2.3M117.0,138.1l-3.4,-0.3M125.8,17.5l-1.8,-2.2M95.6,78.2l2.8,-2.2M39.6,51.4l-1.0,-3.0M128.8,74.8l-3.5,-0.8M77.0,107.9l-3.2,-1.7M98.3,7.6l3.4,-3.3M127.9,120.5l2.3,-2.8M52.7,58.5l0.4,-2.2M124.6,96.4l-4.2,-2.0M-4.3,30.8l-1.4,-1.8M2.9,107.3l1.7,-4.2M139.2,4.8l1.8,-2.7M95.1,7.3l1.6,-2.9M95.1,36.7l-1.7,-4.3M-0.6,133.3l-1.8,-2.9M40.6,93.8l2.8,-0.4M19.7,14.5l2.7,-1.3M21.1,32.7l-1.8,-2.3M88.1,60.4l2.8,-3.6M67.2,5.7l4.5,-0.6M112.5,52.9l4.3,-1.6M124.2,72.7l-1.7,-2.4M107.9,145.9l3.6,-0.1M89.0,116.3l-2.9,-0.7M5.2,69.6l1.7,-1.7M125.4,127.4l-4.2,-1.2M15.3,3.7l-2.5,-1.2M56.9,47.0l-3.0,-0.9M113.5,87.7l0.2,-2.3M42.8,59.3l2.6,-0.8M26.5,81.5l2.9,-1.5M32.7,51.1l-1.7,-2.1M52.3,10.3l-2.0,-2.0M94.0,123.8l-4.2,-2.2M21.2,88.3l-3.0,-0.0M125.2,121.1l4.4,-0.4M112.4,96.5l3.4,-0.2M107.8,46.3l-3.5,-2.0M10.9,47.7l-1.5,-4.0M138.7,144.3l-3.0,-2.4M88.2,64.3l3.1,-2.3M33.3,129.1l-3.2,-3.8M-0.3,81.6l1.1,-2.7M106.9,4.9l2.8,-0.5M41.3,115.8l1.5,-3.0M66.7,118.5l0.5,-2.1M77.4,5.0l3.1,-3.2M140.2,57.7l2.4,-2.1M47.3,57.6l0.1,-2.7M21.4,136.9l3.0,-3.9M67.2,51.4l0.5,-4.9M26.0,29.0l-4.0,-1.1M20.2,141.4l-3.3,-1.1M6.5,21.7l4.7,-1.1M109.6,124.9l0.9,-2.8M119.8,124.8l-2.9,-1.5M95.3,98.3l1.5,-4.7M95.4,132.0l-3.0,-0.8M71.8,32.1l3.5,-3.4M130.9,3.0l2.6,-0.6M105.4,30.9l-2.3,-2.3M60.3,46.7l1.3,-3.3M73.0,82.2l2.4,-2.5M94.5,105.3l-0.4,-4.1M54.3,97.6l2.6,-4.2M76.8,50.0l-2.8,-1.3M16.0,132.7l3.5,-0.4M103.7,101.3l-4.6,-0.3M81.8,31.1l3.3,-1.1M127.8,33.3l1.3,-3.0M64.1,101.8l-1.7,-2.7M136.8,64.6l2.7,-1.5M85.1,12.3l-2.2,-0.9M52.5,54.5l2.1,-0.1M47.3,25.1l1.7,-3.9M25.7,62.7l-1.8,-2.5M11.3,10.1l-1.3,-3.5M72.7,133.0l-3.2,-0.9M41.3,125.6l3.0,-0.9M121.2,84.8l1.9,-0.6M63.2,135.4l3.0,-1.6M87.7,15.7l-3.0,-1.0M-1.5,16.7l1.4,-1.9M139.3,114.1l4.1,-2.1M34.9,71.4l-3.1,-0.8M67.0,48.0l-1.3,-3.1M24.9,54.9l4.1,-1.9M19.4,23.0l-1.4,-1.6M10.7,109.1l2.3,-0.9M97.3,112.7l4.6,-1.6M46.7,23.1l-4.7,-0.1M31.9,104.9l1.2,-2.1M86.2,127.7l-3.2,-0.3M79.5,69.7l1.8,-4.4M38.8,106.0l-0.8,-4.5M40.4,32.3l-2.1,-0.1M58.7,38.9l-2.3,-0.7M79.5,92.4l-0.4,-2.1M12.4,53.8l2.5,-3.7M78.1,57.7l-2.4,-2.8M86.1,115.5l-3.7,-2.8M142.5,9.0l-2.1,-3.7M111.0,30.5l-2.0,-1.3M-4.8,136.3l2.7,-4.1M81.1,105.5l-1.1,-2.7M26.2,113.3l-2.9,-0.7M32.3,24.4l-4.5,-0.9M140.7,141.0l-2.6,-0.9M80.9,39.2l3.2,-3.1M116.2,16.4l-4.4,-2.4M75.2,118.3l0.6,-4.9M33.7,87.0l3.4,-0.0M114.1,135.2l1.8,-2.2M83.4,146.1l-1.3,-1.6M127.4,37.5l-1.9,-3.3M100.2,69.1l-0.6,-3.1M38.0,56.4l-0.3,-2.9M59.0,22.6l0.4,-4.2M47.5,89.1l2.9,-1.8M143.0,43.0l-2.9,-1.7M63.5,107.8l0.4,-2.2M22.6,23.2l-1.1,-3.1M101.2,88.2l-2.7,-0.0M141.3,33.6l-1.4,-2.0M96.3,139.5l-2.1,-0.3M1.4,48.6l3.9,-3.0M85.3,48.7l-3.0,-0.2M78.2,114.5l0.4,-3.2M49.8,144.3l-1.1,-2.5M78.5,33.1l-0.6,-4.2M99.5,28.8l-1.4,-1.7M87.4,97.3l3.8,-0.3M23.6,93.7l4.7,-1.2M144.7,1.4l1.6,-2.6M125.1,22.1l2.5,-1.6M141.3,37.8l0.8,-3.5M16.0,80.1l1.9,-1.1M73.0,19.5l0.6,-3.2M14.3,9.7l3.2,-3.7M35.4,117.8l-0.5,-4.4M10.8,115.3l2.3,-0.2M93.0,72.7l2.2,-2.8M124.0,46.9l-2.7,-1.0M-0.6,36.6l-1.9,-0.9M15.1,-1.8l3.5,-1.6M127.5,27.6l-2.9,-0.7M60.0,117.4l-2.5,-0.0M89.4,102.7l-3.4,-2.0M44.0,107.9l-2.1,-4.2M35.5,82.7l-3.9,-2.4M101.3,43.0l-1.4,-2.9M89.5,101.6l0.9,-1.9M66.5,123.8l-2.8,-0.9M128.4,64.8l3.5,-1.9M136.7,49.3l-1.8,-2.7M136.1,75.9l-0.7,-3.2M128.8,36.3l2.0,-0.3M139.8,50.5l1.5,-2.3M139.4,92.0l0.3,-2.6M10.1,92.3l-1.0,-4.3M111.9,114.0l-2.5,-1.6M142.9,120.0l-2.8,-2.8M57.0,103.4l1.6,-2.4M-3.6,0.1l4.2,-1.0M40.5,81.6l-1.3,-4.5M15.7,55.8l-2.2,-0.8M116.2,11.9l-1.6,-3.9M120.1,146.0l-3.6,-2.2M133.9,70.5l4.3,-1.7M127.8,8.4l0.7,-4.9M56.0,114.4l4.9,-0.7M126.2,136.1l-2.0,-0.4M27.9,76.3l3.1,-2.9M77.4,111.7l-3.8,-0.3M121.7,116.2l1.1,-3.0M67.8,43.7l-0.8,-4.4M136.8,53.2l1.3,-1.8M69.3,104.4l-2.2,-2.7M68.6,89.4l0.2,-2.7M8.7,43.4l3.2,-3.3M14.8,34.8l1.8,-3.9M53.9,40.1l1.4,-1.8M72.9,17.0l4.0,-1.5M15.2,46.8l-1.3,-1.7M24.7,73.2l-1.5,-4.3M111.5,133.1l4.9,-1.1M118.2,15.6l-1.7,-1.1M43.0,35.7l-4.3,-2.0M101.2,138.6l-1.8,-0.9M-0.6,102.6l-3.6,-2.9M138.6,30.5l2.2,-3.5M25.0,91.9l-3.0,-0.6M54.1,111.7l-1.1,-2.2M132.4,146.1l-4.5,-1.4M103.9,71.7l3.3,-2.6M75.1,102.6l-2.5,-1.2M100.1,47.0l-1.6,-2.7M134.6,127.7l-3.3,-1.9M41.7,119.1l-0.8,-4.0M9.6,83.7l1.5,-3.4M108.1,36.6l1.4,-4.6M82.2,37.9l-4.9,-0.2M44.5,-0.9l-1.8,-3.3M33.3,62.2l2.3,-2.4M139.3,107.7l2.0,-1.1M86.6,0.3l-3.2,-1.3M2.2,126.4l2.5,-3.0M70.1,117.0l-2.3,-0.3M2.1,48.6l4.0,-2.3M54.1,6.0l0.8,-4.7M13.2,65.1l-3.9,-3.0M106.7,6.4l-2.1,-2.4M12.6,71.9l1.7,-1.4M16.4,118.2l3.1,-2.9M-1.3,139.5l-2.0,-4.0M108.1,130.0l-0.6,-4.0M125.4,-1.6l4.8,-1.1M59.7,41.1l1.3,-1.9M101.4,104.9l-1.4,-3.3M85.2,61.8l-1.3,-2.4M90.1,5.3l1.9,-4.3M75.7,94.3l1.8,-3.9M21.7,50.9l3.4,-1.5M101.6,53.9l1.1,-2.4M63.2,-1.8l1.9,-0.9M90.6,85.3l2.0,-0.9M4.1,44.3l-1.9,-1.8M58.1,34.6l1.4,-2.0M20.9,45.2l2.9,-0.1M131.4,26.7l2.2,-1.7M103.1,32.3l-3.7,-1.2M23.6,58.1l4.7,-0.7M16.0,67.7l-2.1,-0.5M10.3,68.2l-2.2,-0.8M7.6,102.6l4.0,-0.1M108.8,68.8l-0.5,-5.0M38.5,132.0l0.4,-2.4M76.0,134.5l3.3,-0.3M16.6,109.3l-1.5,-1.8M85.5,84.9l-3.6,-3.4M118.9,131.6l1.4,-3.7M6.3,13.8l0.1,-3.4M13.5,145.1l0.5,-3.5M33.2,122.7l-2.0,-3.6M44.5,32.0l0.1,-3.8M75.2,146.9l-3.2,-2.1M56.5,123.6l0.2,-4.4M137.1,24.5l-0.1,-2.9M117.6,112.2l-1.3,-3.1M98.3,93.8l0.1,-3.6M122.8,95.7l0.9,-3.2M107.5,0.9l1.4,-1.7M0.9,35.1l-0.7,-3.4M46.8,94.6l-4.6,-0.2M43.0,86.6l1.3,-2.1M-6.3,109.0l3.0,-1.3M7.1,145.9l-1.9,-1.8M72.5,61.8l0.0,-2.9M147.0,65.3l-2.6,-3.0M5.3,2.1l-4.0,-1.4M100.5,37.4l-2.2,-1.6M29.2,-2.0l1.1,-2.0M134.7,63.4l0.0,-2.4M10.5,107.5l1.3,-3.4M24.5,103.8l-4.2,-1.7M115.7,38.2l2.9,-1.0M135.1,139.2l-1.1,-2.2M105.4,132.9l-1.8,-2.2M79.6,123.0l-1.1,-2.1M72.2,92.3l-3.5,-0.8M103.4,78.9l1.6,-2.9M12.3,91.3l2.8,-0.4M120.8,-4.0l2.1,-1.3M54.3,32.9l-2.1,-1.5M4.6,81.0l3.2,-1.6M145.2,101.6l-3.9,-1.3M135.1,15.0l-1.6,-2.5M126.1,125.9l0.2,-2.3M131.9,102.0l2.7,-1.9M2.0,66.9l-3.7,-1.0M58.8,106.6l-1.0,-1.9M123.2,9.0l1.4,-2.6M124.1,35.1l-3.9,-0.4M-3.5,119.6l-2.4,-3.8M67.0,27.0l-1.1,-4.4M61.2,47.1l4.8,-0.5M95.1,13.4l2.3,-0.3M81.3,18.2l-2.3,-0.6M77.1,76.8l-4.2,-2.5M69.5,25.8l0.7,-3.4M91.4,76.1l-1.9,-4.4M95.2,118.6l2.5,-0.9M9.0,46.9l-2.2,-1.7M102.1,82.1l0.5,-2.0M89.5,56.7l2.3,-2.7M71.9,52.0l-0.5,-4.4M63.6,73.1l0.2,-2.6M87.2,72.8l2.0,-0.2M147.1,-0.9l-2.3,-1.8M144.1,107.8l-4.0,-3.0M0.3,66.4l-4.9,-0.1M2.2,29.7l1.2,-3.2M62.9,113.9l1.9,-1.3M86.7,24.5l4.4,-1.5M49.5,15.2l1.3,-1.8M48.4,97.8l3.4,-1.3M21.5,127.9l-2.0,-0.1M37.8,146.7l2.4,-1.8M39.1,0.1l4.6,-1.1M52.9,94.7l1.8,-4.4M97.6,128.3l1.4,-1.5M38.6,62.2l0.0,-2.9M144.6,119.3l-2.0,-4.1M120.7,117.8l-3.1,-1.7M40.6,102.4l-0.9,-4.6M50.3,98.6l3.9,-1.9M32.1,60.9l-4.7,-1.3M15.1,101.3l-0.0,-3.9M50.9,52.5l0.8,-2.9M107.5,46.8l2.4,-1.5M99.6,18.2l-1.5,-2.3M124.2,79.9l1.0,-4.8M85.8,55.4l2.7,-3.6M33.7,27.4l-2.2,-0.5M10.2,7.4l2.2,-1.5M134.7,18.7l-0.5,-2.4M94.4,33.9l1.0,-4.0M107.8,59.2l0.7,-2.5M-3.5,76.9l4.3,-0.8M67.7,91.6l0.9,-4.3M22.2,36.8l2.0,-1.0M28.9,2.3l-2.8,-3.5M68.1,55.4l-4.1,-2.9M78.9,68.1l-4.7,-1.7M-2.8,56.8l-2.9,-1.6M24.0,99.9l2.5,-0.4M17.1,123.5l-4.1,-0.8M75.3,141.6l-2.3,-3.9M111.8,7.9l3.0,-1.0M104.0,69.3l-1.7,-2.0M61.7,37.1l-0.8,-1.9M104.3,144.8l2.5,-1.0M52.3,117.0l-1.8,-2.0M138.2,97.2l2.5,-2.6M129.7,66.3l1.2,-3.0M28.4,19.8l-4.1,-2.5M35.9,74.0l2.8,-1.6M5.8,141.0l3.9,-0.6M32.5,58.7l1.6,-2.9M44.3,78.6l-1.1,-2.0M13.8,29.1l2.8,-0.9M119.4,91.6l-1.2,-3.9M95.7,39.6l-3.1,-1.1M41.6,7.8l-2.8,-1.4M2.2,5.6l1.5,-1.9M147.6,72.8l-3.4,-1.9M88.2,30.7l3.4,-1.5M146.8,96.7l-2.0,-2.6M65.0,1.1l-3.5,-0.4M15.4,114.8l-0.1,-2.7M120.6,135.8l-4.4,-0.3M119.5,74.1l0.5,-2.1M83.0,125.1l-3.0,-2.4M139.4,126.3l-3.4,-1.8M44.7,101.3l1.5,-3.2M82.4,69.5l-2.2,-1.0M0.5,75.9l2.2,-0.4M107.7,108.8l1.1,-2.1M31.1,104.3l0.6,-3.2M130.3,86.8l-4.6,-1.6M52.0,10.4l-2.0,-3.8M39.3,124.2l-2.0,-0.1M8.6,18.6l-3.5,-1.7M132.9,17.2l0.2,-2.8M88.0,125.6l0.4,-2.2M65.9,85.8l1.0,-1.9M40.4,23.0l-2.0,-0.5M5.3,73.2l-3.5,-1.3M-1.9,80.1l-0.6,-2.7M5.9,127.8l-3.3,-2.7M2.3,133.3l2.5,-0.5M90.7,30.2l1.4,-3.8M32.9,67.9l-1.9,-3.4M72.9,81.7l-1.0,-1.8M73.3,88.1l3.6,-1.8M7.8,9.3l-0.7,-4.6M10.1,136.0l1.0,-2.4M39.7,18.3l-2.1,-3.7M58.1,75.2l-1.9,-1.6M67.4,40.6l3.8,-0.4M51.9,70.9l3.4,-1.9M4.6,112.7l2.2,-2.2M107.0,1.6l-4.0,-2.5M22.3,6.0l-0.4,-4.1M11.8,106.9l4.6,-0.3M113.7,143.7l0.7,-2.0M57.5,15.1l3.3,-0.9M102.9,49.1l3.9,-1.0M86.5,4.8l0.3,-2.3M130.9,141.8l-2.7,-1.1M77.4,58.1l2.6,-0.7M40.1,129.7l-0.7,-2.8M58.5,90.4l0.7,-3.0M-1.1,53.4l-2.5,-1.3M34.0,120.7l2.3,-0.6M111.6,131.7l-1.4,-3.6M21.4,123.9l-3.8,-1.0M56.7,37.3l-0.5,-2.7M93.5,80.4l-4.4,-2.0M39.9,59.3l3.6,-3.5M89.2,110.8l3.5,-2.8M79.1,143.3l2.4,-4.0M11.3,132.9l-3.2,-1.3M57.2,146.4l-2.7,-1.3M50.9,69.3l0.6,-2.2M141.1,100.8l-3.9,-1.5M15.5,35.9l3.1,-2.0M98.7,146.4l0.7,-2.8M140.1,17.6l-4.4,-1.1M115.2,103.8l3.0,-1.7M88.8,94.2l1.9,-1.8M86.9,-1.6l-1.0,-3.3M89.4,9.7l-2.7,-1.7M63.4,88.5l-0.7,-3.7M55.7,129.0l-1.9,-2.3M95.9,62.0l1.7,-1.4M87.0,16.5l-4.0,-1.8M13.8,50.2l2.2,-0.8M132.0,86.1l-2.6,-1.9M126.0,56.3l3.9,-0.5M72.8,131.3l0.6,-2.3M7.2,26.7l0.4,-3.7M88.1,133.8l2.1,-1.6M116.8,1.3l-1.2,-3.2M79.0,111.5l1.1,-2.8M69.5,104.9l-1.4,-2.7M36.7,40.3l-3.8,-1.0M116.7,39.1l2.8,-0.3M107.5,107.5l-0.5,-3.3M121.9,49.5l-1.2,-2.3M105.4,116.5l-1.8,-3.9M134.1,30.8l-1.2,-2.3M61.9,136.9l2.0,-3.8M16.0,9.9l-2.4,-1.9M132.2,69.2l-1.5,-1.4M19.1,27.8l1.2,-3.0M114.1,110.9l-1.2,-2.3M73.3,8.9l-4.9,-0.2M71.6,45.9l-2.4,-1.0M58.0,135.9l-4.9,-0.0M65.2,14.9l-1.2,-4.1M137.0,99.0l-4.2,-2.0M131.7,108.9l-2.1,-2.4M133.9,105.3l1.1,-3.0M116.4,62.2l3.6,-1.9M82.9,23.2l-0.0,-2.2M12.3,75.5l-1.9,-2.6M135.7,36.4l-2.1,-0.6M94.1,93.1l-1.3,-1.9M0.4,106.3l-1.1,-3.3M113.4,36.5l-0.2,-2.4M123.1,52.1l-3.4,-1.5M37.1,23.0l-0.5,-3.7M105.5,124.1l-2.1,-1.0M71.9,84.7l-2.7,-3.8M30.2,65.4l-4.0,-0.1M111.3,33.6l2.4,-1.3M13.6,79.2l3.4,-2.2M61.2,9.4l-3.3,-2.3M49.0,112.9l1.9,-3.6M123.8,124.6l-2.1,-2.2M14.9,24.9l-2.4,-0.1M130.6,80.4l0.8,-2.0M54.1,140.2l0.9,-2.3M125.9,56.1l0.1,-2.0M61.9,123.7l3.5,-3.5M95.1,59.9l4.0,-2.8M37.8,111.7l-4.4,-1.8M6.3,110.8l0.2,-3.9M129.4,120.8l2.3,-1.0M4.6,41.8l-1.3,-1.8M18.2,111.0l-3.2,-1.2M121.0,106.0l0.4,-3.3M107.3,87.7l-2.3,-3.1M92.8,117.2l-1.6,-1.9M77.7,64.2l2.4,-2.5M27.0,113.5l-2.6,-0.7M33.9,6.3l1.6,-4.5M143.1,132.4l0.5,-4.5M82.9,106.8l3.3,-0.5M133.2,-3.7l-2.2,-0.2M88.9,4.5l3.4,-1.5M10.7,59.9l1.0,-4.1M11.4,139.0l1.8,-2.1M93.4,114.8l3.8,-2.2M27.5,90.1l3.4,-1.4M22.6,90.1l0.1,-4.5M130.4,143.4l-3.3,-1.5M144.0,56.9l1.4,-3.6M5.3,-0.4l1.7,-2.2M40.7,-2.3l-2.1,-1.1M146.0,4.8l-2.1,-0.3M78.8,84.2l-2.0,-3.6M102.6,-1.9l-0.1,-2.8M112.1,71.7l-2.7,-0.3M70.2,74.1l1.0,-3.3M110.7,52.2l2.1,-3.1M100.7,59.3l0.6,-4.7M107.4,137.1l4.0,-0.2M93.3,97.9l-1.1,-4.1M129.1,8.5l-3.4,-0.5M36.2,143.4l-0.4,-4.0M37.0,144.4l-3.9,-2.6M30.9,2.6l-1.6,-1.6M23.0,99.8l3.5,-1.3M53.2,103.9l-2.0,-3.0M44.6,18.1l-1.9,-2.2M77.6,128.2l-2.1,-0.4M7.5,97.2l1.7,-2.1M19.9,107.6l-2.3,-1.5M86.6,111.1l-2.3,-1.1M118.9,139.7l-2.0,-3.7M145.8,68.5l-1.3,-2.2M14.9,-1.3l1.2,-1.8M-1.6,91.0l2.6,-1.7M126.9,20.9l4.5,-1.5M4.8,99.4l2.9,-3.7M91.8,141.8l2.3,-3.7M26.7,73.7l-1.3,-1.8M135.1,13.4l-0.2,-2.5M112.2,80.8l2.5,-2.1M52.4,77.5l-3.0,-3.6M37.9,45.3l-0.4,-4.8M61.3,13.9l-1.5,-4.6M88.7,87.9l-1.7,-3.3M97.6,-0.6l-2.5,-2.3M142.1,76.5l-2.6,-0.4M95.3,133.0l-1.0,-3.7M124.4,62.2l-1.8,-1.4M133.2,46.5l4.0,-2.8M85.7,148.3l-0.1,-4.6M50.9,25.4l4.6,-1.4M132.1,59.4l-4.2,-1.4M146.1,16.4l-1.9,-3.1M1.6,14.5l-0.8,-1.9M51.8,1.2l2.7,-3.4M102.0,75.8l-2.9,-2.7M102.7,129.7l3.7,-1.9M113.3,65.0l2.6,-2.3M-0.2,101.6l2.2,-0.9M20.5,60.6l1.7,-4.0M49.4,32.1l-0.1,-4.1M16.7,136.5l4.0,-0.5M133.8,12.8l-4.1,-1.3M74.7,12.9l2.2,-3.8M37.2,59.7l-4.1,-1.8M123.6,21.0l2.3,-4.1M44.0,64.6l3.0,-0.0M68.1,94.6l-1.7,-4.4M134.4,125.8l4.2,-2.4M41.1,70.5l-1.2,-2.4M104.1,17.0l4.1,-2.0M55.8,90.3l-2.5,-1.5M8.0,87.7l-2.8,-2.6M15.4,136.0l2.3,-0.9M22.5,127.8l-1.0,-3.1M34.2,139.0l-0.1,-3.8M81.2,-2.2l-0.3,-4.9M89.0,38.7l-0.6,-3.9M100.8,25.3l2.6,-0.5M78.8,129.0l1.2,-2.6M-5.4,13.5l1.2,-3.6M81.8,10.1l0.3,-4.7M139.3,83.3l-4.2,-1.6M52.6,146.2l-2.1,-0.8M128.8,112.6l-1.6,-4.1M121.2,139.2l1.4,-4.1M27.1,142.7l-1.6,-2.8M48.9,125.7l3.6,-0.7M53.9,123.1l2.3,-2.6M133.4,24.0l-3.6,-0.0M59.2,64.3l-0.7,-4.8M-5.3,95.2l3.8,-1.8M4.8,34.9l0.1,-2.3M113.8,3.3l-4.0,-0.2M63.9,144.2l-1.1,-2.2M46.8,132.7l3.0,-2.1M104.4,31.3l-1.3,-3.7M127.1,50.1l-2.2,-2.7M121.0,110.7l0.3,-3.6M42.5,140.1l3.6,-0.8M0.0,40.3l1.4,-2.3M138.3,113.8l-2.3,-1.0M35.4,18.0l3.4,-0.9M117.3,-3.2l2.5,-0.4M3.9,52.2l-2.4,-0.5M89.9,58.3l4.9,-0.6M14.5,15.7l-2.6,-2.9M47.3,71.3l3.0,-1.3M91.9,32.7l0.0,-3.8M60.9,55.2l-3.0,-2.7M86.0,44.7l2.3,-0.2M29.0,38.3l-1.1,-3.8M34.6,83.9l0.2,-3.7M0.0,117.4l1.0,-2.6M69.3,4.8l-3.2,-0.5M94.8,42.0l0.7,-3.3M10.9,18.5l-2.6,-3.0M122.9,23.9l2.8,-1.0M36.3,69.0l-0.8,-3.9M120.7,1.1l2.6,-1.0M81.1,-3.2l0.8,-2.1M145.7,30.4l-1.0,-4.6M101.6,117.0l-3.4,-0.8M114.5,102.7l-4.8,-1.3M29.6,-0.9l-3.1,-1.1M85.1,93.9l-0.7,-3.7M26.1,10.7l1.4,-4.0M64.0,101.5l1.8,-1.2M102.0,10.4l-1.8,-4.3M-0.4,60.6l1.3,-4.2M50.0,-2.5l-1.1,-4.4M92.1,62.6l-2.6,-0.2M25.4,67.2l-1.0,-2.1M107.1,134.1l-1.8,-1.7M120.7,90.2l2.4,-2.6M21.0,34.8l0.0,-2.4M76.3,117.7l2.3,-2.1M45.9,90.3l-2.6,-0.6M142.7,74.3l-2.0,-4.2M96.6,19.8l-3.4,-0.2M33.9,2.1l0.1,-3.1M28.9,86.3l-1.7,-2.7M104.4,12.1l-2.2,-4.1M130.1,116.2l-0.3,-2.0M62.4,23.5l-2.2,-3.6M55.3,106.9l-1.7,-1.9M77.9,100.2l3.1,-0.7M31.6,140.7l3.1,-1.6M112.1,75.3l-0.5,-2.0M141.7,11.6l4.1,-1.7M62.9,128.5l-2.6,-0.1M106.4,75.9l3.8,-2.3M39.6,137.4l-0.6,-2.8M-4.2,90.4l3.5,-2.7M20.0,71.0l-3.8,-2.0M83.4,103.0l-0.7,-4.5M67.3,115.2l0.6,-4.1M133.7,42.3l-0.7,-3.4M5.6,118.7l-0.7,-2.7M129.8,91.9l-3.5,-0.8M35.4,50.4l2.4,-2.5M125.2,144.7l-1.9,-1.5M62.1,120.1l0.1,-4.6M140.4,23.8l-1.4,-2.0M103.2,112.3l-1.6,-3.2M15.3,22.2l1.2,-4.4M71.1,101.4l-3.5,-1.1M135.9,54.0l1.0,-4.4M24.5,118.2l-3.0,-0.9M119.6,48.7l-2.1,-0.9M93.3,104.7l1.5,-2.0M111.5,20.6l-3.2,-2.8M44.9,120.8l3.2,-3.7M31.3,144.4l2.2,-0.5M68.5,138.4l-1.8,-1.5M27.6,22.1l2.3,-0.7M112.1,104.0l-1.5,-4.3M138.2,78.9l-2.9,-1.8M29.2,115.3l0.7,-4.3M31.9,46.0l2.6,-2.0M92.0,20.4l0.1,-3.9M142.9,87.7l0.3,-4.8M45.5,11.8l2.0,-0.8M68.9,28.9l-1.8,-1.1M-5.7,-3.0l3.6,-0.9M0.3,46.2l-2.5,-2.1M114.6,106.4l2.1,-1.6M124.8,119.3l-2.1,-1.7M36.6,-2.4l0.8,-2.3M117.7,36.1l0.8,-4.6M6.9,142.9l3.2,-0.4M2.8,144.5l-3.7,-1.1M98.6,64.5l4.2,-1.3M39.3,88.9l1.5,-1.8M66.0,32.7l-0.8,-2.2M108.0,64.5l1.8,-2.3M122.2,33.0l-0.4,-2.2M118.4,6.6l-4.9,-0.3M56.6,84.8l-1.0,-3.1M10.8,126.4l-3.9,-0.9M49.3,91.7l2.2,-2.1M145.2,116.5l-1.2,-2.4M87.7,80.7l-2.5,-3.1M72.5,52.8l-1.3,-1.6M79.9,28.8l3.6,-2.4M76.1,121.8l1.3,-2.6M46.9,78.4l1.9,-1.5M60.4,4.2l-2.3,-3.1M143.7,31.9l1.3,-3.4M90.4,66.1l1.7,-1.4M104.0,141.9l-1.9,-1.2M3.9,139.8l-2.5,-3.6M98.5,64.8l-3.0,-1.2M50.2,46.9l-0.3,-3.6M90.4,39.7l-2.4,-1.1M101.8,63.0l3.5,-2.2M133.8,88.3l3.4,-0.7M62.3,19.9l3.5,-1.1M64.0,1.2l3.8,-1.2M113.0,93.4l1.4,-2.6M144.0,91.9l3.4,-3.3M133.2,-2.0l1.3,-3.3M63.7,110.6l-3.6,-1.0M58.9,26.9l-2.7,-0.8M67.5,139.4l2.7,-0.7M102.0,133.0l-1.5,-2.2M143.3,60.4l-1.2,-4.8M70.9,145.7l-1.0,-1.8M93.4,36.1l-2.9,-0.4M57.3,48.6l-2.1,-2.0M142.2,125.2l4.2,-1.0M141.0,85.1l1.3,-3.7M101.6,125.9l1.1,-1.8M24.4,142.8l1.6,-4.4M5.8,65.7l-3.7,-2.6M33.7,107.6l2.1,-2.7M90.1,25.4l1.9,-2.4M69.9,13.4l-1.9,-1.9M43.0,28.8l3.3,-2.8M84.2,43.7l-3.3,-3.4M126.3,83.2l-0.3,-3.5M27.7,27.8l3.3,-3.6M89.3,106.1l0.8,-2.4M25.2,118.8l3.0,-1.3M79.8,8.0l-1.0,-2.3M112.4,46.6l3.0,-0.5M73.9,2.3l4.3,-1.4M113.9,-0.9l0.3,-2.9M45.7,56.4l-2.7,-4.0M130.2,34.3l-0.7,-4.0M53.0,35.9l2.5,-1.5M95.6,71.6l3.8,-1.9M119.7,67.3l2.8,-1.7M130.1,95.8l-4.1,-2.3M128.3,2.1l-2.8,-2.8M135.1,92.9l-2.4,-1.0M42.1,109.6l-1.8,-1.4M68.8,66.5l1.5,-3.1M47.4,41.1l-2.6,-0.1M46.2,5.1l2.7,-1.0M6.6,137.1l2.0,-0.5M28.0,39.7l1.0,-1.8M27.1,106.0l-0.6,-2.5M5.1,93.6l-1.6,-1.5M38.0,43.7l3.1,-3.7M112.5,10.2l-3.5,-1.2M66.1,77.4l0.0,-3.1M87.3,141.6l2.0,-1.4M22.6,97.3l-3.7,-2.8M-4.6,91.1l-0.5,-2.2M52.9,133.9l-1.6,-4.6M83.6,57.1l-0.2,-3.3M113.9,70.4l-1.2,-4.0M117.5,96.9l-0.1,-2.5M58.4,131.7l-1.1,-4.7M1.6,60.0l-3.7,-0.2M124.6,15.1l-0.6,-3.3M33.4,6.2l-2.3,-0.3M118.3,58.3l1.0,-3.0M23.4,79.8l-3.1,-3.8M2.6,28.7l3.2,-1.5M117.1,100.9l3.0,-3.4M87.1,116.2l1.4,-1.5M67.3,37.1l-1.8,-3.4M123.8,140.7l-0.2,-4.6M126.8,19.1l-4.9,-0.8M7.4,53.0l3.0,-0.6M115.5,124.4l-3.6,-2.6M30.2,132.6l1.6,-4.4M37.0,70.4l-4.9,-0.2M78.3,90.2l-0.6,-3.1M45.4,111.0l-0.8,-3.6M42.8,50.1l2.0,-2.1M23.1,145.7l3.6,-0.5M18.8,116.2l-1.6,-1.4M62.2,96.3l2.5,-2.0M140.4,51.7l3.0,-1.8M4.3,125.2l2.5,-1.9M146.3,42.9l-2.7,-1.2M107.9,-3.4l4.5,-0.6M79.7,75.8l2.6,-1.0M42.3,123.7l0.4,-2.7M112.3,88.1l-1.8,-1.5M23.6,97.6l3.0,-1.7M43.3,76.7l1.5,-3.5M71.4,127.1l1.6,-3.4M63.5,100.2l1.4,-3.4M93.8,51.0l3.1,-1.2M139.9,13.3l-3.8,-1.9M88.9,136.2l-2.9,-1.8M3.7,97.0l-3.2,-3.5M46.5,38.4l-2.6,-1.3M41.9,17.9l-0.4,-2.0M22.7,66.0l-4.6,-0.5M72.3,35.0l-3.5,-0.1M131.0,136.3l-2.3,-1.0M135.2,109.9l-3.0,-2.9M41.0,46.9l-1.8,-4.1M71.6,137.2l1.4,-3.2M18.4,86.0l-2.0,-2.0M47.7,68.9l2.8,-3.3M75.6,70.5l-3.2,-2.3M117.2,25.1l0.7,-3.5M96.6,25.3l-2.0,-3.0M78.6,80.9l4.2,-0.8M69.5,19.9l0.2,-3.0M78.6,97.3l-0.1,-3.4M61.2,59.9l-0.8,-2.0M5.1,59.5l0.3,-3.8M119.1,28.2l-3.4,-2.9M46.3,118.4l2.4,-1.8M79.4,50.9l-0.9,-4.8M41.7,46.6l2.2,-2.7M90.4,73.1l-4.4,-1.5M103.7,41.9l0.8,-2.5M49.6,19.4l-4.2,-0.8M48.1,115.9l3.2,-0.3M105.8,99.1l2.3,-2.8M128.7,4.2l4.6,-0.0M20.1,4.7l-0.7,-4.0M3.0,114.2l0.4,-3.3M89.5,-1.3l3.5,-1.9M30.3,91.6l1.0,-2.2M44.5,138.2l-1.9,-1.8M27.9,125.7l-2.6,-1.2M83.1,117.7l-2.4,-0.7M39.3,74.3l0.7,-2.4M9.2,-3.7l2.9,-1.6M12.7,70.8l-2.9,-3.5M134.5,2.1l-1.7,-1.1M100.6,52.4l0.3,-3.4M46.5,101.4l2.7,-0.2M50.0,42.0l2.0,-1.2M53.9,58.9l4.2,-1.4M89.1,51.4l1.1,-4.4M93.6,137.7l-0.9,-2.0M81.3,44.9l-0.2,-2.9M50.2,3.0l0.4,-3.2M46.0,89.4l-2.6,-4.1M76.8,146.2l0.7,-3.9" stroke="#167a2c" stroke-opacity="0.5" stroke-width="0.9" fill="none" stroke-linecap="round"/><path d="M16.1,126.3l-2.6,-2.7M83.7,29.5l-0.4,-2.5M38.7,56.9l1.1,-1.9M30.8,130.5l-3.4,-1.0M100.5,92.3l-3.1,-1.6M108.0,87.2l-2.3,-1.2M97.4,5.8l-2.3,-2.1M56.5,71.7l-0.4,-3.2M123.2,21.1l1.3,-2.8M88.1,16.4l-1.0,-1.5M1.4,4.3l1.7,-1.4M98.2,57.1l0.7,-3.0M48.8,104.9l0.2,-3.0M72.1,95.7l-3.9,-0.9M98.2,90.3l-3.4,-0.1M35.5,147.3l-0.3,-3.0M111.0,13.4l-0.2,-3.2M113.6,96.0l0.8,-1.3M64.2,92.8l-0.6,-2.0M137.1,18.6l3.0,-2.5M64.2,63.3l-0.2,-3.0M26.2,-0.3l1.4,-3.2M33.3,65.7l-1.5,-1.1M46.4,97.0l0.7,-2.9M95.4,38.8l1.0,-1.8M86.0,101.9l-1.8,-1.0M38.7,90.7l-1.9,-0.9M22.6,116.8l2.3,-3.3M70.1,108.9l-2.9,-2.4M130.3,57.6l1.2,-2.5M34.1,13.5l-1.2,-2.8M60.8,105.3l2.2,-0.9M115.7,121.7l-1.9,-0.9M14.3,83.0l-1.4,-1.0M80.4,71.5l-1.1,-3.0M98.1,24.6l-3.8,-0.9M117.0,90.0l-1.6,-1.4M112.5,112.8l2.8,-1.0M61.7,2.6l1.2,-1.3M80.6,46.0l1.9,-1.9M73.8,31.1l-3.2,-0.5M26.4,80.6l-0.8,-1.7M63.8,13.1l-1.2,-3.4M13.6,64.8l-0.6,-1.8M63.6,55.4l2.0,-1.1M37.6,130.0l-1.1,-3.7M43.7,146.4l0.9,-3.7M93.6,102.1l3.5,-1.3M142.4,124.4l2.9,-2.0M124.3,19.2l2.9,-2.2M4.9,41.1l1.1,-3.0M25.4,76.5l1.9,-1.8M92.3,122.5l-1.0,-1.1M105.6,139.4l1.8,-3.2M48.9,120.1l-1.5,-2.5M87.0,76.4l1.3,-1.1M34.3,45.2l3.5,-0.2M130.0,2.5l2.9,-0.5M138.6,93.4l-2.1,-1.9M144.5,46.0l2.7,-2.6M146.3,130.5l-2.3,-2.7M142.4,121.2l-1.3,-3.4M100.8,27.9l1.1,-2.5M87.5,89.7l1.4,-2.2M52.2,65.5l-0.0,-2.7M133.4,4.7l1.4,-1.1M74.7,95.6l-1.4,-3.5M25.1,16.3l2.6,-2.6M31.9,121.0l-1.7,-1.4M29.5,101.0l2.3,-1.3M35.3,109.3l0.0,-3.0M18.0,33.5l-1.7,-0.0M50.9,60.0l1.6,-2.9M41.5,30.8l-3.2,-2.4M74.1,55.7l-1.1,-1.0M95.8,69.8l1.9,-2.0M93.3,126.7l-3.6,-1.4M46.5,131.0l1.3,-1.7M135.6,128.0l-3.5,-1.1M88.1,67.9l2.5,-1.0M75.2,123.8l-1.9,-3.4M119.3,31.8l1.7,-2.1M133.0,57.5l1.9,-3.2M123.2,35.8l2.8,-1.8M131.5,86.9l-2.4,-2.5M123.6,31.7l-0.8,-2.4M44.6,136.8l0.9,-1.5M96.8,121.5l3.4,-1.7M8.1,145.3l1.0,-1.5M134.4,120.4l2.2,-1.3M126.7,126.6l0.1,-1.7M36.3,88.1l1.7,-0.7M10.2,22.3l-1.5,-3.6M79.8,83.3l-1.1,-3.8M49.0,125.0l-1.0,-1.1M134.1,124.8l-0.0,-2.1M95.5,15.1l0.9,-1.3M23.8,35.3l2.1,-0.3M3.1,27.9l-2.4,-2.4M56.1,84.7l-1.1,-1.6M89.4,27.6l-0.2,-3.3M102.0,1.5l1.4,-1.9M70.1,118.0l3.2,-1.3M42.7,11.9l1.5,-2.8M131.2,94.9l3.2,-2.2M134.4,53.8l1.0,-2.3M52.3,122.4l3.5,-1.4M109.2,1.2l-1.1,-1.9M41.1,94.1l-0.9,-3.7M42.5,41.1l1.0,-2.4M132.6,117.6l-2.3,-1.4M57.2,22.4l-3.5,-1.8M80.2,107.3l2.0,-1.5M102.6,23.1l2.8,-1.9M128.3,41.4l-0.2,-1.7M40.1,31.8l-1.6,-0.1M20.0,48.1l2.0,-3.1M104.7,57.3l2.2,-0.6M63.0,-1.2l-2.1,-0.3M73.1,83.9l-2.2,-1.3M57.7,87.5l2.4,-1.4M132.9,12.0l0.2,-2.3M33.3,0.7l-0.4,-3.8M19.7,16.1l2.4,-2.8M46.3,68.6l1.9,-2.1M76.1,15.7l-2.7,-2.5M14.7,146.8l-1.2,-1.9M29.6,66.0l-1.7,-0.5M31.6,45.6l-0.8,-3.0M104.1,50.8l1.1,-1.6M4.1,125.1l-1.7,-0.2M77.7,49.7l2.9,-0.7M94.8,55.0l1.9,-3.0M71.1,123.8l-3.2,-2.2M-3.9,104.8l-1.0,-1.9M52.0,92.1l1.3,-1.9M131.2,16.7l2.4,-1.2M58.9,116.5l3.1,-1.6M45.7,25.9l-2.8,-0.1M101.5,42.2l0.2,-2.1M143.5,9.9l1.5,-1.3M25.7,64.8l-2.7,-0.6M90.0,41.8l2.6,-3.0M30.7,43.3l1.6,-2.3M57.6,49.7l-1.1,-1.4M132.2,-2.6l1.4,-2.5M94.5,132.4l2.5,-0.0M146.1,81.5l-2.4,-0.8M93.9,93.0l3.7,-0.1M143.3,14.5l3.8,-0.1M65.8,14.1l2.6,-1.7M-2.1,18.5l2.8,-1.8M107.8,128.0l2.1,-1.3M91.6,110.0l1.8,-2.6M134.1,31.9l1.6,-2.7M111.4,43.8l-1.4,-1.4M125.4,66.3l2.6,-0.0M142.6,41.0l2.7,-1.5M14.9,136.4l-3.3,-1.4M121.7,34.9l-3.2,-2.3M75.7,92.1l-0.8,-2.1M-0.7,129.8l-1.0,-1.6M12.8,116.3l-2.1,-1.5M114.1,66.3l-2.5,-0.7M121.3,1.2l1.9,-2.6M22.3,130.8l-0.6,-2.6M139.7,48.6l-1.1,-1.5M110.8,62.2l-2.9,-1.2M131.4,68.8l2.7,-1.1M73.3,23.8l-0.8,-1.8M83.4,45.1l-0.1,-3.8M91.4,37.5l-2.6,-3.0M81.8,144.6l1.5,-3.0M66.0,31.7l-0.9,-2.3M64.2,85.8l2.1,-0.9M56.1,142.6l1.6,-0.8M49.5,65.8l-1.7,-0.4M32.0,62.5l-0.8,-2.8M83.2,1.2l-2.0,-1.7M54.0,114.9l0.7,-2.4M142.2,93.1l-1.8,-0.5M92.8,11.5l-0.5,-2.3M72.7,108.9l2.3,-0.8M25.8,8.0l3.2,-0.1M1.5,91.4l-3.1,-1.1M31.3,111.9l3.3,-0.0M128.4,147.7l-1.1,-3.7M41.6,-0.5l0.7,-2.1M121.0,81.9l-0.3,-1.8M91.1,84.4l2.4,-2.2M130.9,139.6l3.0,-0.8M96.6,56.0l2.1,-1.3M12.0,110.4l0.8,-3.6M130.1,81.1l1.4,-0.8M45.5,46.2l-0.2,-2.2M78.4,143.9l-2.0,-1.6M4.4,52.1l-3.0,-1.4M21.1,95.1l2.4,-0.8M90.7,3.1l-1.9,-1.3M32.1,56.1l-0.1,-3.1M43.0,120.0l0.3,-3.6M3.5,97.5l-1.5,-3.2M109.7,100.4l1.3,-1.7M145.0,135.8l1.5,-3.6M59.1,61.2l-0.3,-3.6M100.5,24.2l3.0,-2.1M52.4,82.0l-2.0,-1.9M117.5,-2.5l-0.5,-1.7M96.8,-0.3l-3.1,-1.4M104.2,96.3l-0.1,-2.8M38.8,24.1l-0.0,-2.2M97.5,67.9l-1.2,-2.9M122.6,114.4l-2.2,-0.8M21.4,118.9l1.0,-2.6M-0.1,94.1l-2.4,-0.1M98.4,31.0l-2.1,-2.3M85.9,115.1l0.2,-1.9M83.6,139.1l-1.6,-2.5M41.5,124.0l1.6,-0.1M4.7,-2.8l2.7,-0.5M107.2,106.4l-1.9,-0.5M123.9,91.4l-0.5,-1.9M55.5,118.6l1.5,-0.9M58.4,74.5l1.3,-0.9M71.0,75.7l-1.0,-2.3M-0.4,139.2l2.8,-1.0M74.9,115.3l-2.9,-2.0M75.9,33.0l-1.6,-2.0M134.3,106.0l0.1,-3.7M136.1,91.8l2.4,-3.0M113.6,0.9l-1.2,-1.1M49.9,128.3l-0.7,-2.1M29.0,42.5l-1.8,-1.2M55.8,48.9l-1.5,-2.4M1.1,124.7l-1.8,-0.5M66.5,59.4l-3.2,-1.2M132.9,113.9l-1.6,-0.4M24.1,24.5l0.5,-2.0M10.7,53.7l-1.2,-1.6M0.3,56.6l0.7,-1.6M66.8,-0.0l1.9,-1.9M9.6,82.8l-1.2,-1.3M56.9,101.5l2.0,-1.6M17.4,72.7l-1.8,-0.3M72.9,140.9l-1.4,-0.9M87.8,48.4l-1.7,-0.8M58.4,2.4l2.8,-0.0M56.6,34.7l1.9,-3.4M137.4,75.5l-0.6,-3.3M129.3,22.4l3.0,-1.3M114.4,128.1l2.6,-2.7M82.3,6.7l0.7,-3.8M72.9,133.1l-1.8,-1.3M85.5,117.7l2.0,-0.5M9.2,34.2l-1.5,-2.3M110.0,27.6l-1.6,-0.3M11.4,128.9l-2.7,-2.0M96.7,98.7l2.1,-0.1M13.8,10.4l-3.5,-0.8M43.1,62.1l3.3,-1.6M38.9,45.1l2.3,-0.9M113.1,86.0l-0.5,-1.7M46.4,112.7l-1.2,-3.5M83.3,81.0l-1.7,-2.0M54.2,139.6l-1.7,-0.1M44.2,5.1l-1.8,-2.1M14.2,137.7l-2.8,-1.8M118.0,138.3l2.3,-1.1M137.4,26.2l-1.5,-3.0M89.0,12.6l2.7,-0.9M93.7,34.8l-0.8,-2.7M11.4,59.3l1.3,-1.7M-3.6,73.4l-1.8,-2.7M52.0,-0.5l-1.9,-0.2M18.3,13.8l-0.8,-1.3M32.5,124.9l-3.3,-0.3M17.0,119.0l-1.9,-1.8M116.5,44.5l-1.7,-0.8M40.9,129.4l-0.4,-2.0M137.3,83.6l0.4,-2.9M114.5,15.4l-2.4,-2.6M49.2,54.3l0.0,-3.3M97.8,136.9l1.2,-2.3M16.9,86.8l-1.9,-0.8M121.8,62.0l-2.2,-1.5M12.2,42.9l2.9,-2.1M61.2,139.4l2.3,-2.5M142.4,-2.9l-0.7,-2.0M137.9,138.5l1.8,-0.2M57.6,129.9l-1.5,-1.6M136.8,69.1l-2.3,-2.4M74.5,8.9l-2.8,-2.0M15.9,75.1l-2.5,-3.1M90.4,73.6l1.3,-0.8M49.6,77.1l-2.4,-0.9M115.5,105.5l0.7,-1.8M70.4,20.5l-0.3,-2.9M62.5,38.5l-0.9,-1.5M-0.3,91.6l3.6,-0.1M4.4,36.4l-2.4,-3.1M43.5,74.3l-1.7,-0.1M49.1,15.8l-2.2,-2.9M6.9,73.6l1.1,-2.6M118.8,102.0l0.1,-2.7M44.3,82.3l1.4,-1.2M134.2,133.2l2.0,-1.1M123.4,13.3l-1.8,-2.1M108.8,77.2l-2.5,-0.6M121.1,142.5l3.2,-1.5M27.9,105.8l-0.8,-3.8M122.0,4.4l1.0,-2.7M131.4,131.8l3.9,-0.5M63.0,25.5l0.9,-1.9M1.9,41.1l-3.4,-1.2M129.5,101.0l1.2,-1.1M140.4,4.5l1.4,-3.3M91.0,54.0l-0.5,-2.7M-3.6,84.7l-1.6,-0.7M69.0,40.4l-1.7,-3.4M2.9,139.4l0.2,-2.4M114.2,7.2l-1.5,-2.0M71.7,45.5l3.1,-0.9M37.8,111.7l2.4,-1.0M120.4,71.4l1.9,-0.5M9.3,15.1l0.8,-2.1M146.5,77.8l-2.6,-0.9M93.2,111.1l-0.3,-1.9M38.0,8.3l2.1,-0.1M12.6,-2.7l2.1,-0.7M84.8,77.4l1.1,-2.2M43.3,2.2l3.7,-0.9M59.3,14.4l1.0,-3.2M62.8,78.7l-2.5,-1.2M99.9,11.0l0.9,-3.7M79.1,115.1l0.0,-2.5M51.8,97.1l0.3,-1.6M93.1,77.2l0.1,-1.8M58.8,0.8l-0.3,-2.7M60.3,106.9l-1.9,-2.5M109.1,138.0l1.6,-3.5M82.5,123.4l1.8,-0.4M13.6,101.1l-1.3,-1.1M26.6,116.0l1.0,-1.1M104.9,71.1l-2.6,-0.6M87.3,136.0l2.9,-0.4M112.6,57.4l-0.6,-1.5M131.0,67.0l2.3,-1.2M69.7,69.1l3.9,-0.7M112.1,55.5l-2.1,-1.9M20.2,143.1l-1.8,-0.7M45.2,88.4l0.4,-1.6M104.9,18.6l2.0,-0.3M145.5,57.0l-1.1,-2.9M12.7,6.0l0.9,-2.3M85.1,1.6l1.4,-2.5M88.8,93.5l-3.1,-0.3M89.2,82.9l1.8,-1.1M121.7,51.3l-1.7,-2.8M20.5,125.3l2.9,-2.1M85.4,8.4l-1.5,-1.6M85.3,37.1l0.1,-2.6M33.1,3.5l0.5,-3.0M36.3,17.0l-1.2,-2.9M25.1,28.6l1.8,-2.1M11.0,118.8l1.1,-1.2M52.8,8.8l-3.0,-1.3M43.3,86.3l-0.7,-2.1M104.4,142.7l-1.1,-2.0M102.9,33.2l-1.4,-1.5M130.5,46.9l2.4,-0.6M60.8,137.7l0.2,-3.2M35.8,24.6l-2.3,-3.1M88.5,131.8l0.4,-1.6M24.5,54.1l-3.6,-0.7M60.8,103.4l2.5,-1.2M15.3,20.1l0.7,-1.9M143.7,89.9l-1.0,-2.1M31.9,69.2l-3.1,-1.8M66.5,45.3l-2.3,-0.1M51.0,18.0l0.6,-3.3M106.7,133.2l3.5,-2.0M-3.4,113.8l0.1,-2.3M105.6,122.1l-1.5,-1.0M49.8,-3.0l-1.8,-0.8M77.2,67.4l-2.6,-1.2M0.3,119.0l2.7,-0.3M117.5,42.9l0.4,-1.8M23.4,-2.0l-3.0,-0.9M23.9,27.5l-2.5,-0.1M84.5,60.0l-2.3,-2.9M31.5,88.4l-3.8,-0.4M52.9,23.1l3.2,-2.3M6.7,88.7l3.6,-0.8M131.2,34.0l-1.6,-3.0M74.6,21.6l0.4,-3.1M76.7,-1.3l0.9,-2.7M4.9,12.0l-0.4,-2.1M51.1,99.4l-0.3,-2.1M64.5,87.5l-2.0,-1.8M38.9,103.1l-2.9,-2.5M20.1,89.8l-0.6,-3.3M97.9,79.3l0.9,-3.8M85.5,122.2l-0.2,-2.6M106.0,46.4l-1.9,-1.0M5.6,114.2l-1.5,-0.7M8.4,30.1l-2.0,-0.7M17.3,93.8l1.5,-0.8M102.5,81.2l-2.0,-2.8M107.1,40.3l-2.5,-2.1M56.9,67.5l2.0,-0.8M64.4,71.9l2.1,-1.0M-2.6,63.4l1.7,-1.6M-2.7,26.2l2.0,-1.2M93.3,135.8l3.5,-0.7M81.1,14.9l-3.0,-1.0M108.3,68.7l-3.1,-1.3M-3.6,24.6l-0.9,-1.9M72.1,88.6l1.0,-2.0M102.3,17.0l-1.9,-1.0M104.2,131.2l-2.5,-1.4M59.6,51.1l2.7,-0.3M127.4,85.3l-1.9,-2.3M82.6,94.2l-1.8,-0.8M40.8,66.6l1.0,-1.4M139.1,102.5l1.3,-1.0M27.4,4.5l-0.8,-3.8M134.1,41.5l-0.3,-1.5M132.3,79.7l0.2,-3.4M14.6,115.9l1.7,-0.3M12.5,8.6l-0.3,-3.4M137.2,0.6l0.4,-3.5M94.5,47.5l3.6,-0.4M99.1,105.4l-0.0,-2.3M23.5,105.5l-3.6,-1.1M17.9,102.3l1.2,-2.8M70.9,5.5l2.3,-1.0M35.6,31.9l-3.7,-1.2M4.3,75.8l2.6,-0.8M75.8,8.9l0.0,-2.0M126.9,47.8l-0.6,-1.6M32.6,136.3l0.8,-1.3M76.8,128.4l1.7,-0.7M19.7,79.2l-0.2,-3.5M122.6,100.8l2.0,-0.7M8.2,62.4l0.9,-1.3M79.7,129.0l1.3,-0.9M0.3,104.9l3.2,-1.6M38.6,15.0l1.4,-2.9M110.1,142.7l2.4,-1.0M0.8,62.7l0.6,-3.2M67.1,36.3l-0.6,-3.9M-2.9,45.0l-2.2,-1.8M142.8,35.4l-2.0,-0.5M102.3,47.5l0.8,-3.7M96.4,144.0l-2.2,-1.6M48.8,73.1l1.3,-2.1M-1.2,9.3l1.6,-0.4M-1.4,80.2l2.0,-2.8M113.5,106.1l-3.1,-1.6M139.0,63.0l2.3,-0.1M3.4,23.2l0.5,-1.5M49.6,3.7l-0.3,-1.8M137.6,33.1l1.1,-3.0M24.8,99.5l-2.5,-1.2M142.3,144.6l-0.5,-2.8M126.3,112.6l-0.3,-2.0M15.9,131.8l-3.0,-1.1M33.0,73.5l2.0,-1.5M47.0,20.8l-2.8,-1.8M142.1,73.8l-0.6,-3.6M20.1,70.6l1.8,-1.9M126.9,94.0l-1.6,-1.3M38.5,83.3l-2.7,-1.7M112.0,73.6l1.4,-1.6M55.5,126.9l0.5,-3.6M75.4,116.7l2.0,-1.3M23.9,8.2l-3.1,-2.3M126.9,110.4l-0.2,-2.9M139.9,9.4l-2.6,-2.0M108.8,7.5l-2.8,-2.5M140.1,104.7l3.5,-0.7M138.8,113.5l-0.1,-1.8M104.7,13.9l0.4,-1.6M134.7,55.5l-3.1,-2.1M99.1,125.6l2.4,-3.1M68.4,68.4l-0.7,-2.7M-5.7,101.2l3.2,-1.6M125.7,49.7l2.0,-0.6M92.8,121.3l2.4,-3.1M7.3,134.2l-2.4,-2.9M41.3,108.3l-1.7,-2.9M144.9,110.0l-3.6,-0.4M106.4,86.2l-1.5,-2.5M73.6,137.6l2.3,-0.7M50.7,133.3l1.1,-2.6M31.6,55.6l-1.5,-2.2M67.3,141.9l-0.0,-3.5M84.9,21.5l0.9,-2.4M117.2,12.5l0.3,-2.0M7.1,95.9l0.5,-2.8M23.0,41.5l-1.4,-0.7M89.4,144.7l-1.4,-1.5M126.8,139.6l0.9,-2.9M55.3,43.0l1.4,-2.6M81.8,88.4l-1.3,-1.7M108.1,114.6l-2.4,-1.9M1.5,103.2l2.9,-2.3M36.1,29.9l-2.1,-2.1M40.1,73.7l-0.8,-1.6M109.5,32.6l3.8,-0.1M117.7,77.0l2.0,-2.6M103.7,111.7l-0.8,-2.0M79.6,6.9l-3.0,-0.2M14.8,61.6l-2.5,-2.9M141.0,64.9l-2.6,-1.6M104.8,100.1l-1.5,-0.4M54.3,34.6l0.9,-2.4M101.6,2.2l-1.9,-0.0M66.6,136.5l2.4,-2.1M32.3,120.2l-1.5,-1.1M119.2,143.9l-1.1,-2.4M24.1,58.2l-2.8,-2.8M3.5,15.3l1.2,-2.5M118.8,63.9l1.6,-0.0M-3.0,6.1l-1.8,-1.7M62.8,15.2l-3.9,-0.8M30.2,97.7l1.6,-2.4M124.3,42.5l1.8,-2.3M84.2,54.0l2.3,-0.7M29.4,32.9l1.5,-1.7M120.7,134.5l-0.8,-1.5M44.5,144.4l-3.7,-0.9M139.4,51.2l1.4,-1.5M89.7,57.9l2.2,-0.1M89.3,98.3l3.0,-0.7M53.1,32.8l-1.3,-3.3M52.2,79.2l0.8,-3.6M119.1,121.4l-2.0,-2.5M124.1,121.3l-3.8,-0.6M75.5,30.2l-2.1,-1.4M61.1,29.0l-3.8,-0.4M109.5,89.7l2.5,-0.8M119.2,19.1l1.0,-2.1M82.0,115.8l-1.5,-1.3M76.8,61.6l3.1,-2.4M140.8,29.3l1.0,-1.9M121.3,95.3l-1.6,-0.1M-0.8,35.1l2.6,-2.0M122.1,6.8l-2.6,-1.1M4.1,74.5l1.9,-2.6M38.5,135.1l2.5,-0.7M8.7,42.2l1.4,-0.9M87.7,110.2l-1.7,-1.4M32.0,142.0l-1.8,-0.4M68.3,56.6l-0.3,-3.6M6.9,144.5l-0.2,-2.1M59.9,97.2l2.3,-1.1M29.5,56.6l0.8,-1.3M6.0,78.6l3.8,-0.4M15.0,104.6l2.6,-0.5M31.4,96.2l2.8,-1.2M136.4,143.6l3.5,-1.0M43.7,55.7l-3.2,-2.2M144.2,21.1l-1.3,-2.9M114.3,77.4l1.2,-2.0M14.8,125.7l-3.5,-1.5M104.4,64.3l-2.1,-1.8M60.8,126.0l2.9,-0.9M94.5,61.0l-2.8,-0.3M49.1,144.2l1.4,-3.6M16.5,29.9l-3.6,-0.6M80.0,72.0l-3.1,-1.0M67.1,121.0l-0.9,-2.3M56.2,56.2l-2.3,-1.7M61.6,132.8l2.5,-0.4M3.6,50.3l1.6,-2.6M16.4,51.8l-2.3,-3.3M69.9,33.9l-2.0,-1.1M129.1,132.9l-3.6,-1.2M35.0,128.0l-3.2,-0.8M122.5,23.8l-2.8,-2.5M68.0,101.8l0.8,-3.6M110.1,22.2l-0.6,-3.7M32.5,100.3l-2.1,-0.5M51.7,38.8l1.8,-1.1M86.1,67.6l-1.9,-3.1M132.2,108.0l-0.8,-2.6M141.2,99.4l1.1,-2.0M10.5,-1.6l3.1,-1.3M98.9,96.4l3.0,-0.2M-0.9,121.4l0.7,-3.5M99.6,147.0l-0.6,-3.9M35.0,80.2l-0.3,-2.2M20.7,85.1l3.1,-0.6M123.9,75.7l2.3,-0.0M2.1,64.7l0.7,-2.4M24.4,135.5l-1.7,-0.9M77.7,104.5l-0.9,-3.2M18.5,49.5l-1.3,-2.4M107.9,34.9l2.1,-0.6" stroke="#249440" stroke-opacity="0.55" stroke-width="0.8" fill="none" stroke-linecap="round"/><path d="M20.7,105.2l0.1,-1.8M114.7,41.0l2.3,-0.8M45.3,0.3l-1.1,-2.7M21.3,70.4l-2.3,-1.5M142.6,72.8l-0.1,-2.2M72.5,67.1l2.1,-0.6M125.9,39.2l0.9,-0.6M104.1,34.2l-0.5,-2.3M22.2,146.4l0.7,-2.5M9.3,23.1l2.6,-0.2M-2.4,11.4l1.0,-2.3M62.2,63.6l-0.7,-0.7M132.6,117.2l-0.5,-1.2M54.5,96.4l0.0,-1.4M22.7,39.3l1.7,-0.7M65.6,62.0l-0.3,-2.3M107.2,64.2l1.7,-0.4M-0.7,137.0l-1.6,-0.9M110.4,54.2l-0.7,-0.8M51.4,9.7l1.4,-2.6M44.8,63.5l0.5,-0.9M135.6,144.1l-0.1,-1.8M144.6,120.3l-0.5,-1.3M118.0,29.0l-2.0,-1.4M20.1,4.6l2.1,-2.0M88.0,43.5l0.8,-2.4M64.9,39.3l1.8,-0.2M28.9,80.3l0.3,-1.2M80.2,126.0l-2.0,-0.6M79.7,144.3l-2.1,-0.0M69.7,31.1l-1.6,-1.2M111.9,96.1l-0.2,-1.6M83.1,117.9l1.2,-1.1M21.7,109.7l-2.4,-1.4M115.7,80.8l0.2,-1.5M86.2,89.4l-1.2,-0.3M64.3,96.7l-0.4,-2.6M32.4,113.9l-2.0,-1.2M135.8,13.2l2.6,-1.0M131.9,101.1l1.6,-0.3M34.9,29.2l-0.1,-1.5M38.3,119.5l2.5,-0.1M18.9,12.3l-1.9,-0.1M27.7,-2.5l-1.3,-0.2M10.8,89.2l0.6,-1.5M26.6,58.5l0.6,-0.9M1.6,45.4l1.5,-2.4M85.7,56.0l1.4,-0.8M10.0,126.6l2.0,-1.5M49.1,127.9l2.0,-1.4M9.3,69.0l-2.1,-2.0M106.0,128.0l2.4,-0.6M7.7,61.5l-0.4,-2.2M100.9,73.2l-1.8,-2.2M114.2,8.0l-1.8,-1.9M138.6,89.3l-2.6,-1.0M44.8,140.2l1.7,-2.2M55.3,39.6l-1.0,-1.0M93.1,107.1l-0.2,-1.5M73.5,-3.6l2.0,-1.5M124.9,101.5l0.9,-1.8M-5.3,25.8l0.6,-1.2M122.5,37.2l-1.2,-2.3M18.7,48.0l-0.2,-1.2M123.5,138.7l1.9,-2.0M52.7,65.7l0.5,-0.9M61.8,84.9l1.3,-0.1M112.7,117.9l-2.6,-0.2M124.9,52.2l0.8,-2.4M59.4,23.5l1.0,-2.5M8.5,7.3l-1.6,-0.7M112.9,134.5l0.8,-1.2M38.0,18.8l1.5,-2.1M77.0,135.9l-0.8,-1.2M93.6,101.0l-0.4,-2.3M129.1,90.0l-0.3,-1.3M130.9,131.0l-1.2,-2.3M55.1,26.4l0.6,-2.7M-5.1,106.3l0.5,-2.7M33.2,65.2l1.5,-1.1M121.5,22.0l2.8,-0.2M113.5,22.0l1.9,-2.2M-1.9,97.0l-2.5,-0.1M19.6,53.5l-1.3,-0.0M36.0,131.9l0.2,-2.6M84.1,74.2l2.5,-0.6M45.7,94.3l1.0,-1.7M145.2,62.7l1.3,-0.0M63.1,140.0l-2.7,-0.9M121.8,-3.3l-1.9,-1.7M97.8,1.4l-1.3,-1.5M-0.6,86.9l2.1,-0.5M72.6,118.3l0.9,-2.2M82.4,3.2l0.4,-1.0M47.7,82.3l1.7,-0.1M53.2,117.0l0.6,-1.4M41.5,77.0l-1.1,-0.5M-4.3,128.6l0.6,-1.0M95.9,54.8l-0.7,-1.2M103.3,127.3l-2.6,-1.2M38.4,46.7l-0.8,-0.7M75.0,18.2l-1.8,-1.7M134.1,49.3l-2.5,-0.4M144.5,2.0l1.3,-2.2M98.2,142.1l-2.8,-0.4M38.8,113.4l-1.4,-0.8M67.2,124.2l0.5,-1.4M98.3,12.8l1.9,-2.1M136.5,25.4l-0.9,-0.8M36.3,12.7l-1.1,-2.4M83.1,17.8l-1.3,-1.0M81.5,31.0l-0.1,-1.1M93.0,78.1l-2.0,-1.4M70.2,91.0l-0.5,-1.1M47.7,27.8l1.5,-0.2M127.3,106.0l0.4,-1.9M131.3,68.0l-2.8,-0.8M27.7,100.7l-2.6,-0.6M91.0,49.6l2.6,-0.3M19.5,142.9l-0.5,-1.4" stroke="#50c864" stroke-opacity="0.75" stroke-width="0.8" fill="none" stroke-linecap="round"/></g><path d="M116,129.3H133.6" stroke="#35e83a" stroke-width="1.6"/></svg>
</svg>
</body></html>
